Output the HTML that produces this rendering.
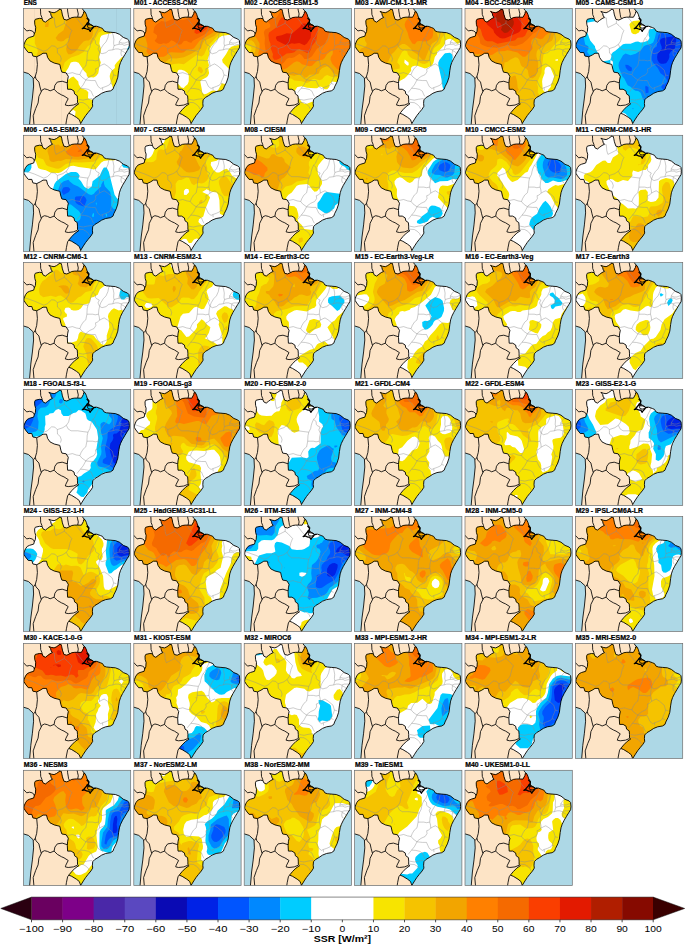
<!DOCTYPE html><html><head><meta charset="utf-8"><style>
html,body{margin:0;padding:0;background:#fff;}
body{width:685px;height:945px;overflow:hidden;}
svg{display:block;}
text{font-family:"Liberation Sans",sans-serif;}
</style></head><body>
<svg width="685" height="945" viewBox="0 0 685 945">
<defs>
<clipPath id="cb"><path d="M37.6,0.7 38.3,2.9 39,6.5 40.5,10.9 43.4,11.6 46.3,10.2 48.5,9.1 51.4,8.7 54.3,8.7 58,8.8 60,5.1 60.2,3.3 61.6,3.3 62.9,5.9 63.7,8.6 65.5,11.2 65.1,13.5 65.9,15.3 68.1,16.4 70,17.6 70.5,18.1 73.4,17.8 76.9,19.1 79.1,20 80.7,22.6 83.1,23.4 87.1,23.8 92,24.2 96,25.8 100,29 104,30.6 105.6,32.2 106,36.3 105.6,39.5 104,41.9 101.6,45.9 99.2,49.9 97.2,53.9 96,57.5 95.2,62.3 94.4,68.7 92.8,73.6 90.4,78.4 89.6,80.8 87.1,82.4 82.3,83.2 78.3,84.8 74.6,87.3 71.6,89 69.3,91.4 69,94.9 69.3,97.8 67.5,100.7 64.6,104.2 62.3,107.1 60,110.6 57.3,115 56.7,113.5 55.9,111.2 53,108.9 48.3,106 45.4,104.8 45.9,104.2 48.3,101.3 51.8,97.8 55.3,95.4 54.1,94.3 54.1,90.8 53.8,87.3 51.2,85.5 50.6,82.6 47.7,80.8 44.2,80.8 43.9,75 44.2,71.5 44.9,67.9 42.7,64.4 38.5,63.7 37.5,60.9 36.4,56 30.8,54.6 26.6,52.5 24.2,49 23.1,44.8 19.6,44.8 16.8,46.6 13.3,48.3 9.5,47.6 8.4,44.1 4.9,44.1 2.1,40.6 0.4,37.8 0.7,35.7 2.1,32.4 3.9,30 6.2,28.9 10.3,27.7 10.9,25.4 12,23 12.3,18.9 11.4,16 11.2,12.5 12,10.8 16.1,9.9 18.7,10.2 19.6,12.5 22,13.7 24.3,11.9 26.6,10.2 29,9 27.8,7.3 27.2,4.9 25.5,2.9 27.8,3.8 30.7,4.3 33.1,3.2 36,1.1Z"/></clipPath>
<clipPath id="cpn"><rect x="0" y="0" width="107.3" height="116.2"/></clipPath>
<filter id="bl" x="-5%" y="-5%" width="110%" height="110%"><feGaussianBlur stdDeviation="4.0"/></filter>
<path id="land" d="M-1,-1 58.5,-1 59.6,1.5 61.6,3.3 62.9,5.9 63.7,8.6 65.5,11.2 65.1,13.5 65.9,15.3 68.1,16.4 70,17.6 70.5,18.1 73.4,17.8 76.9,19.1 79.1,20 80.7,22.6 83.1,23.4 87.1,23.8 92,24.2 96,25.8 100,29 104,30.6 105.6,32.2 106,36.3 105.6,39.5 104,41.9 101.6,45.9 99.2,49.9 97.2,53.9 96,57.5 95.2,62.3 94.4,68.7 92.8,73.6 90.4,78.4 89.6,80.8 87.1,82.4 82.3,83.2 78.3,84.8 74.6,87.3 71.6,89 69.3,91.4 69,94.9 69.3,97.8 67.5,100.7 64.6,104.2 62.3,107.1 60,110.6 56.9,117.2 6.1,117.2 7.4,101.7 9,89.6 10.2,77.6 9.8,69.5 5,65.1 -0.2,63.5 -1,63.3Z"/>
<path id="br" d="M37.6,0.7 38.3,2.9 39,6.5 40.5,10.9 43.4,11.6 46.3,10.2 48.5,9.1 51.4,8.7 54.3,8.7 58,8.8 60,5.1 60.2,3.3 61.6,3.3 62.9,5.9 63.7,8.6 65.5,11.2 65.1,13.5 65.9,15.3 68.1,16.4 70,17.6 70.5,18.1 73.4,17.8 76.9,19.1 79.1,20 80.7,22.6 83.1,23.4 87.1,23.8 92,24.2 96,25.8 100,29 104,30.6 105.6,32.2 106,36.3 105.6,39.5 104,41.9 101.6,45.9 99.2,49.9 97.2,53.9 96,57.5 95.2,62.3 94.4,68.7 92.8,73.6 90.4,78.4 89.6,80.8 87.1,82.4 82.3,83.2 78.3,84.8 74.6,87.3 71.6,89 69.3,91.4 69,94.9 69.3,97.8 67.5,100.7 64.6,104.2 62.3,107.1 60,110.6 57.3,115 56.7,113.5 55.9,111.2 53,108.9 48.3,106 45.4,104.8 45.9,104.2 48.3,101.3 51.8,97.8 55.3,95.4 54.1,94.3 54.1,90.8 53.8,87.3 51.2,85.5 50.6,82.6 47.7,80.8 44.2,80.8 43.9,75 44.2,71.5 44.9,67.9 42.7,64.4 38.5,63.7 37.5,60.9 36.4,56 30.8,54.6 26.6,52.5 24.2,49 23.1,44.8 19.6,44.8 16.8,46.6 13.3,48.3 9.5,47.6 8.4,44.1 4.9,44.1 2.1,40.6 0.4,37.8 0.7,35.7 2.1,32.4 3.9,30 6.2,28.9 10.3,27.7 10.9,25.4 12,23 12.3,18.9 11.4,16 11.2,12.5 12,10.8 16.1,9.9 18.7,10.2 19.6,12.5 22,13.7 24.3,11.9 26.6,10.2 29,9 27.8,7.3 27.2,4.9 25.5,2.9 27.8,3.8 30.7,4.3 33.1,3.2 36,1.1Z"/>
<path id="st" d="M1.0,35.2 11.2,38.8 20.4,42.8M20.4,42.8 23.9,41.4 28.2,37.4 31.4,37.7 33.9,40.2M33.9,40.2 34.1,44.7 36.8,47.0 37.9,50.4 37.1,53.2M33.9,40.2 39.5,38.3 43.0,35.9M43.0,35.9 44.6,39.4 47.6,41.4 54.3,41.4 59.7,42.2 64.6,42.8M43.0,35.9 45.2,32.7 46.8,26.0 48.4,22.1 43.6,17.1 40.9,14.9M40.9,14.9 36.6,17.1 32.5,19.1 31.4,15.5 30.9,9.4 28.7,9.4 27.4,5.7M40.9,14.9 41.1,11.9M52.7,9.1 55.7,12.7 58.4,16.3 60.3,18.2M75.6,18.2 74.6,21.0 72.4,25.2 71.3,28.0 69.4,29.9M69.4,29.9 67.8,33.5 67.0,36.3 66.5,39.1 64.6,42.8M69.4,29.9 71.9,32.1 72.1,34.9 73.2,36.3 75.9,37.7 74.6,40.5 76.2,43.9M87.2,23.2 85.3,25.2 84.5,29.3 82.6,33.5 79.9,36.3 77.3,40.5 76.2,43.9M88.8,23.8 89.7,26.6 90.5,30.7 90.2,34.9 90.7,37.2M99.5,28.8 97.7,30.7 95.8,33.5 95.8,35.8 93.4,36.3 90.7,37.2M90.7,37.2 89.9,40.0 89.4,41.4 85.3,41.9 82.6,44.2 78.6,45.3 76.2,43.9M76.2,43.9 75.4,47.6 75.1,51.8M75.1,51.8 71.9,52.4 69.2,51.8 66.5,51.8 63.5,51.8M64.6,42.8 63.8,46.2 63.5,51.8M63.5,51.8 62.4,57.5 59.7,59.8 57.6,63.3 56.5,66.2M56.5,66.2 53.0,65.6 49.0,64.2 44.9,65.1 43.0,64.8M56.5,66.2 58.4,68.6 62.4,71.5M75.1,51.8 75.9,54.7 76.2,57.8M76.2,57.8 73.8,59.8 72.1,60.4 72.4,63.3 70.5,66.2 66.5,68.0 63.0,70.6 62.4,71.5M76.2,57.8 78.6,56.4 80.8,55.5 84.0,57.5 88.8,61.6 90.2,66.5M90.2,66.5 92.9,67.2M90.2,66.5 89.4,69.1 88.0,72.1 87.0,75.0M87.0,75.0 89.4,75.9M87.0,75.0 85.9,76.5 82.6,78.0 79.1,79.2M79.1,79.2 79.4,81.9M79.1,79.2 77.3,80.1 74.6,78.0 73.2,75.0 71.9,72.1 67.8,72.1 62.4,71.5M62.4,71.5 59.7,76.5 57.0,79.8 53.5,84.2M57.0,79.8 61.1,80.1 65.1,81.0 67.8,82.8 68.9,85.6 70.2,88.0M55.2,90.9 59.7,91.7 63.8,90.8 68.9,90.1M54.9,93.9 59.7,94.2 62.4,95.8 65.1,98.3 65.9,100.5M105.6,33.5 104.2,33.5 101.5,34.6 98.8,34.6 95.8,33.5M106.1,36.5 104.2,36.0 100.7,36.9 98.8,35.8 95.8,35.8M105.1,40.2 102.9,40.5 100.2,40.5 97.5,41.4M101.8,44.7 100.2,43.3 98.0,42.2 97.5,41.4M97.5,41.4 94.8,40.5 92.1,40.5 89.4,41.4M98.0,42.2 97.5,44.7 98.0,47.0 99.1,47.6"/>
<path id="rv" d="M63.3,9.4 65.4,11.8 65.1,13.5 63.3,15.6 61.6,17.6 60.1,19.3 58.9,20.1 61,19.6 62.6,20.3 63.9,20.8 65.4,20.8 66.8,22.9 67.4,21.7 69.4,19.6 70.3,18.2 72.4,17.9"/>
<path id="bb" d="M63,14.3 64.8,13.9 66.2,15.1 65.6,16.4 64,16.7 63.2,15.8Z"/>
<path id="mj" d="M64.2,17 65.1,16.4 66.8,16.4 69.4,17.2 69.8,18.1 69,19.3 67.1,19.7 65.2,19.5 64.3,18.5Z"/>
<path id="cs" d="M6.1,117 7.4,101.7 9,89.6 10.2,77.6 9.8,69.5 5,65.1 -0.2,63.5 -1.4,63.3 M57.3,115 56.9,117 M58.5,-1 59.6,1.5 61.6,3.3"/>
<path id="bd" d="M17,-0.5 17.2,3.5 17.3,6.1 18.5,9 18.7,10.2 M-0.4,18.6 3.3,22.5 6.2,21.9 8.6,22.5 10.3,23.6 10.9,25.4 M44.1,-0.5 44.2,2.5 44.8,5.8 45.2,8.5 46.3,10.2 M53.6,-0.5 54.2,2.5 54.9,5.5 54.3,8.7 M36,-0.5 36,1.1 M13.3,48.3 14,56 13.3,63 11.9,67.9 10.5,70 M11.9,67.9 12.6,70.5 15.5,73.6 16.6,78.5 17.9,83.2 15.5,88 14.7,94.5 12.3,100.1 9.8,107.3 10.6,116.5 M17.9,83.2 18.7,81.6 21.1,80.4 24.1,81.1 26.7,82.4 30.7,80.8 M30.7,80.8 31.5,76.8 33.9,73.6 38.8,72.8 43.9,74.4 M30.7,80.8 33.9,84 38,86.4 40.6,87.5 44.8,90.2 42.4,94.9 41.9,96.6 44.8,97.2 50,96.6 54.1,94.9 M45.4,104.8 44.2,106.5 43,112.4 42.4,116.5"/>
</defs>
<rect width="685" height="945" fill="#fff"/>

<g transform="translate(23.40,8.45)"><svg width="107.3" height="116.05" overflow="hidden"><rect x="-1" y="-1" width="109.3" height="118.2" fill="#add8e6"/><use href="#land" fill="#fde4c6"/><rect x="10.8" y="0" width="0.6" height="116.2" fill="#000" opacity="0.07"/><rect x="37.8" y="0" width="0.6" height="116.2" fill="#000" opacity="0.07"/><rect x="92.6" y="0" width="0.6" height="116.2" fill="#000" opacity="0.07"/><g clip-path="url(#cb)"><path fill="#ffffff" fill-rule="evenodd" d="M-2,-2H109.8V118.2H-2Z"/><path fill="#f7e400" fill-rule="evenodd" d="M-5.4,-5.8l118.6,0 -0,18.8 -5.1-1.1 -2.5,.4 -5,2.7 -5.1,4.4 -2.5-.1 -2.1,2.1 -1.3,2.7 -1.6,.8 -7.6,1.3 -2.5,1.2 -1.2,2.2 -.7,5.4 1.5,5.4 -.1,2.8 -1.8,5.4 1.8,5.4 -1.6,5.5 -.9,5.4 -2.1,2.6 -2.5,1.5 -2.5-.3 -2.6,.5 -1.7-1.6 -.5-2.7 -2.5-2.7 -5.3-7.9 -2.6-1 -2.5-.1 -2.7,.8 -2.5,5.5 -3.5,5.4 -.4,2.7 1.5,3.8 2.6-.1 2.5-2.3 2.5-1 4.8,5.1 .4,2.7 2.4,4 5,1.8 2.2,2.3 -.3,5.5 .6,.9 5.7,1.8 4.4,3.3 2.6-.3 2.5-3.8 2.5,.2 2.5,1.1 5.1,.1 2.5,1.8 2.5,.7 7.6-2.1 5-.6 5.1,1.8 -0,27.7 -42.8,0 -2.6-.5 -.6,.5 -13.5,0 .8-5.4 -1.2-2.7 -.4-2.8 -1.4-2.7 .7-5.4 -2.1-1.7 -3,1.7 -.7,2.7 -1.8,2.7 -.8,2.7 -2.9,2.8 -1,2.7 .1,2.7 1.8,2.7 -13.6,0 -.8-4.3 -2.5-.4 -1.6,4.7 -28.7,0 -0-24.4 .5-2.8 -.5-1.2 -0-41.5 .8-.8 .4-2.7 -1.2-1.3 -0-53.1zM40,102.6l-.4,.4 -0,2.7 .4,.5 3-3.2 -3-.4zM42.5,83.5l-.9,.4 -.2,2.8 1.1,1.8 2.5-.2 .9-1.6 -.9-1.9 -2.5-1.3zM99.7,48.6l3.4-.4 5.1,1.5 5-1.3 0,31.3 -1.4,1.5 -3.6,.8 -7.6-1.6 -5-.2 -5.1,2.4 -3.9-12.2 -.3-2.8 .7-2.7 1.2-2.7 3.3-2.7 -.2-2.7 2-2.8 4.8-4.9 1.6-.5z"/><path fill="#f5c300" fill-rule="evenodd" d="M-5.4,-5.8l27.6,0 1.8,2.7 .9,.5 3.4-3.2 84.9,0 -0,8.6 -2.5,-0 -7.6,3.1 -7.6,5.9 -2.5,.2 -2.5,1.8 -2.5,2.8 -7,4.8 -5.7,2.6 -3,5.6 -3.9,5.4 -4,2.7 -4.2,5.8 -5,3 -7.6,2.5 -3.2,2.3 -3.2,2.7 -1.6,5.5 -2.1,1.7 -2.5,.1 -10.1-4.7 -10.1,.1 -2.5-1.8 .1-6.3 2.1-5.4 -.6-2.8 -2.5-5.4 0-13.6 -.5-2.7 -3.8-5.5 -2.4-2.3 -2.5-1.3 -2.6,.2 -5,1.7 0-17.3zM107,56.7l1.4,0 -1.4,0zM112.8,62.2l.3-.4 0,10.9 -2.5-1.2 -.6-1.1 .6-4 2.2-4.2zM97.7,73.1l.4-.8 2.5,0 .2,.8 -2.7,.5 -.4-.5z"/><path fill="#f2a500" fill-rule="evenodd" d="M39.9,-5.8l36,0 -1.7,5.4 -.2,2.8 2.2,8.1 2.1,2.7 .5,2.8 -2.3,2.7 -3.6,1.9 -2.6-.5 -0-4.1 -2.5-3.4 -.8,.6 -1.2,2.8 .6,2.7 1.4,2.4 2.1,.3 -.6,5.4 -1.2,2.8 -2.8,2.4 -2.5,-0 -2.6,1.1 -4.3,4.6 -1.3,2.7 -2.8,2.8 -4.2,2.5 -2.7,.2 -1.6-2.7 -.6-2.8 2.9-10.8 -.5-.3 -2.5,1 -2.5,2.2 -2.6,.6 -3.2-.8 -2.1-2.7 2.8-4.1 5.1-3.8 2.8-8.5 -.2-2.7 -2.3-5.4 .4-2.7 -1.1-5.5 .2-2.7zM92.8,-3.1l.7,0 -.5,.5 -.2-.5zM97.9,-5.8l4.7,0 -2,2.2 -2.5,.6 -.2-2.8zM110.2,-5.8l3,0 -0,3.7 -1.7-1 -1.3-2.7zM94.4,-.4l1.2-1.4 .9,1.4 -.9,.8 -1.2-.8zM24.1,13.2l.8-1.9 .5,4.6 -.5,2.7 -3.3,0 .3-2.7 2.2-2.7z"/><path fill="#00ccff" fill-rule="evenodd" d="M105.6,37.7l2.5-1.7 5.1-.6 -0,8.8 -5.1,-0 -3.6-1.1 -.8-2.7 1.9-2.7z"/></g><use href="#st" fill="none" stroke="#8c8c8c" stroke-width="0.45"/><use href="#bb" fill="#151515"/><use href="#rv" fill="none" stroke="#000" stroke-width="1.3" stroke-linejoin="round"/><use href="#mj" fill="none" stroke="#000" stroke-width="1.0"/><use href="#bd" fill="none" stroke="#000" stroke-width="0.85"/><use href="#cs" fill="none" stroke="#000" stroke-width="0.85"/><use href="#br" fill="none" stroke="#000" stroke-width="0.9"/></svg><rect x="0" y="0" width="107.3" height="116.05" fill="none" stroke="#6e6e6e" stroke-width="0.7"/></g>
<text x="23.70" y="4.85" font-size="6.4" font-weight="bold" stroke="#000" stroke-width="0.22" textLength="13.22" lengthAdjust="spacingAndGlyphs">ENS</text>
<g transform="translate(133.80,8.45)"><svg width="107.3" height="116.05" overflow="hidden"><rect x="-1" y="-1" width="109.3" height="118.2" fill="#add8e6"/><use href="#land" fill="#fde4c6"/><g clip-path="url(#cb)"><path fill="#ffffff" fill-rule="evenodd" d="M-2,-2H109.8V118.2H-2Z"/><path fill="#f7e400" fill-rule="evenodd" d="M-5.4,-5.8l118.6,0 -0,31.1 -2.5,.7 -5.1,2.6 -2.5,.2 -2.5-2.1 -5.1-.5 -7.5,1.4 -3.1,2 -7.3,8.1 -1.6,2.7 -.4,5.5 -1.8,5.4 1.4,5.5 -.8,2.7 .9,5.4 -1.2,2.7 -1.3,1.3 -5,2.6 -1.3,1.6 1.6,8.1 -0,2.7 2.2,1.8 2.5-.5 5.1-2.8 2.5-.3 2.5,.8 1.6-1.7 3.5-6.3 5,1.2 .6-.3 1.9-2 .9-3.5 .3-5.4 -.4-2.7 -.8-1.5 -6.6-6.7 -.6-2.7 3.9-5.4 3-5.5 2.8-2.4 10.1-2.2 5.1-.5 -0,86.7 -67.7,0 -.4-.9 -.7,.9 -47.4,0 2.6-2.7 -5-.8 -0-124.3zM45.1,61.3l-1,.9 -1.8,5.4 -.1,5.5 5.4,5.9 2.5,.6 .6-1.1 3.1-2.7 1.1-2.7 .1-5.5 -1-2.7 -3.3-2.7 -3.1-.9 -2.5,0zM47.6,83.6l-1.4,3.1 .1,2.7 1.3,1.1 2.5-.2 2.4-3.6 -.9-2.7 -1.5-1.9 -2.5,1.5z"/><path fill="#f5c300" fill-rule="evenodd" d="M-5.4,-5.8l118.6,0 -0,28.3 -2.5,.5 -5.1,2.1 -2.5-.2 -5.1-2.3 -10,1.9 -2.6,1.2 -11.4,12 -3.7,8.3 -2.5,2.1 -5.1-1.6 -12.6,9.2 -5-.7 -5.1,.5 -2.5,.9 -2.5,5.4 -2.6-1.1 -2.5,-0 -5,1.1 -5.1-1.5 -2.5,.4 -5-1.4 -5.1,.8 -2.5-.6 -5.1,.7 -5-1.3 0-64.7zM64.1,59.5l1.1-1.5 2.5,1.1 1.6,3.1 -1.1,2.7 -1,0 -3.2-2.7 .1-2.7zM33.7,67.6l1.3-1.5 2.5,4.2 -1.3,10.9 -1.2,1.4 -3.3-1.4 -1.6-2.7 1.8-2.7 .7-2.8 -.2-2.7 1.3-2.7zM110.2,92.1l3-1.1 0,4.4 -2.6-.6 -.4-2.7zM5.3,94.8l1.9-2.6 2.5,2.6 .4,2.7 -.4,3.1 -2.5-.5 -1.9-5.3zM82.6,94.8l.4-.6 1,.6 -1,.5 -.4-.5zM-5.4,105.7l0-.4 .6,.4 1.2,2.7 -1.8,1.3 0-4zM79.9,108.4l3-.8 .7,.8 .1,2.7 -.8,.7 -2.5-.1 -.8-.6 .3-2.7zM107.5,111.1l.7-1.1 .9,1.1 -.9,.4 -.7-.4zM24.1,119.3l.8-.4 .4,.4 1.2,2.7 -6.1,0 2-1.9 1.7-.8zM70.1,122l2.7-.6 .6,.6 -3.3,0zM94.7,122l.8-.7 2.5-.1 .4,.8 -3.7,0z"/><path fill="#f2a500" fill-rule="evenodd" d="M-5.4,-5.8l118.6,0 -0,25.5 -7.6,1.9 -2.5-.4 -2.5-1.6 -2.6-.6 -5,.6 -5,1.7 -2.6,1.1 -5,5.1 -9.7,4.8 -1.7,2.7 -1.9,5.4 -4.4,1.6 -5,3.3 -7.6,3.6 -7.6,1.1 -5-.3 -2.5,1 -5.1,4.6 -2.5,.9 -5-.4 -5.1,.6 -10.1-3.4 -7.6,3 -5-.6 0-25.4 1.6-3.2 -1.6-.9 0-31.7z"/><path fill="#ff8000" fill-rule="evenodd" d="M-5.4,-5.8l89.9,0 1.1,5.4 -1.4,8.2 .7,8.2 -5.6,8.1 -13.5,8.2 -5.6,7.4 -2.5,1.2 -2.5-.2 -2.6,.8 -2.5,2.2 -2.5,.6 -10.1-.6 -2.5,.6 -2.6,2.7 -2.5,1.2 -5,.3 -5.1-.4 -5.2-2.2 -2-2.7 1.1-5.5 -.4-2.7 -1.6-5.4 -2-2.5 -2.5-.8 -2.5,-0 -1.9-2.2 -3.2-1.8 -5-.7 0-27.4zM98.5,13.2l2-.7 2.6,.5 7.5-1.3 2.5,.6 0,1.9 -2.1,1.7 -2.9,.3 -1.5-.3 -3.5-2.6 -4.6-.1z"/><path fill="#f56a00" fill-rule="evenodd" d="M58.9,-5.8l19.9,0 -5.9,5.4 -.9,2.8 1.2,2.7 4.6,4 1.8,4.1 -.1,2.8 -2.9,5.4 -7,5.4 -10.6,5.5 -1.4,2 -2.5-.5 -2.5-1.5 -2.5,.3 -2.6,3.1 -2.5,.6 -5-3.6 -2.5-.8 -2.6,2.5 -2.5,.8 -2.5-.5 -2.5,.8 -2.6-.3 -2.5-1.3 -1.5-1.6 2.2-2.7 .2-2.8 -3.7-2.7 1-5.4 1.8-2.4 5.1-3.8 5,.9 7.6-3.5 5,1.5 2.5,.2 2.6-.2 5-1.7 1.9-1.9 -.3-2.7 -2.8-5.5 3.7-2.6 1.3-2.8z"/><path fill="#fa3e00" fill-rule="evenodd" d="M65,13.2l2.8-2 2.5,.2 3.5,1.8 1.3,2.7 -.8,2.7 -1.4,1.7 -5.2,3.8 -4.9,1.5 -2.3-1.5 1.2-5.5 3.3-5.4z"/></g><use href="#st" fill="none" stroke="#8c8c8c" stroke-width="0.45"/><use href="#bb" fill="#151515"/><use href="#rv" fill="none" stroke="#000" stroke-width="1.3" stroke-linejoin="round"/><use href="#mj" fill="none" stroke="#000" stroke-width="1.0"/><use href="#bd" fill="none" stroke="#000" stroke-width="0.85"/><use href="#cs" fill="none" stroke="#000" stroke-width="0.85"/><use href="#br" fill="none" stroke="#000" stroke-width="0.9"/></svg><rect x="0" y="0" width="107.3" height="116.05" fill="none" stroke="#6e6e6e" stroke-width="0.7"/></g>
<text x="134.10" y="4.85" font-size="6.4" font-weight="bold" stroke="#000" stroke-width="0.22" textLength="62.88" lengthAdjust="spacingAndGlyphs">M01 - ACCESS-CM2</text>
<g transform="translate(244.20,8.45)"><svg width="107.3" height="116.05" overflow="hidden"><rect x="-1" y="-1" width="109.3" height="118.2" fill="#add8e6"/><use href="#land" fill="#fde4c6"/><g clip-path="url(#cb)"><path fill="#ffffff" fill-rule="evenodd" d="M-2,-2H109.8V118.2H-2Z"/><path fill="#f7e400" fill-rule="evenodd" d="M-5.4,-5.8l118.6,0 -0,127.8 -58.1,0 .6-2.7 -.3-2.7 -2.8-5.8 -5-6.3 -5.1-1.5 -2.4,2.7 -.7,2.7 1.6,8.2 .2,5.4 -46.6,0 0-127.8zM35,75.6l-1.1,2.9 1.1,.5 .5-.5 -.5-2.9zM88,73l-2.5,2.5 -.4,3 -2.1,2.3 -2.6,.1 -2.5-2.3 -2.5-.5 -2.5,1.7 -2.6,.1 -7.5-.7 -5.1-1.4 -4.5,.7 -2,2.7 -.6,2.7 .7,2.7 3.1,2.8 3.3,4.5 2.5,1.3 2.6,.2 5-2.2 2.5,.2 2.6,1.1 7.5-1.2 2.6-.9 6.5-5.8 1-4 2.5-1 2.2-3.1 -.1-2.7 -2.1-2.1 -5-.7zM80.4,113.5l-2.5,.4 -2.5,1.8 -0,1.2 2.5,3 2.5,.1 1.6-.7 2.1-2.8 .2-2.7 -1.4-1.2 -2.5,.9z"/><path fill="#f5c300" fill-rule="evenodd" d="M-5.4,-5.8l118.6,0 -0,82.7 -5.1,5 -2.5,.9 -2.6-1.6 -4-8.1 -2.9-2.8 -3.1-1.2 -5-.5 -5.1-2.1 -2.5,1.2 -2.5,3.1 -2.6,.9 -5.2-1.4 -2.3,.8 -2.6,2.5 -2.5,1 -5-1.8 -7.6-.7 -2.6-1.8 -2.4-.6 -7.6,1.4 -5.1,.1 -2.5,.8 -7.5-.5 -5.1,1.5 -2.5-.7 -2.5-2.5 -2.6-.2 -5,1.8 -2.5,.3 -5.1,0 -2.5-.7 -0-30.2 2.6,2.4 2.4,1.1 6.3-1.1 1.6-2.8 -1.2-2.7 -6.7-2.3 -2.5,.7 -1.8,1.6 -.7,1.5 -0-45zM70.9,105.7l1.9-.4 .4,.4 -2.3,0zM89.5,105.7l1-1.5 .9,1.5 -.9,1.1 -1-1.1z"/><path fill="#f2a500" fill-rule="evenodd" d="M-5.4,-5.8l118.6,0 -0,71.4 -2.5,.7 -1.2,1.3 -1.4,6.2 -2.5,.2 -5-5.3 -2.1-1.1 -9.5-2.7 -3.6-5.4 -2.5-1.7 -5,1.7 -2.4,2.7 -.6,2.7 -2.1,1 -7.6,.3 -2.5,2.7 -2.5,.5 -2.5-3.2 -2.5-.4 -5.1,1.6 -5-1.2 -10.1,.6 -5.1-1.2 -5,1.2 -5.1,.2 -5-1.5 -2.5-.1 -10.1,.3 -5.1,.8 -2.5-.4 -0-21.6 5,2.8 7.6-.8 2.5-1.4 1.2-1.9 .8-5.5 -2-4 -2.5-1.8 -2.5,.2 -5.1-1.3 -5,2.2 -0-38.8z"/><path fill="#ff8000" fill-rule="evenodd" d="M-5.4,-5.8l118.6,0 -0,12.5 -2.2,1.1 2.2,.5 -0,49.4 -5.1,.9 -2.5-.6 -2.5,.2 -5.1,3.4 -2.5,.2 -2.5-1.1 -5-5.5 -1.7-3.9 .3-2.7 1.8-2.7 .3-2.7 -.7-1.3 -5.1,3.6 -2.5,4 -2.1,1.8 -5.5,1 -5,4.9 -2.6,.6 -7.5-2 -2.5-2.2 -2.6-.8 -2.9,1.2 -7.2,5.8 -2.5,1.1 -5,.8 -7.6,.3 -5-1 -2.6,1.2 -5-1.9 -5.1,1.2 -2.5-.9 -5-3.1 -2.6,.1 -2.3,1.9 -2.7,.7 -0-12.7 5,3.7 7.6-1 2.5,.6 2.6,2.1 2.5,.9 1.4-2.5 -2.3-5.4 1.4-5.5 .1-5.4 -3.2-5.4 -2.5-2.7 -7.5-1.9 -5.1,.4 -2.5,2.3 -0-33.5zM105.6,4.5l-2.8,3.3 .3,3 4.3-3 .7-1.7 1.2-1 -3.7-.6z"/><path fill="#f56a00" fill-rule="evenodd" d="M11.7,-3.1l.6-1.3 2.5-.4 1.4,1.7 -1.4,2.5 -3.1-2.5zM32.9,-5.8l44.3,0 -3.1,2.7 -1.8,2.7 -.2,5.5 .7,.9 3.7,1.8 .8,5.4 3.1,0 2.5,1.6 1.9,3.9 .6,2.7 -1.9,8.2 -.6,1.5 -1.2,1.2 -.5,2.7 -8.4,5.2 -5,7.6 -2.5,1.8 -2.5,1 -2.6-.1 -2.5-3.5 -2.5-1.6 -5.1,3.3 -2.5,.8 -2.5-.2 -2.5,1.1 -2.6,3.4 -2.5,2.2 -2.5,1.1 -2.5,.3 -2.5-.2 -4.6-3.2 -4.2-5.4 -.3-2.7 .7-2.7 -1.2-8.2 .3-5.4 -1.1-5.5 1.1-2.7 5.2-2.7 .2-2.7 -2.5-2.8 1-2.7 5.4-.1 2.5-1.6 4.2-6.4 1.1-2.8 -.3-1 -2.6-1.7 -2-2.7zM94.8,2.3l.8-1.6 2.5,.9 -.5,3.4 -2,1.1 -2.5-.9 1.7-2.9zM.9,10.5l1.3-2.4 1.4,2.4 .4,2.7 -1.8,3.1 -1.5-.4 -.6-2.7 .8-2.7zM95.1,43.1l.4-.9 1,.9 -1,.7 -.4-.7z"/><path fill="#fa3e00" fill-rule="evenodd" d="M43.7,-5.8l18.5,0 .5,3.4 1.8,2 1.1,2.8 -.9,2.7 -2.2,2.7 2,2.7 5.8,2.3 3.4,5.9 .1,2.7 -1.8,10.9 -4.4,5.4 -.6,2.7 -1.8,3.7 -2.5,.4 -7.6-3.9 -2.5,.9 -2.5,2.2 -2.5,.9 -5.1,.5 -7.6,5.2 -2.5,.9 -2.5,.1 -1.6-2.7 .5-2.7 -2.1-5.5 -.5-5.4 -1.3-3 -.7-5.2 .7-2.7 7.5-5.4 2.5-6.4 2.6-3.3 5,.3 1.5-1.5 -.3-13.6z"/><path fill="#e31a00" fill-rule="evenodd" d="M57.5,15.9l.2-.5 2.5-.4 5,.8 1.7,2.8 .2,5.5 -.7,5.4 -3.7,5.5 -2.5,1.7 -5.1-2.1 -5,.8 -2.5-.7 -5.1,2 -2.5-.8 -7-3.7 -1.4-2.7 .8-1.8 5.1-1 5-1.9 5.1,.6 8.1-6.8 1.8-2.7z"/></g><use href="#st" fill="none" stroke="#8c8c8c" stroke-width="0.45"/><use href="#bb" fill="#151515"/><use href="#rv" fill="none" stroke="#000" stroke-width="1.3" stroke-linejoin="round"/><use href="#mj" fill="none" stroke="#000" stroke-width="1.0"/><use href="#bd" fill="none" stroke="#000" stroke-width="0.85"/><use href="#cs" fill="none" stroke="#000" stroke-width="0.85"/><use href="#br" fill="none" stroke="#000" stroke-width="0.9"/></svg><rect x="0" y="0" width="107.3" height="116.05" fill="none" stroke="#6e6e6e" stroke-width="0.7"/></g>
<text x="244.50" y="4.85" font-size="6.4" font-weight="bold" stroke="#000" stroke-width="0.22" textLength="73.39" lengthAdjust="spacingAndGlyphs">M02 - ACCESS-ESM1-5</text>
<g transform="translate(354.60,8.45)"><svg width="107.3" height="116.05" overflow="hidden"><rect x="-1" y="-1" width="109.3" height="118.2" fill="#add8e6"/><use href="#land" fill="#fde4c6"/><g clip-path="url(#cb)"><path fill="#ffffff" fill-rule="evenodd" d="M-2,-2H109.8V118.2H-2Z"/><path fill="#f7e400" fill-rule="evenodd" d="M-5.4,-5.8l118.6,0 -0,40.7 -2.5,.2 -2.6-1.6 -2.5,.2 -2.5,1.8 -5.1-4.3 -2.5-.8 -2.5,.4 -2.6,1.5 -0,2.7 -1.6,2.7 -3.4,3.7 -2.7,1.8 -.4,2.7 -2.1,2.7 -1.3,5.4 -1.4,2.8 -4.7,2.5 -2.5,.7 -7.6-2.7 -2.5-.1 -2.5,.8 -1.3,1.5 .2,2.7 -4.2,5.4 -2.3,2.3 -5,2.6 -5.1-2.5 -7.6-2.6 -7.5-1.8 -2.5,.5 -2.6,2.1 -2.5,.9 -7.6,.5 -2.5-.4 -5-2.3 -2.6,0 -5,2.1 -0-74.8zM50.1,51.1l-.4,2.9 .4,.8 2.5,2.2 1.5-.2 -.1-2.8 -3.9-2.9z"/><path fill="#f5c300" fill-rule="evenodd" d="M-5.4,-5.8l118.6,0 -0,29 -7.6,2.3 -2.5,1.5 -2.5,.1 -4-3 -1.6-2.7 -2-2.1 -1.2,2.1 -.1,2.7 -4.5,5.5 -1.8,5.4 -5,3.8 -1.3,1.6 -3.9,10.9 -1.8,2.7 -3.1,1.6 -2.5-.2 -2.6-1.2 -2.5-2.1 -5-2 -2.3-1.5 -2.2-2.7 -.6-2.9 -2.5-1.3 -2.5,1.7 -4.3,7.9 -.6,2.7 2.4,2.8 -0,3.2 -7.6,1.9 -2.5-2 -2.6-.8 -5,2.3 -5,.1 -7.6,2 -2.5-.4 -2.6-1.3 -2.5-.5 -5,1 -5.1,.1 -2.5,1.7 -0-26.1 2.5,1 2.5-.3 .3-1 -2.8-1.8 -2.5,1.3 -0-43z"/><path fill="#f2a500" fill-rule="evenodd" d="M-5.4,-5.8l89.4,0 1.4,4 3,4.2 -.4,2.9 -2.6,2.5 -2.5,1.6 -.6,1.1 1.9,2.7 3.8,2.6 -.3,2.9 -2,2.7 -2.8,1.4 -.8,1.3 1.5,5.5 -.7,2 -5.4,3.4 -1.9,2.7 -5.3,13.6 -2.6,0 -5-5.5 -5-2.9 -1.4-2.5 -3.7-3.4 -2.5-1.4 -2.5-.1 -3.5,2.2 -4.1,5.4 -3,2.8 -3.9,8.1 -5.7,3 -7.6,.4 -2.5,.7 -5-2.6 -10.1,1.5 -7.6-3.8 -0-8.2 7.6,.2 2.3-2 1.7-2.8 5.3-2.7 .7-2.7 -1.7-2.7 -1.4-8.2 -1.9-1.5 -5-2.3 -2.6,.4 -.6,.7 -.6,2.7 -1.3,2.4 -2.5-.5 -0-31.8zM97.3,10.5l.8-.6 1.1,.6 1.4,2.9 -2.5,.8 -.9-1 .1-2.7z"/><path fill="#ff8000" fill-rule="evenodd" d="M53.8,-5.8l25.9,0 .7,2.7 -.1,2.7 -2.4,4.3 -1.1,3.9 -1.7,2.7 -.8,2.7 1,3.6 2.6,2.1 .8,2.5 -.3,5.4 -.9,2.8 -4.7,3.2 -2.5,.3 -5.1-.6 -2.5,.4 -2.5,2.8 -2.5-.7 -3.3-5.4 -1.4-5.5 -2.5-5.4 -.5-2.7 .8-2.8 2.2-2.7 1-5.4 1.4-2.7 .5-2.8 -2.1-5.4zM11.9,7.8l.4-.8 .5,.8 -.5,.8 -.4-.8z"/><path fill="#00ccff" fill-rule="evenodd" d="M89.4,45.9l1.1-1 5-.5 1.8,1.5 .9,2.7 -1.6,8.2 2.1,2.7 -.4,13.6 -.8,2.7 -2,3.6 -2.5,2.1 -2.5,.3 -1.4-.5 -1.1-2.8 -1.2-8.1 -3.1-13.6 -0-2.7 1.2-2.8 4.5-5.4z"/></g><use href="#st" fill="none" stroke="#8c8c8c" stroke-width="0.45"/><use href="#bb" fill="#151515"/><use href="#rv" fill="none" stroke="#000" stroke-width="1.3" stroke-linejoin="round"/><use href="#mj" fill="none" stroke="#000" stroke-width="1.0"/><use href="#bd" fill="none" stroke="#000" stroke-width="0.85"/><use href="#cs" fill="none" stroke="#000" stroke-width="0.85"/><use href="#br" fill="none" stroke="#000" stroke-width="0.9"/></svg><rect x="0" y="0" width="107.3" height="116.05" fill="none" stroke="#6e6e6e" stroke-width="0.7"/></g>
<text x="354.90" y="4.85" font-size="6.4" font-weight="bold" stroke="#000" stroke-width="0.22" textLength="72.26" lengthAdjust="spacingAndGlyphs">M03 - AWI-CM-1-1-MR</text>
<g transform="translate(465.00,8.45)"><svg width="107.3" height="116.05" overflow="hidden"><rect x="-1" y="-1" width="109.3" height="118.2" fill="#add8e6"/><use href="#land" fill="#fde4c6"/><g clip-path="url(#cb)"><path fill="#ffffff" fill-rule="evenodd" d="M-2,-2H109.8V118.2H-2Z"/><path fill="#f7e400" fill-rule="evenodd" d="M-5.4,-5.8l118.6,0 -0,57.9 -2.5,.5 -1.4,1.4 -.1,2.8 1.5,3.7 2.5-.5 -0,62 -118.6,0 0-127.8zM80.4,59.3l-.9,2.9 .1,2.7 -2.1,5.5 -.4,2.7 .7,8.2 2.6,2.9 .9-.2 1.6-1.7 .3-1 2.6-2.8 .3-2.7 1.6-2.7 1.4-5.4 -3.7-8.6 -2.5-1.1 -2.5,1.3zM90.5,51l0,1.3 2.5-.2 0-1.2 -2.5,.1zM108.1,29.5l-2.6,2.7 2.6,3.3 1.7-3.3 -1.7-2.7z"/><path fill="#f5c300" fill-rule="evenodd" d="M-5.4,-5.8l118.6,0 -0,31.8 -12.6-.7 -2.6,1.4 -3.9,5.6 -3.6,2.9 -5.1,6.2 -5,2.5 -1.9,2 -2.2,19 -3.8,8.2 -.3,2.7 .9,2.7 -.3,5.7 1.9,2.5 6.1,2.7 2.1,3.5 2.5,2.1 2.6-.2 4.9-2.7 7.7-12.4 5-.9 5.1,2.1 2.5-.7 -0,41.8 -118.6,0 -0-127.8zM98,75.8l2.6-.6 .7,.6 -.7,1.6 -2.6-1.6z"/><path fill="#f2a500" fill-rule="evenodd" d="M-5.4,-5.8l118.6,0 -0,28.1 -2.5-.1 -5.1-1.6 -7.6,.4 -7.5,4.1 -1.8,1.7 -.5,2.8 -1.4,2.7 -6.4,3.5 -2.5,2.4 -5.1,3 -1,2 -.4,2.7 .1,2.7 1.7,5.4 -.2,8.2 -2.7,5.8 -2.5,1.9 -2.6-.3 -1.4-2 -1.1-6 -2.5-2.1 -2.5-.9 -1.7-1.8 -1.8-5.5 -1.6-1.9 -2.5-.5 -5,2.3 -2.6,2.1 -3,.7 -.6,5.5 -1.4,1 -5.1-.9 -7.5,1.3 -2.5-2.5 -2.6-.6 -2.5,.1 -5-2 -7.6,2.1 -2.5,2.4 -2.6-.2 -2.9-3.4 -2.1-1 0-61.6zM48.2,67.6l1.9-.6 .6,.6 1.4,5.4 .5,6.1 1.2,2.1 -1.2,1.3 -2.5,.7 -2.5,.1 -5.1-1.8 -2-3 -.1-2.7 1.4-2.8 2.1-2.7 4.3-2.7zM59.7,92.1l.5-.5 .4,.5 -.4,.4 -.5-.4zM112.4,111.1l.8-2.2 0,4.3 -.8-2.1zM2.9,116.6l1.8-1.5 1.5,1.5 -1.5,3.2 -.8-.5 -1-2.7z"/><path fill="#ff8000" fill-rule="evenodd" d="M-5.4,-5.8l118.6,0 -0,13.5 -1.3,2.8 -3.8,2.9 -5-1.3 -2.5-.4 -2.6,.4 -5-1.8 -5,1.7 -1.4,1.2 -.7,2.8 .9,5.4 -2.3,2.7 -4,2.7 -2.6,3.3 -2.6,.6 -5-1.6 -2.5,1.3 -1.4,1.9 -.4,2.7 1.2,2.7 .3,2.7 -4.8,5.7 -2.5,2.1 -2.5,-0 -5.1-4.1 -10.1-2.3 -2.5,.8 -7.6,.4 -5,3.2 -2.5,.6 -.9,1.8 -1.6,1.3 -2.6,.6 -5-5.1 -2.5,.3 -5.1-1 -2.5,1.5 -5.1,5.6 -5,.3 -0-57.9zM98.1,-3.1l-2.5,.8 -1,1.9 1,1.9 2.4-1.9 .1-2.7z"/><path fill="#f56a00" fill-rule="evenodd" d="M-5.4,-5.8l74.9,0 1.8,2.7 5.4,2.7 -.2,2.8 -1.8,2.7 -.6,2.7 1.7,2.7 .9,5.5 -.3,2.7 -6.1,5.3 -2.5,1.3 -5.1,5.6 -5,4.2 -7.6,2.7 -7.6-1.2 -10.1,2.7 -10-.7 -5.1-2 -2-1.6 -.8-5.4 -2.2-3.2 -4.1-2.3 -3.3-2.7 .4-2.7 -.6-1.3 -5.1,2.4 -5,.5 -0-26.1zM81.7,-5.8l1.4,0 -.2,2.9 -.4-.2 -.8-2.7z"/><path fill="#fa3e00" fill-rule="evenodd" d="M-5.4,-5.8l69,0 6.1,8.2 -.6,2.7 -1.3,1.8 -4.3,3.6 -.7,2.7 1,2.8 .3,2.7 -3.9,8.4 -2.5,1.8 -5.1,.5 -2.5,2.3 -1.9,.6 -15.8,2.9 -5-2.4 -5-.1 -2.6-1.2 -2.5-4.7 -1.4-5.4 -1.1-1.5 -2.5-1.4 -2.2-2.5 -2.9-2.1 -2.5-1 -5.1-.2 -5-1.1 0-17.4z"/><path fill="#e31a00" fill-rule="evenodd" d="M19.8,-5.8l34.8,0 -.8,2.7 -3.9,2.7 -.3,2.8 .5,.9 2.6,.6 2.5-2.2 .2,.7 -.7,5.4 1.6,5.4 .2,2.8 -.7,5.4 -.6,1.1 -1.7,1.6 -13.5,5.7 -2.5,.3 -2.5-.5 -3.6-2.8 -2.3-2.7 -.8-2.7 -5.9-5.1 -1.6-3.1 -.8-5.4 .7-2.7 2-2.7 -.2-2.8 -2.7-5.4zM6.8,7.8l.4-1.9 .3,1.9 -.7,0z"/><path fill="#b01e00" fill-rule="evenodd" d="M29.3,-5.8l12.9,0 .3,.7 2.5,6 1.5,6.9 2.4,5.4 -.2,2.8 -1.1,2.2 -2.2,3.2 -2.9,2.6 -2.5,.6 -1.3-.5 -2.8-2.7 1-2.7 -.6-2.7 -1.3-1.6 -2.6-1.3 -1.9-2.6 .1-2.7 1.2-2.7 -.5-2.7 -2.1-2.8 -.7-2.7 .8-2.7z"/></g><use href="#st" fill="none" stroke="#8c8c8c" stroke-width="0.45"/><use href="#bb" fill="#151515"/><use href="#rv" fill="none" stroke="#000" stroke-width="1.3" stroke-linejoin="round"/><use href="#mj" fill="none" stroke="#000" stroke-width="1.0"/><use href="#bd" fill="none" stroke="#000" stroke-width="0.85"/><use href="#cs" fill="none" stroke="#000" stroke-width="0.85"/><use href="#br" fill="none" stroke="#000" stroke-width="0.9"/></svg><rect x="0" y="0" width="107.3" height="116.05" fill="none" stroke="#6e6e6e" stroke-width="0.7"/></g>
<text x="465.30" y="4.85" font-size="6.4" font-weight="bold" stroke="#000" stroke-width="0.22" textLength="67.91" lengthAdjust="spacingAndGlyphs">M04 - BCC-CSM2-MR</text>
<g transform="translate(575.40,8.45)"><svg width="107.3" height="116.05" overflow="hidden"><rect x="-1" y="-1" width="109.3" height="118.2" fill="#add8e6"/><use href="#land" fill="#fde4c6"/><g clip-path="url(#cb)"><path fill="#ffffff" fill-rule="evenodd" d="M-2,-2H109.8V118.2H-2Z"/><path fill="#f7e400" fill-rule="evenodd" d="M65.9,-5.8l22,0 2.4,5.4 0,2.8 -.9,2.7 .7,8.1 -2.1,3.2 -5.1,.9 -7.6-2.9 -2.5-1.9 -2.5-.6 -2.5,.5 -2.1,.8 .2,2.8 -1,5.4 -1.4,2.7 -3.3,1.6 -2.5-.2 -1.7-1.4 -2-8.1 1.2-1.8 2.5-1.7 7.6-.8 .2-1.2 -1.9-2.7 -1.1-2.7 .4-2.7 2.9-5.5 .1-2.7z"/><path fill="#f5c300" fill-rule="evenodd" d="M69.6,-5.8l15,0 2.5,5.4 .1,2.8 -.8,2.7 .4,5.4 -1.4,3.2 -2.5,.4 -5-1.6 -10.1-5.7 -1.3-1.7 .5-2.7 1.4-2.8 1.2-5.4z"/><path fill="#f2a500" fill-rule="evenodd" d="M72.7,-3.1l1.2-2.7 6.8,-0 2.2,3.6 .8,1.8 .1,2.7 -.9,5.2 -2.6,2.6 -2.5-.2 -3.6-2.1 -2.8-2.7 1.3-8.2z"/><path fill="#00ccff" fill-rule="evenodd" d="M-5.4,-5.8l21.1,0 .4,2.7 1.2,2.2 4.5,3.3 .8,2.7 -.5,5.4 -2.3,2.4 -7.5,1.2 -5.1-.5 -2.2,2.4 2.2,1.9 1.8,3.5 3.3,3.6 2.5,7 4.8,5.7 .2,1.8 2.6,4.9 2.3,6.9 2.7,1.4 5-.6 2.5-.8 1-2.7 -0-2.7 1.6-2.1 2.5-1.5 7.6-6.5 2.5-.6 5.1,.2 5-2.2 2.5-.2 2.5,1 2.6-.2 4.7-1.5 1.6-2.7 -.9-2.8 .2-5.4 1.9-.9 15.2-1.3 2.5-1.7 5.4-1.5 2.2-2.2 5,.5 7.6-3.4 -0,111.1 -15.9,0 -1.8-2.6 -1.4,2.6 -42.6,0 2.2-2.7 -.8-5.4 0-5.5 -2.8-3.1 -2.5-1.3 -7.6,.9 -5,3.1 -10.1-6.8 -5.1,1.3 -5,3.2 -2.5-.1 -5.1-2.1 -2.5,0 -2.5,1.7 -2.6,.8 -2.5-3 -2.5-1.5 -0-107.3zM29.9,82.8l-.8,1.1 -.3,2.7 1.1,1.1 1.2-1.1 -.3-2.7 -.9-1.1zM35,51.5l0,6.4 2.5-.1 0-4.9 -2.5-1.4zM93,115.4l0,1.5 0-1.5z"/><path fill="#0088ff" fill-rule="evenodd" d="M109.7,18.7l3.5-.7 -0,71.1 -5.1,.4 -2.5,.9 -2.5,2.4 -2.6,1 -2.5-.1 -5-1.6 .1,2.7 -2.6,3.2 -2.6-1.9 -1-1.3 -.8-2.7 -3.2-2.8 -3.8,2.8 -2,2.7 -1.8,.9 -3.8-.9 -3.8-3.6 -2.5-7 -2.5-1.6 -2.5-.4 -1.8-.9 -3.3-2.9 -2.5-1.4 -.9-1.2 -2.7-5.4 -2.2-2.7 -3.3-8.2 -.4-2.7 .4-2.7 4.1-7.2 2.5-1.9 5,1.9 5.1-1.6 5-3.2 3.2-4.4 1.9-1 5-1.2 2.5-1.5 1.7-4.4 1.2-5.5 2.2-1.9 2.5-.7 5.1,1.1 10-2.6 5.1-.2 4.1-1.1zM-3.1,21.4l5.3,1.6 2.5,1.4 2.5,2.4 1.3,2.8 1.3,6.4 3.1,1.7 .3,2.7 -1.5,2.8 1.7,2.7 1.4,1.3 2.6,1.4 2.6,5.4 2.4,2.2 5,1.4 2.2,1.9 1,2.7 .1,2.7 -.8,1.8 -2.5,1.8 -2.5,.9 -5.1,.3 -5,1.2 -5-2.1 -2.6-.2 -2.5,1.3 -7.6,.6 -2.5,1.6 0-49.9 2.3-.8zM56.6,100.3l1.1-.5 .6,.5 -.6,.6 -1.1-.6zM62.3,111.1l.5,0 -.5,0zM87.7,122l.5,-0 -.5,0z"/><path fill="#0055ff" fill-rule="evenodd" d="M97.8,24.1l5.3-.4 2.5,1.1 5.1,.6 2.5,.8 0,27.1 -2.5-1 -.7-1 -1.2-5.4 -3.2-2.2 -2.5-.1 -3.1,2.3 -.8,2.7 .1,2.7 -2.6,5.4 -.5,2.8 .9,2.7 3.3,5.4 .3,2.7 -2.6,2.8 -1.1,2.7 -.8,5.4 -.6,.8 -2.6,.2 -2.5-.9 -2.7-.1 -2.1-2.7 2.1-2.7 2.7-1.1 1.2-1.6 -.7-2.8 -3-3.6 -2.9-1.8 -2.8-5.4 -4.7-5.5 -1.2-2.7 -.1-2.7 .8-5.5 1.1-2.7 3.3-2.7 .3-5.4 1.2-5.5 2.5-2.5 5,1.3 7.3-1.5zM49.9,56.7l.2-.5 2.6,.4 3.8,2.8 -.1,2.7 -1.2,.6 -2.5-.6 -2.3-2.7 -.5-2.7zM69.8,78.5l.5-1.2 2.7,1.2 .2,5.4 -.4,.5 -2.5,.4 -.5-6.3z"/><path fill="#0022e6" fill-rule="evenodd" d="M87.6,29.5l10.5-1.7 2.3,1.7 .4,2.7 -1.4,8.2 -3.9,2.7 -1.7,2.7 .2,2.7 -.9,2.8 -1.8,2.7 -.8,.8 -2.5,.6 -2.6-.1 -1.8-1.3 -1.6-2.7 -.3-2.8 .4-2.7 .8-1.5 3.5-3.9 -.3-2.7 -1.2-2.8 -.3-2.7 .8-1.6 2.2-1.1z"/></g><use href="#st" fill="none" stroke="#8c8c8c" stroke-width="0.45"/><use href="#bb" fill="#151515"/><use href="#rv" fill="none" stroke="#000" stroke-width="1.3" stroke-linejoin="round"/><use href="#mj" fill="none" stroke="#000" stroke-width="1.0"/><use href="#bd" fill="none" stroke="#000" stroke-width="0.85"/><use href="#cs" fill="none" stroke="#000" stroke-width="0.85"/><use href="#br" fill="none" stroke="#000" stroke-width="0.9"/></svg><rect x="0" y="0" width="107.3" height="116.05" fill="none" stroke="#6e6e6e" stroke-width="0.7"/></g>
<text x="575.70" y="4.85" font-size="6.4" font-weight="bold" stroke="#000" stroke-width="0.22" textLength="67.32" lengthAdjust="spacingAndGlyphs">M05 - CAMS-CSM1-0</text>
<g transform="translate(23.40,135.30)"><svg width="107.3" height="116.10" overflow="hidden"><rect x="-1" y="-1" width="109.3" height="118.2" fill="#add8e6"/><use href="#land" fill="#fde4c6"/><g clip-path="url(#cb)"><path fill="#ffffff" fill-rule="evenodd" d="M-2,-2H109.8V118.2H-2Z"/><path fill="#f7e400" fill-rule="evenodd" d="M-5.4,-5.8l118.6,0 -0,16.7 -2.5,.4 -2.6,1.9 -2.5,.3 -5-1.7 -1.8,1.4 -2,2.8 .7,2.7 -4.5,5 -2.5,1.6 -5.1-.4 -5,.9 -2.5,1.3 -5.1,6.4 -2.5,.6 -5.1-1.2 -10-1.1 -5.1-1.3 -2.5,.2 -2.5,1 -7.6,5.3 -2.5,.7 -7.6-.3 -5-2.5 -5.1-1 -2.5-1.3 -2.1-5.8 -1.8-2.7 -3.7-3.5 -2.5-1 -5.1,.3 -5-1 -0-24.7zM-4.8,45.9l2-1.7 2.9,1.7 -.4,1.1 -2.5,1 -2-2.1z"/><path fill="#f5c300" fill-rule="evenodd" d="M-5.4,-5.8l88.3,0 .7,5.4 -2.4,5.5 2.6,5.4 3.9,5.5 -1.3,2.7 -3.5,1.5 -5,.6 -5.1,4.5 -2.5,1.1 -12.6,.9 -7.6-.3 -7.6,1.8 -5,3.7 -2.5,1 -2.6-.4 -7.5-2.1 -2.1-1.4 -3-5.7 -5-1.5 -.8-1 -.3-2.7 -1.4-2.1 -2.6-1 -5-4.3 -2.5-.4 -2,2.3 .7,2.8 -1.3,.5 -3-.5 -2-1.7 0-20.1zM24.9,-1l-.9,.6 .3,2.7 2.9,2.8 2.7-.8 1.7-2 -.4-2.7 -3.8-.8 -2.5,.2z"/><path fill="#f2a500" fill-rule="evenodd" d="M41.9,-5.8l37.8,0 -1.8,10.9 -.4,8.1 -1,2.8 -3.6,3.3 -5.1,2.9 -2.5,.8 -10.1,1.5 -12.6-.7 -5.1,1.9 -2.5-.3 -5,1.4 -2.5-.6 -1.5-2.1 -.2-2.7 -1.8-5.4 .7-2.8 2.8-2.5 5-1.1 2.5-.3 2.5,1.9 1-.7 1.6-1.8 1-3.6 5.4-5.5 -.2-2.7 -1.2-1.7 -3.2-1z"/><path fill="#ff8000" fill-rule="evenodd" d="M57.5,-3.1l1.2-2.7 17.7,-0 -.4,8.1 -1.3,8.2 -1,2.7 -.9,1.2 -5,1.9 -5,3.1 -7.6,2.1 -4.3-.1 -5.8-1.6 -1.6-1.1 -1-2.8 3.6-2.7 4-4.4 2.6-1.3 2.5-.1 .6-2.3 .1-5.5 1.6-2.7z"/><path fill="#f56a00" fill-rule="evenodd" d="M62.7,-5.8l10.6,0 -.8,13.6 -.8,2.7 -1.4,1.6 -2.5,.6 -4.4-2.2 -1.1-2.7 -2.1-3.1 -.7-2.3 .8-2.8 1.8-2.7 .6-2.7zM54.1,15.9l3.6-2.4 1,2.4 -3.5,.8 -1.1-.8z"/><path fill="#00ccff" fill-rule="evenodd" d="M104.6,21.4l3.5-1.3 5.1-.2 -0,13.8 -13.2-1.4 -1.6-2.7 1-2.8 3.7-4.4 1.5-1zM-5.4,24.1l0-1.9 7.6,.7 2.5,.4 1.2,.8 1.9,2.7 .3,5.5 -1.1,2.7 -2.3,2.3 -5.1-.5 -5,1.8 -0-14.5zM81,32.3l2.2,0 2.2,4.1 5.8,23.1 1.8,2.7 2.6,2.7 7.5,3.4 2.5,.6 2.5,0 5-2.2 0,55.3 -118.5,0 -0-67.8 2.5,.1 7.6,1.9 2.5-1 2.5-.1 2.5,1 2.5,.1 5.1-1.7 5,2.7 2.6,0 2-3.1 1.6-5.5 1.9-2.7 9.6-7.2 5-2.1 2.6,-0 2.5,.2 1.9,.9 1.8,2.8 -1.2,2.8 2.5,2.7 3.1,5.3 2,1.4 2.5,.8 3.1-2.2 .9-5.4 7.1-5.4 2.5-5.5 1.5-2.5 .7-.2z"/><path fill="#0088ff" fill-rule="evenodd" d="M106.4,26.8l1.8-.5 .4,.5 -.4,.4 -1.8-.4zM40.4,45.9l4.7-1.5 1,1.5 4,3.2 4.7,2.2 10.5,7.7 2.5,.6 2.5-.8 1.5-2 5.9-5.5 .2-2.1 1.8-3.3 .7-.2 .3,2.9 .9,2.7 5.2,5.5 1.1,5.4 -.1,8.2 1.9,2.7 .8,.7 2.5,.2 2.6-1.1 7.5-.1 7.6,1.9 2.5,.1 0,47.2 -55.4,0 -1.6-2.7 -1.8-5.4 -1.7-2 -1.1,2 -.5,2.7 .2,5.4 -56.7,0 0-64.1 5.1,.5 5,1.8 5.1,.1 5,1.7 2.5,-0 2.6-1.4 2.5,.2 2.5,1.3 2.5-.2 5.1-2.8 1.5-2.3 3-8.2 3.4-2.7zM42.5,69l-2.4,1.3 2.4,7.8 1.5,3.1 6.1,4 2.5,1 2.5-.5 1.7-1.8 .6-2.7 -.1-2.7 -1.8-2.7 -8-6.5 -5-.3zM70.3,77.8l-1,.7 -.8,2.7 1.8,.6 .4-3.3 -.4-.7zM72.8,67.2l-.4,.4 .4,2.8 .5-2.8 -.5-.4zM82.9,78.2l-.8,.3 .8,3 .9-.2 -.4-2.8 -.5-.3zM12.3,110l-2,1.2 2,.8 1.8-.8 -1.8-1.2zM24.9,90.3l-1.1,1.8 1.1,1.8 2-1.8 -2-1.8z"/><path fill="#0055ff" fill-rule="evenodd" d="M39,54l1-1.7 2.5-.6 2.6,.3 1.9,2 -1.5,2.7 -5.5,3 -1.7-3 .7-2.7zM51.6,62.2l1-.9 7.6-.7 1.8,1.6 1.2,2.7 -2,5.5 -1,.7 -5.1-1.6 -2.5-1.7 -1.1-2.9 .1-2.7zM34.6,78.5l.7,0 -.3,1.3 -.4-1.3zM102.4,78.5l.6-.7 2.6,.1 2.9,3.3 1.2,2.7 -1.6,.5 -2.5-1.4 -3.2-4.5zM14.7,89.4l2.6-1.8 1.6,1.8 -1.6,3.2 -2.5,.8 -.9-1.3 .8-2.7zM69.7,116.6l.6-.9 2.6-1.1 1,2 0,2.7 -1,1.4 -3.2-1.4 0-2.7zM106.5,119.3l1.7-1 2.5,.2 2.5,1.4 0,2.1 -7.8,0 1.1-2.7z"/></g><use href="#st" fill="none" stroke="#8c8c8c" stroke-width="0.45"/><use href="#bb" fill="#151515"/><use href="#rv" fill="none" stroke="#000" stroke-width="1.3" stroke-linejoin="round"/><use href="#mj" fill="none" stroke="#000" stroke-width="1.0"/><use href="#bd" fill="none" stroke="#000" stroke-width="0.85"/><use href="#cs" fill="none" stroke="#000" stroke-width="0.85"/><use href="#br" fill="none" stroke="#000" stroke-width="0.9"/></svg><rect x="0" y="0" width="107.3" height="116.10" fill="none" stroke="#6e6e6e" stroke-width="0.7"/></g>
<text x="23.70" y="131.70" font-size="6.4" font-weight="bold" stroke="#000" stroke-width="0.22" textLength="61.04" lengthAdjust="spacingAndGlyphs">M06 - CAS-ESM2-0</text>
<g transform="translate(133.80,135.30)"><svg width="107.3" height="116.10" overflow="hidden"><rect x="-1" y="-1" width="109.3" height="118.2" fill="#add8e6"/><use href="#land" fill="#fde4c6"/><g clip-path="url(#cb)"><path fill="#ffffff" fill-rule="evenodd" d="M-2,-2H109.8V118.2H-2Z"/><path fill="#f7e400" fill-rule="evenodd" d="M30.5,-5.8l82.6,0 0,15.1 -5,1.1 -7.6,0 -5,.9 -5.1,2.3 -2.5,2.2 -1.3,5.6 -1.2,1.8 -2.5,2.2 -5.6,1.4 -.4,2.8 3,5.4 3,2.2 2.5,.1 5-3.2 2.6-.7 2.5,2.2 2.9,4.8 4.2,2.8 10.5,.5 0,14.9 -10.1,.7 -2.5,2.1 -1.8,.8 -1.7,2.7 1,1.9 5,2.9 2.6,3.2 7.5,1 0,8.5 -7.5,.4 -2.6-1.8 -5,1.6 -2.5-.1 -4.1-1.3 -5.3-2.7 -.5-13.6 -1.3-5.4 -1.4-2.3 -5.1-.7 -5-2.5 -4.4,2.8 5.9,2.7 2,2.7 -4.5,10.9 -2.3,8.1 -4.3,2.7 -.6,2.8 3.1,3 2.6,.3 4.7,4.8 1.6,2.7 -1.3,3.4 -2.1,2.1 -2.9,1.2 -2.6,.3 -5-1.3 -2.5,1 -2.6,3.4 -2.5,.2 -2.5-4.1 -2.5-.3 -2.6,1.3 -7.5,1.9 -2.5-2.2 -2.6-.9 -2.5,.5 -5-3.6 -7.6,4.1 -7.6,3 -2.5-.2 -5-3.4 -2.6-.4 -5,1.9 -2.5,.3 -0-83.8 10.1-1.8 5,2.8 5,.3 2.6-2 1.6-2.5 2.1-5.5 3.8-5.1 5.1-.4 1.2-2.6 -.6-10.9zM52.6,53.4l-1.3,.6 -1.2,1.8 -0,3.7 2.5,.2 2.8-2.9 -.7-2.8 -2.1-.6z"/><path fill="#f5c300" fill-rule="evenodd" d="M37.5,-5.8l4.3,0 3.3,2.5 2.5-.8 .5-1.7 37.9,0 -2,10.9 .7,5.4 -1.8,7.3 -2.5,2.6 -5.1,1 -2.5,1.7 -1.2,3.7 1.8,5.5 .1,5.4 1,2.7 -.1,2.8 -1.6,2.2 -2.5,2.1 -2.5,.7 -2.5-.6 -2.6,.7 -2.5,1.6 -2.5-1.6 -2.5-5.7 -2.6-.4 -5,2.6 -2.5,0 -1.7,1.1 -1.6,2.7 .4,8.2 -1.6,5.4 .4,2.7 -2.6,5.4 .1,2.8 -1,2.9 -2.5,-0 -2.5-4.6 -2.6-1.1 -2.5-.4 -5-3 -5.1,2.7 -15.1-3.5 -2.5,.5 -2.5,6.5 -1.7,2.7 -.9,3.3 0-50.8 5.1-2.6 5-.8 10.1,1.9 2.5,.2 2.5-.5 2.7-2.4 .6-5.4 .8-2.7 1-1.6 2.5-.5 2.5,.7 2.7-1.4 2.7-8.1 1.1-8.2 1.1-2.7zM47.6,1l-1.4,1.3 1.4,1.5 .4-1.5 -.4-1.3zM12.3,51.5l-1.8,2.6 1.8,.6 1.8-.6 -1.8-2.6zM90.4,40.4l2.7,1.5 5,6.9 2.5,.8 2.5-.3 1.1,2 -1.1,.7 -2.5,4.9 -7.5,4 -2.6-.2 -2.5-3.4 -2.8-8.7 -.2-2.8 1.4-2.7 4-2.7zM66.6,64.9l1.2-.5 1,.5 -.5,2.7 -.5,.7 -2.6,.2 0-1.6 1.4-2z"/><path fill="#f2a500" fill-rule="evenodd" d="M55,-5.8l6.9,-0 .8,.6 .7,2.1 -1.1,5.5 1.5,13.6 -2,2.7 -.9,2.7 4.4,9.1 1.5,1.8 -1.6,2.7 -5,1.7 -5,.4 -2.6-.3 -2.4-1.8 -2.6-2.9 -3.6-2.5 -1.2-2.8 2.9-5.4 -.6-2.7 1.1-2.7 1.4-.4 2.6-5.1 3.9-5.4 1.2-8.2 -.3-2.7zM77.1,10.5l.8-1.4 1.3,1.4 -.1,2.7 -1.2,1.8 -1.3-1.8 .5-2.7z"/></g><use href="#st" fill="none" stroke="#8c8c8c" stroke-width="0.45"/><use href="#bb" fill="#151515"/><use href="#rv" fill="none" stroke="#000" stroke-width="1.3" stroke-linejoin="round"/><use href="#mj" fill="none" stroke="#000" stroke-width="1.0"/><use href="#bd" fill="none" stroke="#000" stroke-width="0.85"/><use href="#cs" fill="none" stroke="#000" stroke-width="0.85"/><use href="#br" fill="none" stroke="#000" stroke-width="0.9"/></svg><rect x="0" y="0" width="107.3" height="116.10" fill="none" stroke="#6e6e6e" stroke-width="0.7"/></g>
<text x="134.10" y="131.70" font-size="6.4" font-weight="bold" stroke="#000" stroke-width="0.22" textLength="70.75" lengthAdjust="spacingAndGlyphs">M07 - CESM2-WACCM</text>
<g transform="translate(244.20,135.30)"><svg width="107.3" height="116.10" overflow="hidden"><rect x="-1" y="-1" width="109.3" height="118.2" fill="#add8e6"/><use href="#land" fill="#fde4c6"/><g clip-path="url(#cb)"><path fill="#ffffff" fill-rule="evenodd" d="M-2,-2H109.8V118.2H-2Z"/><path fill="#f7e400" fill-rule="evenodd" d="M-5.4,-5.8l95,0 .9,.9 1.8-.9 7.5,0 .8,.9 2.5,.8 1-1.7 9.1,0 -0,21.6 -2.5-.1 -2.6-1.3 -5,1.2 -2.5,-0 -7.6-4.4 -2.5,2 -.9,2.8 -4.2,5 -5,2 -2.5,2.2 -3.6,4.4 -1,2.7 .3,5.4 1,2.7 3.3,5.5 -.1,2.7 -2.5,4.4 -2.5,3 -2.5,.4 -2.5-2.5 -2.6-3.7 -2.2-1.6 -7.8,.8 -2.6,1 -5,6.7 -3.3,2.4 -2.2,2.7 -.3,2.7 .7,2.9 2.6,2.6 5,.5 2.4,2.2 1.5,5.4 .3,2.7 -1.1,2.7 1,2.8 3.1,2.7 2.9,4.3 7.6,.9 5-3.3 2.5-.7 7.6,.2 2.5-.7 2.6,.3 2.5,3.8 2.5,.2 2.5-1.1 2.5-2.7 1.8,1.5 5.8,1.5 5.1-.6 1.8-.9 .7-1.1 -0,8.9 -.4,.4 .4,1 -0,11.4 -2.8,1.2 2.8,3 -0,5.1 -77.4,0 -.8-.6 -2.4,.6 -6.7,0 -1-1.8 -2.5-.3 -2.6,1.4 -5-.9 -1.3,1.6 -18.9,0 0-3.5 1.7-1.9 -1.7-2.7 0-18.9 .5-2.9 -.5-.4 0-12.8 .7-.4 .6-2.7 -1.3-.9 0-80.7zM32.5,90.7l-1.8,1.4 1.1,2.7 2.1,2.7 1.1,3.1 .8-.3 .6-2.8 -.5-5.4 -.9-1.8 -2.5,.4zM35,78.5l-.4,0 .4,0z"/><path fill="#f5c300" fill-rule="evenodd" d="M6.6,-5.8l17.5,0 -1.7,7.6 -3,6 -.2,2.7 .6,1 5.1-.4 5,1.4 2.6,.2 2.5-2.2 .1-2.7 -1.4-5.4 -1.2-8.2 38.8,0 1.5,2.3 2.2-2.3 4.8,0 -1.2,2.7 -2.5,2.7 -.8,2.8 -.2,2.7 -2.2,2.7 -5.1,1.6 -.9,1.1 .2,10.9 -.7,2.7 -1.7,2.7 -.1,2.8 .8,2.7 -1.3,5.4 2,2.7 -.4,2.8 -8,2.3 -5.1,.7 -5,3.5 -6,1.6 -1.6,1.4 -2.8,4.1 -4.7,4.7 -5.1,.6 -5-2 -5.1,1.1 -10.1-1.2 -5,.4 -5.1,1.4 -2.5-.4 0-64 2.5,.5 5.1,4.8 .6-.3 .4-2.8 1.5-1 1.9-4.4zM62.7,4.3l-.7,.8 .7,1.3 2.3-1.3 -2.3-.8zM110.1,5.1l.5-2.4 2.5,0 0,8.7 -3-6.3zM27.4,81.2l1.3,2.7 -.8,2.7 -.5,.6 -2.5-.3 -.8-3 .8-1.1 2.5-1.6zM54.7,103l3-.9 .9,.9 .1,2.7 -1,1.1 -2.5,1 -1-2.1 .5-2.7zM69.5,103l.8-1 1.1,1 .3,2.7 -1.4,2.9 -1.7-2.9 .9-2.7zM79.6,103l.8-.6 2.5,.6 -0,2.8 -2.5,.4 -.8-.5 0-2.7zM4.2,116.6l.5-.1 3.2,5.5 -4.9,0 .2-2.7 1-2.7z"/><path fill="#f2a500" fill-rule="evenodd" d="M12.5,-5.8l5.7,0 -.9,3.1 -2.5,1.3 -1.5-1.7 -.8-2.7zM42.1,-5.8l12.5,0 1.5,5.4 -.1,2.8 -1.5,2.7 -2.6,2.7 -1.7,.9 -5.1,.4 -2.5-1.7 -1.6-2.3 -.5-2.7 1.5-5.5 .1-2.7zM-5.4,7.8l0-1.9 2.5,1.5 6.5,5.8 3.6,1.8 5.1,4.4 10.1,3.8 2.5-.3 2.5-3.7 2.5-.5 2.5,2 2.6,.9 2.5-.1 2.5,2.5 .6,2.8 6.1,5.5 -4.2,7.2 -2.5,2.6 -2.5,1.5 -1.6,2.3 -2.3,8.1 -1.9,2.8 -1.8,.7 -2.5-.1 -2.5-.6 -5.1-2.5 -5,.8 -7.6,.4 -5-.6 -2.6,.5 -2.5,1.7 -2.5,.1 -0-49.4zM-.3,42.7l-.6,.4 .6,.5 .6-.5 -.6-.4zM52.4,13.2l.2-.6 2.5-1.4 2.6-.2 2.5,.6 2.2,1.6 1.5,2.7 .2,2.7 -1,2.8 -2.9,1.1 -5.1-2.2 -2.5-2.6 -.6-1.8 .4-2.7z"/><path fill="#ff8000" fill-rule="evenodd" d="M-1.3,18.7l3.5-1 2,1 3,2.7 5.1,2.2 5.1,3.3 5.7,5.4 .3,2.7 -2.7,2.7 -.8,3.4 -2.6,1.7 -1-2.3 -1.5-1.5 -2.5,.8 -2.5-.2 -5.1-3.2 -5-1.4 -2.5-.4 -2.6,1.8 0-17.1 4.1-.6z"/><path fill="#00ccff" fill-rule="evenodd" d="M105.1,21.4l3-.1 5.1,3.1 -0,10.9 -5.1-.7 -2.5,.5 -2.5-.9 -2.5-2.8 -3.7-1.8 -1.4-1.6 -.4-1.2 .3-2.7 2.7-1.9 5-.1 2-.7zM82.6,56.7l12.9,1.8 3,3.6 -.7,2.8 -6.9,5.4 -.8,2.7 -4.7,3.7 -2.5,1.2 -2.5-.2 -7-4.7 -.2-2.7 .1-2.7 2.4-2.7 3.2-5.5 1.5-1.7 2.2-1z"/></g><use href="#st" fill="none" stroke="#8c8c8c" stroke-width="0.45"/><use href="#bb" fill="#151515"/><use href="#rv" fill="none" stroke="#000" stroke-width="1.3" stroke-linejoin="round"/><use href="#mj" fill="none" stroke="#000" stroke-width="1.0"/><use href="#bd" fill="none" stroke="#000" stroke-width="0.85"/><use href="#cs" fill="none" stroke="#000" stroke-width="0.85"/><use href="#br" fill="none" stroke="#000" stroke-width="0.9"/></svg><rect x="0" y="0" width="107.3" height="116.10" fill="none" stroke="#6e6e6e" stroke-width="0.7"/></g>
<text x="244.50" y="131.70" font-size="6.4" font-weight="bold" stroke="#000" stroke-width="0.22" textLength="41.31" lengthAdjust="spacingAndGlyphs">M08 - CIESM</text>
<g transform="translate(354.60,135.30)"><svg width="107.3" height="116.10" overflow="hidden"><rect x="-1" y="-1" width="109.3" height="118.2" fill="#add8e6"/><use href="#land" fill="#fde4c6"/><g clip-path="url(#cb)"><path fill="#ffffff" fill-rule="evenodd" d="M-2,-2H109.8V118.2H-2Z"/><path fill="#f7e400" fill-rule="evenodd" d="M-5.4,-5.8l16.4,0 -.6,5.4 .5,5.5 1.4,1.7 2.5,1.3 2.5-1.3 .5-1.7 0-5.5 1.3-5.4 94.1,0 -0,19.1 -2.5,2.4 -5.1,0 -10.1-2 -5,.8 -2.5,1.4 -10.1,8.1 -7.9,8.3 -2,2.7 -.8,5.4 -2,1.8 -2.5,.2 -2.5,1.1 -2.5,3 -2.5,1.3 -2.6-1 -5-4.1 -2.5-.7 -3,1.2 -2.2,2.7 .1,2.7 2.4,5.4 -.2,5.5 .5,2.7 1.4,2.7 0,2.7 -1.6,2.2 -7.5,1 -2.6-.6 -2.5,.4 -12.6-.8 -7.6-2.6 -5,.1 -7.6-2 -2.5,.1 0-71.2zM99,48.6l2.3,0 4.3,1 2.5-1.4 2.5-.1 2.6,.6 -0,22.2 -2.6,.2 -1.9-.7 -3.1-4.4 -2.5-.3 -2.5,1.9 -.1,3.8 -2.5,1.1 -5,.2 -9.7-10.5 1.2-5.4 -.1-2.8 1.5-2.7 2-1 5.1,.3 6-2z"/><path fill="#f5c300" fill-rule="evenodd" d="M-5.2,-5.8l12.6,0 -.3,2.7 .5,8.2 -.8,5.4 8,3 2.5-.4 2.5-3.4 .6-1.9 -.5-5.4 1.1-8.2 92.2,0 -0,12.2 -2.6,.5 -2.5,3.6 -2.5-1.2 -2.5-.4 -2.6,1.4 -2.5-.1 -2.5-1.9 -2.5-1 -2.6,.1 -2.6-5 -2.4-2 -2.5,.8 -.7,1.2 1,2.7 4.5,2.7 -.1,2.7 -4.7,6.5 -5.1,3.8 -2.5,2.8 -4.6,3.2 -8,7.9 -5.1,2.9 -7.5,-0 -10.1-2.4 -2.5,.1 -3.8,2.4 -.7,2.7 -.1,5.5 .8,2.7 .1,8.2 -1.4,2.7 -2.5,2.9 -5.1-1.2 -2.5,.8 -2.5-1 -5,.3 -5.1-1.8 -2.5,.1 -5.1,1.7 -2.5-.6 -5-4.3 .2-62.2zM4.7,36.8l0,1.4 1-.5 -1-.9zM9.7,51.3l2.5,.9 .5-.9 -3,0zM27.4,18.5l-.6,.2 .6,1.8 .5-1.8 -.5-.2zM92,56.7l1-.8 2.6-.3 1.2,1.1 -1.2,2.9 -2.6-.5 -1-2.4zM108.5,59.5l2.1-.7 2.5,1.6 0,6.4 -2.5-1.8 -2.1-5.5z"/><path fill="#f2a500" fill-rule="evenodd" d="M1.9,-3.1l.3-.9 2.6,6.3 -1.2,2.8 -1.4,1.2 -2.5-.5 -.6-.7 -.4-2.8 .9-2.7 2.3-2.7zM22.6,-5.8l52.5,0 2,5.4 .3,5.5 5.1,5.4 -.7,2.7 -7.4,8.2 -8.8,5.4 -2.9,3 -5,2.8 -2.5,.4 -7.1-.7 -3.6-2.7 -2.1-2.8 -.6-5.4 .8-3.7 1-1.7 -1.3-2.8 -2.3-1.6 -2.5,.1 -2.5,1.9 -5.1-1.4 -5,0 -1.1-1.7 -.2-2.7 -1.7-5.4 .7-8.2zM11.2,43.1l1.1-.7 .8,.7 -.8,1.6 -1.1-1.6zM-5.4,45.9l0-2.1 1.2,2.1 -1.2,1.9 0-1.9z"/><path fill="#ff8000" fill-rule="evenodd" d="M24.3,-5.8l10.6,0 .7,5.4 -1.5,5.5 -4.2,1.4 -2.5-.2 -1.6-1.2 -1.4-2.7 -.1-8.2zM41.2,-5.8l30.1,0 2.7,10.9 3.4,5.4 -.3,2.7 -4,5.5 -2.8,1.9 -2.5,1.3 -2.5,.1 -2.6,.8 -2.5,1.8 -2.5,.3 -.9-.8 -1-2.7 -3.3-5.4 -2.9-2.8 -4.5-2.8 -2.8-2.6 -1.9-2.7 -0-2.7 1.1-2.8 .3-2.7 -.6-2.7z"/><path fill="#f56a00" fill-rule="evenodd" d="M26.8,-5.8l3.8,0 -.7,5.2 -2.5-2.8 -.6-2.4zM46,-5.8l18.6,0 -1.8,5.4 2.5,4.5 2.6,1 2.4,2.4 .7,3 -4.5,5.5 -3.8,1.1 -2.5-.3 -.9-.8 -1-2.8 -3-2.7 -5.2-.8 -3.5-1.9 -1.4-2.7 .8-10.9z"/><path fill="#00ccff" fill-rule="evenodd" d="M86.3,21.4l4.2-1.9 12.6,1.1 2.7,.8 4.9,3.9 2.5-1 -0,20.9 -7.6-4.2 -2.5,2.5 -2.5,.5 -2.6-.2 -5,1.9 -7.6,.2 -5,2.1 -3.6-4.8 -2.7-2.8 -1.2-2.7 .5-2.7 5.1-8.2 1.9-1.7 5.9-3.7zM77.2,70.3l3.2,.1 5.1,2.1 2,3.2 .6,2.8 -1.6,2.7 -3.6,1.9 -5-1.7 -2.5,1.6 -2.5,3.1 -2.6,1.1 -5,1.4 -2.5-.7 -.6-1.3 .6-1.3 2.5-1.6 1.7-2.5 5.9-4.2 1.3-4 1.2-1.7 1.8-1z"/><path fill="#0088ff" fill-rule="evenodd" d="M88.9,24.1l1.6-.6 2.5,.3 5.1,2 1.5,1 1,2.7 -.9,8.2 -1.6,2 -5.1,2.4 -2.5,.2 -5.1-2.5 -5-.4 -3.3-1.7 .3-2.7 3-5.6 3.2-2.6 5.3-2.7z"/><path fill="#0055ff" fill-rule="evenodd" d="M90.3,26.8l2.7,.6 2.6,2.1 -.1,2.9 -1.4,2.6 -1.1,1.2 -2.6,.7 -5.5-1.9 -1.2-2.8 1.3-2.7 5.3-2.7z"/></g><use href="#st" fill="none" stroke="#8c8c8c" stroke-width="0.45"/><use href="#bb" fill="#151515"/><use href="#rv" fill="none" stroke="#000" stroke-width="1.3" stroke-linejoin="round"/><use href="#mj" fill="none" stroke="#000" stroke-width="1.0"/><use href="#bd" fill="none" stroke="#000" stroke-width="0.85"/><use href="#cs" fill="none" stroke="#000" stroke-width="0.85"/><use href="#br" fill="none" stroke="#000" stroke-width="0.9"/></svg><rect x="0" y="0" width="107.3" height="116.10" fill="none" stroke="#6e6e6e" stroke-width="0.7"/></g>
<text x="354.90" y="131.70" font-size="6.4" font-weight="bold" stroke="#000" stroke-width="0.22" textLength="71.74" lengthAdjust="spacingAndGlyphs">M09 - CMCC-CM2-SR5</text>
<g transform="translate(465.00,135.30)"><svg width="107.3" height="116.10" overflow="hidden"><rect x="-1" y="-1" width="109.3" height="118.2" fill="#add8e6"/><use href="#land" fill="#fde4c6"/><g clip-path="url(#cb)"><path fill="#ffffff" fill-rule="evenodd" d="M-2,-2H109.8V118.2H-2Z"/><path fill="#f7e400" fill-rule="evenodd" d="M-5.4,-5.8l16.8,0 -1.7,5.4 .2,5.5 2.1,2.7 2.8,1.2 2.5-1.7 .8-2.2 .8-10.9 94.3,0 -0,16.1 -2.5,.5 -3.3,2.4 -1.8,.7 -2.5-1.6 -.7,.9 -4.4,2.3 -2.5,.1 -1.4-2.4 -1.1-4.3 -2.5,1.3 -2.5,2.2 -3.3-1.9 -1.8-2 -2.5-1 -2.5,1.4 -2.6,3.8 -8.9,16.9 -1.9,2.7 -1.8,4.2 -2.5,.9 -7.6,7.2 -5,2 -1.5-.7 -3.6-4.1 -2.5-7.6 -2.5-2 -5.2,5.5 -0,2.7 2.4,2.8 4.9,8.1 4,5.5 .7,2.7 -1.3,5.4 .3,2.7 -1.4,2.7 -1.9,2.1 -5-2.6 -2.6-2.1 -2.5-.5 -2.5,1.9 -2.5-.6 -2.5-2 -2.6-1.1 -2.5,.2 -2.5,3.2 -2.5,.7 -5.1-2.7 -5,.6 -5.1,2.5 -2.5,.1 0-75.8zM105.6,7.4l0,1 0-1zM87.5,51.3l3-1.5 2.6,.7 5-1.5 2.5-.1 2.5,.2 5.1,2.1 5-1 0,13.8 -5,2.9 -2.5-.3 -10.1,6.1 -2.5-.1 -2.6-2.9 -5-9.2 -3.4-3.8 1.3-2.7 4.1-2.7z"/><path fill="#f5c300" fill-rule="evenodd" d="M-5.4,-5.8l13.3,0 -.7,14.4 1.1,1.9 1.4,1.1 5.1,2.8 2.5,.4 2.1-1.6 2-19 50.1,-0 .4,2.7 -.4,5.5 2.1,2.7 -.1,2.7 -.7,1.9 -2.4,3.5 -3,8.2 -12.2,15.9 -2.6,1.6 -2.5,.7 -2.3-1.9 -.4-2.7 -6-8.2 -3.9-2.8 -2.5-.8 -2.6,.9 -.7,5.5 -1.8,2.2 -4,3.2 -1.7,2.7 -.6,2.7 1.3,2.2 2.4,3.3 3.7,2.7 1.7,2.7 .5,2.7 1.8,2.4 2.5,1.7 .5,1.4 -0,2.7 -.5,.5 -2.5,0 -2.6-4.7 -2.5-.9 -5,.2 -5.1,2.9 -7.5,.5 -2.6-1.6 -2.5-3.6 -2.5,.9 -2.5,1.8 -7.6-.3 0-19.3 5,1.3 2.6,-0 .5-2.2 -.9-2.7 -2.2-1.8 -5,.7 0-39.7zM97.8,54l.6,0 -.4,.6 -.2-.6zM95.4,62.2l.1-.4 .3,.4 -.4,0z"/><path fill="#f2a500" fill-rule="evenodd" d="M23.7,-5.8l12.9,0 .9,3.4 .9-3.4 29.3,0 -1.6,5.4 .1,5.5 -.7,2.7 -3.5,8.2 0,5.4 -1.8,3.2 -2.5,2.9 -2.5,2.3 -2.5,1.3 -5.1-1.5 -5-5.7 -9.6-7.9 -8.6-2.8 -1.7-2.7 -.4-2.7 .4-8.2 1-5.4zM-.9,-.4l3.1-1.9 1.2,1.9 .3,2.7 -1.5,2.3 -2.6-1 -.5-4zM11.8,21.4l.5-1.2 2.5-1.1 2.5,.5 1.9,1.8 -.4,2.7 -1.5,1.8 -2.5,.3 -2.5-2 -.5-2.8z"/><path fill="#ff8000" fill-rule="evenodd" d="M26.7,-5.8l4.5,0 1.2,1.4 1.6,4 -1.6,11.1 -3.1-.2 -1.9-1 -2.5-3.1 -.4-4 .4-2.8 1.8-5.4zM42.9,-5.8l17.7,0 -1.4,8.2 1.8,5.4 -.4,2.7 -5.5,8.4 -5,5.9 -1.9-.7 -2-2.7 -3.7-2.6 -1.7-2.8 .3-2.8 1.4-2.7 .5-2.7 -.1-13.6z"/><path fill="#f56a00" fill-rule="evenodd" d="M47.5,-5.8l7.8,0 .7,2.7 .1,5.5 1,5.4 -.4,2.7 -1.6,1.9 -2.5,1.1 -3.6-.3 -1.4-1.4 -1.3-12.2 .2-2.7 1-2.7z"/><path fill="#00ccff" fill-rule="evenodd" d="M78.6,15.9l1.8-.8 2.6,.3 15.1,6.2 5-.3 1.5,2.8 3.6,1.9 2.5-.4 2.5-1.6 0,21.6 -5,-0 -2.5-1.1 -2.6-.2 -7.5,2.3 -2.6,-0 -5-1.3 -5,2.4 -2.6,0 -4-4.6 -.8-2.7 -2.4-2.7 -1.8-8.2 .4-2.7 1.1-2.3 5.7-8.6zM77.9,67.6l2.5-2.2 2.5,2.5 2.5,3.3 2.1,4.6 .5,2.7 -1.1,2.7 -6.5,2.3 -2.6,1.5 -3.9,4.4 -3.6,5.7 -2.5-1.2 -3.6-4.5 .5-2.8 1-2.7 2.1-2.4 4.3-3 2.3-5.5 3.5-5.4z"/><path fill="#0088ff" fill-rule="evenodd" d="M81.7,21.4l3.8-1.7 2.5,.3 3.2,1.4 6.8,5.4 3.3,5.5 .9,5.4 -.4,2.7 -3.4,2.8 -2.8,.4 -7.6-1.4 -5-.1 -2.6-1.6 -2.5-8.2 -.2-2.7 .4-2.8 1.1-2.7 2.5-2.7zM112.8,32.3l.4-.3 0,6.7 -.8-1 -.7-2.7 1.1-2.7z"/><path fill="#0055ff" fill-rule="evenodd" d="M85.4,24.1l2.5-.8 1.7,.8 3.8,2.7 2.1,2.3 1,3.2 -1,4.4 -2.5,1.2 -2.6-.4 -2.5-.5 -2.5-1.7 -2.1-3 -.7-2.8 .8-2.7 2-2.7z"/></g><use href="#st" fill="none" stroke="#8c8c8c" stroke-width="0.45"/><use href="#bb" fill="#151515"/><use href="#rv" fill="none" stroke="#000" stroke-width="1.3" stroke-linejoin="round"/><use href="#mj" fill="none" stroke="#000" stroke-width="1.0"/><use href="#bd" fill="none" stroke="#000" stroke-width="0.85"/><use href="#cs" fill="none" stroke="#000" stroke-width="0.85"/><use href="#br" fill="none" stroke="#000" stroke-width="0.9"/></svg><rect x="0" y="0" width="107.3" height="116.10" fill="none" stroke="#6e6e6e" stroke-width="0.7"/></g>
<text x="465.30" y="131.70" font-size="6.4" font-weight="bold" stroke="#000" stroke-width="0.22" textLength="60.34" lengthAdjust="spacingAndGlyphs">M10 - CMCC-ESM2</text>
<g transform="translate(575.40,135.30)"><svg width="107.3" height="116.10" overflow="hidden"><rect x="-1" y="-1" width="109.3" height="118.2" fill="#add8e6"/><use href="#land" fill="#fde4c6"/><g clip-path="url(#cb)"><path fill="#ffffff" fill-rule="evenodd" d="M-2,-2H109.8V118.2H-2Z"/><path fill="#f7e400" fill-rule="evenodd" d="M40.8,-5.8l24.2,0 2.1,2.7 .4,2.7 -.6,8.2 .5,2.7 2.7,2.7 3.9,2.8 2,8.1 -.8,2.7 -2.4,2.8 -.2,2.7 -2.3,2.3 -2.5,0 -5.1,2.2 -5-1.5 -.9,2.4 .3,2.7 -4.5,5.2 -5-.8 -5.1,2.1 -2.5-.6 -2.5-2.1 -2.5-.6 -2.6,1 -1.4,1.3 .3,2.7 5.1,10.9 4.3,2.7 4.3,5.3 2.6,1.4 5,4.3 5.1-.3 2.5,.6 2.5-1.5 .6-1.7 .2-8.1 -.5-5.4 2.2-2.2 5.1-.3 2.1,2.5 -.3,8.1 .7,.9 2.5,.8 2.5-.1 2.6-.7 2.7-3.6 .5-16.3 1.8-1.4 5.1-1.8 5,1 2.5,2 1,2.9 -.2,13.6 .3,2.7 1.5,2.7 7.5,1 5.1-2.3 -0,55.7 -118.6,0 -0-40 5-.3 2.6,.6 1.8-1.1 -2.6-2.7 -4.3-.3 -1.7,.3 -.8,.7 -0-25.3 1.8-2.6 -.5-2.7 -1.3-1.8 -0-1.5 7.6,2.3 5,4.2 2.5-1.4 2.5,.3 2.6-2.1 -2.6-2.3 -2.5-1.3 -1.1-1.8 -.2-2.8 1.3-1.9 5.1-1.5 2.5-2 3.6-5.4 6.5-4.1 2.5-.2 2.5,2.4 2.6,.1 2.5-5.7 5.4-3.4 -.2-2.7 -2.2-8.2 -.3-2.7 .6-10.9zM2.2,66.9l-.5,.7 .5,2.8 1.8-2.8 -1.8-.7zM22.4,83.6l-.6,.4 .6,.3 0-.7z"/><path fill="#f5c300" fill-rule="evenodd" d="M47,-5.8l13.8,0 2,5.4 .5,10.9 -.1,2.7 -.5,1.1 -5.1-1.9 -2.5,-0 -2.5,.8 -2.5,2.3 -2.5-1.9 -.3-3.1 -2.8-8.1 -.1-2.8 .6-2.2 2-3.2zM66.3,18.7l1.5-.8 2.5,2.7 -0,4.7 -2.5,3.5 -5.1,1.1 0-.7 2.5,0 1-5.1 .1-5.4zM88.4,48.6l2-2 2.6,.4 1.3,1.6 1.2,5.4 -.4,13.6 1.3,2.8 1.6,1.5 2.5,.5 5.1-.4 5,.3 2.6-1.6 -0,9.7 -7.6,2.8 -2.5,0 -2.6-.9 -5-3 -2.5,.3 -2.6,1.1 -2.5,2.1 -2.9,3.9 -3,5.4 -.5,2.7 1.4,2 7.5-1.2 5.1-3.1 5,.4 5.1-3.2 5,6.9 2.6,1.2 -0,24.2 -118.6,0 -0-28 2.5,.1 7.6-2.5 2.5,1.7 2.5,.7 10.1,1.2 5-2.8 2.6-.3 2.5,.5 2.5,1.4 5.1-.6 2.5,.4 2.5,2.9 2.5,-0 2.6-1 1.1-.9 1.4-6.3 5-2.4 2.5-5.1 2.6-.2 7.5,1.2 4.5-.8 1.6-2.7 -.1-5.4 1.6-1.8 5.1-.4 2.5-.8 4-2.5 1.1-2.7 -1.5-10.9 .5-2.7 1.4-2.7zM93,118.2l-1.2,1.1 1.2,2.7 .7-2.7 -.7-1.1zM65.3,111.8l-2.2,2 2.2,3.3 1.2-.5 .8-2.8 -2-2z"/><path fill="#f2a500" fill-rule="evenodd" d="M54.6,2.3l.6-1.1 1.3,3.8 -1.3,1.4 -1.5-1.4 .9-2.7zM81.5,75.8l1.4-1.2 2.5-.5 1.7,1.7 -1,2.7 -3.2,2.9 -2.2-2.9 .8-2.7zM61.3,89.4l1.4-1.1 2.6-.4 2.5,1 2.4,3.2 5.2,4.3 .6,1.2 -0,5.4 -2.3,2.7 -3.4,1.4 -2.5,.1 -5.1-1 -5,.8 -2.5-1.5 -1.5-2.5 -.1-2.7 1.6-4.9 2.5-2.5 2.5-1 1.1-2.5zM94.2,100.3l1.3-1.7 2.6-.5 5,1.3 .4,.9 -5.4,4.1 -2.6,1.2 -1.7-2.6 .4-2.7zM6.8,103l.4-1 2.5,.5 .4,.5 -.4,.5 -2.5,.1 -.4-.6zM-5.4,113.9l0-.6 1.2,3.3 -1.2,1.3 0-4zM107.7,119.3l.5-.6 2.5-.3 1.4,.9 1.1,2.7 -6.7,0 1.2-2.7zM16.7,122l.6-1.6 2.6-.7 3.4,2.3 -6.6,0z"/></g><use href="#st" fill="none" stroke="#8c8c8c" stroke-width="0.45"/><use href="#bb" fill="#151515"/><use href="#rv" fill="none" stroke="#000" stroke-width="1.3" stroke-linejoin="round"/><use href="#mj" fill="none" stroke="#000" stroke-width="1.0"/><use href="#bd" fill="none" stroke="#000" stroke-width="0.85"/><use href="#cs" fill="none" stroke="#000" stroke-width="0.85"/><use href="#br" fill="none" stroke="#000" stroke-width="0.9"/></svg><rect x="0" y="0" width="107.3" height="116.10" fill="none" stroke="#6e6e6e" stroke-width="0.7"/></g>
<text x="575.70" y="131.70" font-size="6.4" font-weight="bold" stroke="#000" stroke-width="0.22" textLength="75.56" lengthAdjust="spacingAndGlyphs">M11 - CNRM-CM6-1-HR</text>
<g transform="translate(23.40,262.40)"><svg width="107.3" height="116.00" overflow="hidden"><rect x="-1" y="-1" width="109.3" height="118.2" fill="#add8e6"/><use href="#land" fill="#fde4c6"/><g clip-path="url(#cb)"><path fill="#ffffff" fill-rule="evenodd" d="M-2,-2H109.8V118.2H-2Z"/><path fill="#f7e400" fill-rule="evenodd" d="M-5.4,-5.8l117.4,0 1.2,1.8 -0,16 -2.5-.5 -5.1,1.3 -2.5,.1 -5.1-.8 -7.5-.1 -5.1,8 -8.8,6.8 -2.3,5.5 -4,2.2 -2.4,.5 -1.9,5.4 -.8,.7 -5,1 -2.6,3.8 -2.4,1.6 -2.6,.7 -2.5,-0 -2.5-.8 -.7-1.5 -1.8-.9 -2.6,.3 -.7,.6 -.9,2.7 1.6,2.4 .9,.3 .2,2.7 -3.6,1.5 -.3,1.3 2.3,5.4 .3,10.9 2.8,7.2 2.5,-0 5.5-1.8 1.4-2.7 .7-3.7 .9-1.8 1.6-1.1 2.3,1.1 10.3,2.8 2.5,3.5 5.1,5.1 2.5,.8 1.6-1.3 1.4-2.7 -.1-5.4 2.6-8.2 -.7-8.1 -.7-2.8 .7-2.7 2.8-3.7 2.5-1.7 5,2.1 2.5-.6 1.9,1.2 .3,2.7 -2.4,5.5 -.4,2.7 .8,5.4 -.4,5.4 .5,2.8 -.1,5.4 4.9,1.9 5,.6 5.1,2.7 -0,38.3 -118.6,0 0-127.8zM9.7,102.3l-2.3,.7 2.3,.6 .8-.6 -.8-.7zM22.4,102.1l0,1 0-1z"/><path fill="#f5c300" fill-rule="evenodd" d="M42.5,-5.8l42.7,0 .6,2.7 -.2,10.9 -1,2.7 -1.7,2.3 -7.5,4.8 -2.7,1.1 -2.4,3.7 -1.3,4.4 -1.2,1.6 -5.5,1.2 -4.6,4.3 -3,1.1 -4.6,4.7 -2.5,.8 -10.1-7.3 -2.5,.2 -2.5,1.3 -5.1-1.3 -7.5,1.4 -3.4-2.5 -.7-2.7 -.1-2.8 .7-2.7 1-2.7 1.9-2.7 3.1-2.1 2.5-2.5 2.5-1.4 2.1-2.2 1.5-2.7 1.5-.6 2.3,.6 2.7,2.6 2.6,.4 2.5-1.9 1.5-3.8 -.5-5.5 .8-2.7 -1.9-2.7zM11.7,59.5l.5-2.3 1.8,2.3 -1.8,.6 -.5-.6zM63.5,75.8l1.7-.3 2.6,.7 5,5.7 1.3,2.1 2.4,10.8 -.1,2.8 -.9,2.7 -5.2,5.3 -2.5,1.5 -2.1-1.4 -2.1-8.1 -.4-5.5 -3.3-8.1 1.6-5.5 2-2.7zM107.9,92.1l.3-.5 .4,.5 -.7,0zM92.9,94.8l.1-.4 .3,.4 -.3,.4 -.1-.4zM-5.4,103l0-1.8 2.4,1.8 -2.4,3.7 0-3.7zM4.7,116.6l2.5-.2 2.5,1.4 2.6-.3 2.5,.6 .4,1.2 -.2,2.7 -10.8,0 .5-5.4zM87.4,122l.5-.6 2.5-.2 .8,.8 -3.8,0z"/><path fill="#f2a500" fill-rule="evenodd" d="M54.9,-5.8l19.3,0 1.4,2.7 -1.5,5.5 -.6,8.1 -.7,.9 -2.5,.9 -5.1-.5 -2.5,1.4 2.1,2.8 1.3,2.7 -.1,2.7 -.8,1.9 -2.5,1.7 -5.9-.9 -1.7-1.7 -.8-1 1.1-2.7 .2-2.7 -.5-3 -2.5,.2 -2.5-1 -1.2-1.7 .5-2.7 3.3-5.4 2.2-8.2zM34.8,24.1l2.7-1.1 2.5-.2 2.5,.3 2.1,1 1.2,2.7 .1,2.7 -.8,1.4 -2.6,.4 -2-1.8 -3-4.1 -2.7-1.3z"/><path fill="#00ccff" fill-rule="evenodd" d="M100.7,24.1l4.9-1.8 7.6-.2 0,13.2 -5,.4 -2.6-.9 -2.5,.1 -2.5,2.3 -2.5,-0 -1.4-2.2 -.7-2.7 .4-2.8 1.2-2.7 3.1-2.7z"/></g><use href="#st" fill="none" stroke="#8c8c8c" stroke-width="0.45"/><use href="#bb" fill="#151515"/><use href="#rv" fill="none" stroke="#000" stroke-width="1.3" stroke-linejoin="round"/><use href="#mj" fill="none" stroke="#000" stroke-width="1.0"/><use href="#bd" fill="none" stroke="#000" stroke-width="0.85"/><use href="#cs" fill="none" stroke="#000" stroke-width="0.85"/><use href="#br" fill="none" stroke="#000" stroke-width="0.9"/></svg><rect x="0" y="0" width="107.3" height="116.00" fill="none" stroke="#6e6e6e" stroke-width="0.7"/></g>
<text x="23.70" y="258.80" font-size="6.4" font-weight="bold" stroke="#000" stroke-width="0.22" textLength="63.63" lengthAdjust="spacingAndGlyphs">M12 - CNRM-CM6-1</text>
<g transform="translate(133.80,262.40)"><svg width="107.3" height="116.00" overflow="hidden"><rect x="-1" y="-1" width="109.3" height="118.2" fill="#add8e6"/><use href="#land" fill="#fde4c6"/><g clip-path="url(#cb)"><path fill="#ffffff" fill-rule="evenodd" d="M-2,-2H109.8V118.2H-2Z"/><path fill="#f7e400" fill-rule="evenodd" d="M-5.4,-5.8l100.3,0 .6,.4 .5-.4 17.2,0 -0,21.3 -5.1-.3 -1.2-2 1.1-2.7 -2.4-1.8 -5,1.5 -5.1-.8 -2.5,.8 -5,-0 -2.4,5.8 -4.4,2.7 -2.8,5.4 -4.5,2.7 -1.1,2.3 2,5.9 -0,2.7 -4.5,8.6 -2.5,.6 -5.1-2.5 -2.5,.6 -5,5.6 -6,.7 -2.4,2.7 -3.3,10.9 1.6,2 2.5,1.1 5,6.7 2.6-.6 6.3-6.5 1.7-2.7 -.1-2.7 4.7-5.3 2.5,1.8 2.5,3.2 3.8,3 -1.5,5.4 -2.3,4 -1.9,1.5 9.5,4.3 5,3.8 2.6-.4 .6-2.3 -.1-8.1 -3.7-10.9 .7-2.7 -.7-2.7 -2.5-5.5 1.3-2.7 6.9-4.8 2.5,.3 2.5,1.8 2.5,.7 2.2,2 .2,2.7 -.4,2.7 -1.8,2.8 -.8,2.7 .2,2.7 1.1,2.7 4.4,5 2.5,1.4 5.1-.3 2.5,.6 -0,50.4 -56.8,0 -1.2-.8 -2,.8 -58.6,0 0-127.8zM4.7,5l1.3,.1 -1.3-.1zM12.3,40.7l-1.6,2.4 1.6,2.2 2.5,.2 2.5-.7 1.4-1.7 -1.4-2.4 -5,0zM37.5,1.5l-.9,.9 .9,3 2.5-2.1 .4-.9 -.4-.5 -2.5-.4zM103.1,88.5l-1.3,.9 1.3,1.9 2.5,1 1.6-2.9 -1.6-1 -2.5,.1z"/><path fill="#f5c300" fill-rule="evenodd" d="M4.6,-5.8l5.9,0 -.8,.9 -2.5,1 -2.6-1.9zM43.8,-5.8l42.9,0 2.4,8.2 -1.1,1.6 -2.5,1.3 -2.2,2.5 -.7,2.7 -2.2,2.7 -2.5-.1 -2.5,1.1 -2.5,4.8 -7.8,10.6 -1.2,2.7 -3.7,4.4 -2.5,.1 -2.5-1.4 -5.9-.4 -1.7,.6 -2.8,4.8 -7.3,4.7 -2.5-.3 -10.1-9.2 -7.6,.5 -2.5-.3 -1.7-.8 -4.1-5.4 -.9-2.8 .1-2.7 1.6-2.6 2.5,.7 7.6,0 .9-.8 .9-5.4 .7-1.4 2.5-2 5.1,1.1 5-2 5.1-.1 5.6-3.8 -0-2.7 1.3-5.5 -.5-2.7 -2.7-2.7zM108.1,-.4l5.1-.6 -0,1 -5.1-.4zM88.7,51.3l1.8-1.4 2.6,.8 1.6,3.3 -1.6,5.4 -2.6,1.2 -2.1-3.9 -.6-2.7 .9-2.7zM91.1,64.9l1.9-1.4 .7,1.4 -.7,2.7 -1.9-2.7zM67.7,83.9l2.6-.9 4.5,.9 2.4,2.7 .3,2.7 2.1,2.8 .7,2.7 -1.1,2.7 -3.8,5.1 -5.1,2.3 -2.5,2.2 -2.5,.4 -1-7.3 .1-10.9 1.1-2.7 2.2-2.7zM7.1,94.8l1.6,2.7 -1.5,.8 -.9-.8 .8-2.7zM16.8,100.3l.5-.4 .6,.4 -.6,.7 -.5-.7zM54.8,100.3l.3-.5 .2,.5 -.5,0zM54.7,113.9l.5-1.9 .6,1.9 -.6,.4 -.5-.4zM14.7,122l.5,0 -.5,0zM77.3,122l.8,0 -.8,0z"/><path fill="#f2a500" fill-rule="evenodd" d="M49.3,-5.8l25.3,-0 0,2.7 .7,1.5 2.5,3.6 .9,.4 -.9,.6 -.7,2.1 -5.8,5.4 -1,3.5 -5.1,2.2 -2,2.5 -.2,5.4 -2.8,2.9 -2.5-.2 -4.3-5.4 .7-5.4 -2.2-5.5 -.1-2.7 .2-2.7 1.3-2.7 .1-2.8 -4.1-5.4zM44.6,18.7l.5-.8 1.1,.8 -1.1,1.7 -.5-1.7zM39.3,24.1l.7-.5 1.6,.5 .5,2.7 -2.1,3.4 -1.3-3.4 .6-2.7z"/><path fill="#00ccff" fill-rule="evenodd" d="M107.8,21.4l5.4-2.5 0,14.9 -5,3.7 -5.1-.1 -3.3-2.4 -.9-2.7 .8-2.7 2.2-2.8 .8-2.7 5.1-2.7z"/></g><use href="#st" fill="none" stroke="#8c8c8c" stroke-width="0.45"/><use href="#bb" fill="#151515"/><use href="#rv" fill="none" stroke="#000" stroke-width="1.3" stroke-linejoin="round"/><use href="#mj" fill="none" stroke="#000" stroke-width="1.0"/><use href="#bd" fill="none" stroke="#000" stroke-width="0.85"/><use href="#cs" fill="none" stroke="#000" stroke-width="0.85"/><use href="#br" fill="none" stroke="#000" stroke-width="0.9"/></svg><rect x="0" y="0" width="107.3" height="116.00" fill="none" stroke="#6e6e6e" stroke-width="0.7"/></g>
<text x="134.10" y="258.80" font-size="6.4" font-weight="bold" stroke="#000" stroke-width="0.22" textLength="67.58" lengthAdjust="spacingAndGlyphs">M13 - CNRM-ESM2-1</text>
<g transform="translate(244.20,262.40)"><svg width="107.3" height="116.00" overflow="hidden"><rect x="-1" y="-1" width="109.3" height="118.2" fill="#add8e6"/><use href="#land" fill="#fde4c6"/><g clip-path="url(#cb)"><path fill="#ffffff" fill-rule="evenodd" d="M-2,-2H109.8V118.2H-2Z"/><path fill="#f7e400" fill-rule="evenodd" d="M-5.4,-5.8l4,0 1,1.3 2.6-.2 .9-1.1 110.1,0 -0,21.1 -2.5-.3 -5.1-2.1 -2.5-.3 -1.7,.6 -3,2.8 -1,2.7 -2.2,2.7 0,2.7 -2.2,2.4 -5-.1 -2.6-2.3 -2.5-.5 -1.8,3.2 -8.9,10.9 -.4,2.7 .3,2.8 -1.8,2.2 -2.5,.8 -5.1,3 -10.1-1.5 -2.5,.3 -6,3.3 -2,2.7 .1,2.8 2.4,2.7 .2,5.4 -1.2,2.7 -1.1,1 -10.1,1.9 -2.5,1.9 -2.5-2.4 -10.1-.8 -1.7-1.6 -3.3-.9 -5.1,3.3 -2.5-.7 -2.5-3.6 -5.1,1.5 -2.5-.4 0-72.6zM102.2,45.9l.9-1 2.5-1.1 2.5,.7 2.5,1.6 2.6,-0 -0,11.7 -12.6,1 -1.2,.7 -4,8.2 2.1,5.4 -.1,2.7 -1.9,2.5 -5-.4 -7.3-13 4.7-5.3 2.6-1.6 3-3.9 6.5-5.5 2.2-2.7zM69.2,56.7l1.1-.2 5.1,1.5 1.7,4.1 -.8,2.8 -6,2.2 -5,4 -2.5-1.5 -1-2 3.5-9.7 3.9-1.2zM74.2,81.2l6.2-2.3 5.6,5 0,2.7 -1.4,2.8 -4.2,6.3 -2.7,1.8 -.8,2.7 -1.6,1 -2.5-.1 -2.7-.9 -4.8,4.2 -2.6,.3 -.6-1.7 -3.7-2.8 -3.6,0 -1.6-2.7 .7-2.7 1.3-1.3 10.1-5.8 5-1.5 2.5-4.1 1.4-.9z"/><path fill="#f5c300" fill-rule="evenodd" d="M18.2,-5.8l95,0 -0,16.1 -10.1-1.8 -7.6,1.8 -2.5,1.3 -2.5,3.1 -5.1,1.5 -7.6,4.5 -5,7.9 -1.4,3.7 -5.2,5.4 -3.5,5.8 -12.6,.3 -7.6,2.8 -10.1,2.3 -2.8,2.4 .3,3.4 1.1,2.1 4,2.5 -0,.7 -2.6,1.2 -2.5-2.1 -2.5-1 -5.1,1.8 -7.5-.3 -5.1,3 -2.5,.2 -4.2-3.3 -.8-4.7 -1.2,2 -1.4,.1 -1.9-2.9 -.3-2.7 -2.8-1.5 -0-5.8 2.5,1.6 5.1,1.8 5-.1 2.6-1.4 2.1-2.7 .9-8.2 2-4.2 2-6.7 3-2 2.5-.7 1.9-2.7 .9-2.7 -.2-.5 -2.6-1.2 -2.5-.3 -1.1-.8 -1.3-2.7 -.3-5.4 1.6-8.2 -.5-2.7zM85.4,-3.2l-2.5,3.4 -.5,2.1 .5,.9 2.5,.1 1.8-3.7 -.2-2.7 -1.6-.1zM4.7,50.9l-.8,.4 .8,2.5 0-2.9z"/><path fill="#f2a500" fill-rule="evenodd" d="M23,-5.8l54.1,0 .6,2.7 -.1,13.6 3.3,2.7 -1.8,2.8 -3.8,1.6 -2.8,3.8 -5.8,2.7 -.9,2.7 1.3,2.8 -.9,2.7 -1,.7 -2.5,.7 -5-1.7 -2.6,.3 -2.5,1.9 -2.5,.8 -2.5,2.7 -5.1,2.7 -2.8,2.8 -2.2,.8 -2.6,0 -2.2-.8 -2.8-4.9 -3.4-3.3 -1.6-2.6 -2.6-1.2 -.9-1.6 .9-.9 2.6-.1 4.1-4.5 .7-2.7 .4-8.2 -1.9-2.7 -3.1-2.7 -1.2-5.4 -.1-5.5 -.8-2.7zM50.1,21.2l-1.9,2.9 1.9,.7 .8-.7 -.8-2.9zM92.8,5.1l.2-1.4 .2,1.4 -.4,0z"/><path fill="#ff8000" fill-rule="evenodd" d="M42.4,-5.8l30.5,0 .4,2.7 -1.3,13.6 -.4,2.7 -1.3,2 -2.5,1.3 -2.8-.5 -4.7,2.7 -2.6,.2 -5-4.2 -2.5-.8 -5.1,.9 -2.5-.8 -4.4-6.2 -.1-2.7 3.9-8.2 .4-2.7zM33.8,32.3l1.2-.9 2.5,.1 1.5,.8 -1.5,1.4 -2.5,.4 -1.2-1.8z"/><path fill="#f56a00" fill-rule="evenodd" d="M44.9,-5.8l20.6,0 1.3,2.7 .3,5.5 -.6,2.7 -1.3,2.5 -7.6,3.2 -12.6-3.2 -1.2-2.5 1.1-10.9z"/><path fill="#00ccff" fill-rule="evenodd" d="M84.5,35l3.4-1.2 7.6-.8 4.7,4.7 0,2.7 -2.4,2.8 -2.3,4 -2.5,1.5 -5.1-5.2 -3.9-3.1 -.2-2.7 .7-2.7z"/></g><use href="#st" fill="none" stroke="#8c8c8c" stroke-width="0.45"/><use href="#bb" fill="#151515"/><use href="#rv" fill="none" stroke="#000" stroke-width="1.3" stroke-linejoin="round"/><use href="#mj" fill="none" stroke="#000" stroke-width="1.0"/><use href="#bd" fill="none" stroke="#000" stroke-width="0.85"/><use href="#cs" fill="none" stroke="#000" stroke-width="0.85"/><use href="#br" fill="none" stroke="#000" stroke-width="0.9"/></svg><rect x="0" y="0" width="107.3" height="116.00" fill="none" stroke="#6e6e6e" stroke-width="0.7"/></g>
<text x="244.50" y="258.80" font-size="6.4" font-weight="bold" stroke="#000" stroke-width="0.22" textLength="64.74" lengthAdjust="spacingAndGlyphs">M14 - EC-Earth3-CC</text>
<g transform="translate(354.60,262.40)"><svg width="107.3" height="116.00" overflow="hidden"><rect x="-1" y="-1" width="109.3" height="118.2" fill="#add8e6"/><use href="#land" fill="#fde4c6"/><g clip-path="url(#cb)"><path fill="#ffffff" fill-rule="evenodd" d="M-2,-2H109.8V118.2H-2Z"/><path fill="#f7e400" fill-rule="evenodd" d="M-5.4,-5.8l14.9,0 -.1,10.9 .5,2.7 2.4,2.2 2.5,.8 3-3 1.5-2.7 -1.8-10.9 95.7,-0 -0,20.7 -10.1-1.2 -12.6,.3 -1.9,2 -1.3,5.4 -6.9,3 -4.1,7.9 -8.5,7.2 -7.6,5 -4,1.4 -1,1.4 -5.1,1.7 -2.5-.5 -2.5,.8 -.6,2 -2.9,2.7 -1.6,2.8 1.9,5.4 .2,2.7 -2.1,3.4 -5,.9 -2.6,1.2 -2.5-.9 -1.7-1.9 -3.3-1.7 -2.5-.5 -12.7,4.2 -2.5-.4 -2.5-2.6 -2.7,1 -2.4,1.9 -5,.3 -0-25.9 2.5,1.3 2.5-.7 2.6-.1 2.5,.6 2.5-.5 2.6-1.3 3-2.8 1.6-2.7 .2-2.7 -2.3-3 -2.6-.2 -7.5,1.3 -7.6-1.1 -0-37.8zM108.1,32.3l5,1.5 0,12.7 -10,2.4 -5.1-1.3 -3.1-7.1 1.1-2.8 2-1.4 5.1,.1 5-4.1zM84.8,62.2l3.1-2 5.1,.4 2.5-.8 1.4,2.4 -.2,2.7 1.3,7.6 1.1,3.3 -1.1,1.8 -2.5,1.4 -1.3,2.2 -.8,5.5 .3,2.7 1.8,1.9 2.5-.4 2.5-1.2 2.6,-0 2.5,2.6 2.5-.3 2.5,1 2.6-.5 -0,29.5 -60.2,0 .2-2.7 -.6-5.4 1.7-2.7 -.1-2.8 -1.5-2.7 .6-8.1 4.3-2.6 2.6-5 3.2-3.3 4.3-2.7 2.6-4.8 2.5-1.9 2.7-4.2 5.1-5.5 4.2-5.4zM93,75.8l-0,.6 0-.6zM82.9,94.3l-.7,.5 -1.1,2.7 1.5,2.7 2.8,.7 .8-.7 .2-2.7 -1-1.6 -2.5-1.6z"/><path fill="#f5c300" fill-rule="evenodd" d="M21.6,-5.8l91.6,0 -0,16.7 -2.5-.5 -2.6-2.1 -2.5-1.1 -2.5,1.1 -2.5,.3 -2.6-.9 -2.5,-0 -7.6,2.4 -2.2,3.1 -.4,2.8 -1.5,2.7 -5.9,3.9 -2.6,4 -5,5.2 -2.5,1.7 -7.6,2.3 -5,4.2 -5.1,2.7 -7.6,2.1 -2.5,2.5 -5,2.6 -1.3,1.4 -1.3,6 -5,3.4 -7.6-.2 -5-.9 -5.1,1.5 -5-1.8 -7.6,.2 -2.5,.6 -0-12.2 2.5,1.1 2.5,.1 10.1-1.4 5.1-2.4 4.4-4.9 .9-2.7 -.2-2.7 -1.6-5.4 1.8-8.2 2.8-5.4 -.7-2.8 .7-13.6 -1.3-5.4zM82.5,73.1l1,0 1,2.7 -1.6,2.6 -1.2-2.6 .8-2.7zM69.3,89.4l1-.9 2.5-.6 2.4,4.2 .3,2.7 -2.7,6.7 -2.5,1.4 -7.6-1.8 -1.6-.8 .9-2.7 1.9-2.8 5.4-5.4z"/><path fill="#f2a500" fill-rule="evenodd" d="M24.8,-5.8l52.9,0 -2.2,10.9 1.6,5.4 -1.2,2.7 -1,5.5 -2.1,1.9 -5.1,7.7 -5,1.3 -12.6,8.1 -5.1,1.6 -7.5,3.9 -2.6,.7 -2.1-.7 -9.4-10.9 -1.3-2.7 1-2.8 1.7-2.5 5.3-2.9 2.8-8.2 -.5-1.1 -2.5-1.3 -2.5-.3 -2.4-2.7 -.3-2.7 1-5.5 -.9-5.4zM100.1,-3.1l3.1,0 -.1,3.3 -1.9,2.1 -.6,.4 -2.6-.9 -5,.8 .8-3 1.7-.8 2.5-.2 2.1-1.7zM112.9,2.3l.3-.3 -0,3.1 -.3-2.8z"/><path fill="#ff8000" fill-rule="evenodd" d="M29,-5.8l42.5,0 .7,5.4 -3.2,5.5 -.4,8.1 .4,2.8 -1.7,5.4 -2.1,2.2 -7.5,5 -2.5,.7 -2.6-1.3 -.4-6.6 -2.1-4.9 -2.5-1.9 -5.1-1.5 -1.4-2.6 -1.1-6.6 -2.5-3.2 -2-1.1 -.5-1.3 -.6,1.3 -4.5,1.7 -1-4.4 .1-2.7z"/><path fill="#f56a00" fill-rule="evenodd" d="M47.4,-3.1l1.3-2.7 14.4,-0 .5,2.7 -2,5.4 1.5,8.2 2,5.4 -.3,2.8 -2.1,2.8 -2.5,.9 -2.6-.1 -5-7.7 -2.5-2.2 -3.6-1.9 -1.5-1.7 -.6-3.7 .6-2.8 2.4-5.4z"/><path fill="#00ccff" fill-rule="evenodd" d="M93.3,21.4l2.2-2.4 2.5,.2 2.1,2.2 -2.1,1.8 -2.5,.3 -2.2-2.1zM80,35l.4-.4 5.1,1.7 2.5,2 1.5,7.6 -.2,2.7 -2.2,5.4 -1.6,1.6 -5.1,2.6 -1.3,1.3 -1.2,2.8 -2.5,2.7 -2.5,1.9 -2.6,.5 -2.5-3.5 -.2-4.4 2.7-1.1 2.6,.1 2.5-1.2 1.6-3.3 -6.3-10.8 4.7-5.4 4.6-2.8z"/></g><use href="#st" fill="none" stroke="#8c8c8c" stroke-width="0.45"/><use href="#bb" fill="#151515"/><use href="#rv" fill="none" stroke="#000" stroke-width="1.3" stroke-linejoin="round"/><use href="#mj" fill="none" stroke="#000" stroke-width="1.0"/><use href="#bd" fill="none" stroke="#000" stroke-width="0.85"/><use href="#cs" fill="none" stroke="#000" stroke-width="0.85"/><use href="#br" fill="none" stroke="#000" stroke-width="0.9"/></svg><rect x="0" y="0" width="107.3" height="116.00" fill="none" stroke="#6e6e6e" stroke-width="0.7"/></g>
<text x="354.90" y="258.80" font-size="6.4" font-weight="bold" stroke="#000" stroke-width="0.22" textLength="78.87" lengthAdjust="spacingAndGlyphs">M15 - EC-Earth3-Veg-LR</text>
<g transform="translate(465.00,262.40)"><svg width="107.3" height="116.00" overflow="hidden"><rect x="-1" y="-1" width="109.3" height="118.2" fill="#add8e6"/><use href="#land" fill="#fde4c6"/><g clip-path="url(#cb)"><path fill="#ffffff" fill-rule="evenodd" d="M-2,-2H109.8V118.2H-2Z"/><path fill="#f7e400" fill-rule="evenodd" d="M-5.4,-5.8l18.6,0 1.6,.4 .2-.4 98.2,0 -0,19.2 -2.5,.7 -5.1-2.3 -2.5-.1 -4.4,1.5 -3.2,4.3 -8.1,3.9 -4.5,3.8 -5,1.2 -1.5,3.2 -.1,2.7 -3.5,7 -.7,3.9 -1.8,1.7 -5.1,2.1 -7.5,1.1 -2.5,1.4 -2.6,.1 -2.5-1 -2.7,-0 -2.3,.6 -5.1,3.2 -1.7,1.6 .6,2.8 3.3,5.4 -4.7,7.6 -2.5,.6 -7.6-2.5 -5,1.3 -2.6-1.8 -2.5-.1 -2.5,1.8 -2.5,-0 -1.6-1.5 -3.5-.7 -5,2 -2.6-.2 -5-2.8 -0-22.6 5,.1 7.6,2.9 2.5-1 2.8-2.1 -1.1-5.5 -1.7-3.2 -2.5-.6 -2.5,.8 -7.6-.6 -2.5,.7 -0-40.6zM100.8,45.9l2.3-2.4 2.5-.1 2.5,.2 3.6,2.3 1.5,.3 -0,13.9 -2.6-.4 -2.5-3 -2.5-.8 -4.4,.9 -2.8,2.7 .8,2.7 -.4,8.2 -4.7,5.4 -.9,2.7 .5,2.8 3.3,5.4 -1.3,2.7 -2.7,2.7 -2.5,1.3 -2.6,.2 -2.5-.3 -5-3.3 -2.6,.1 -1.6,2 -.4,2.8 1,5.4 -1.9,2.7 -2.1,1.9 -2.5-.7 -2.5,.5 -2.6,2.1 -2.5-.3 -2.5-2.2 -6.9-1.3 -.5-8.1 2.3-2.5 5.1-1.4 5.4-7 2.2-1.8 3.6-.9 4-5.5 2.4-2.1 2.6-1.1 2.5-2.7 2.5-1.6 1.6-3.4 1-5.4 2-2.7 5.5-1.4 1.3-4.1 4-5.4zM64.3,59.5l1-1.3 2.5-.6 6.3,1.9 2.3,2.7 -.3,2.7 -3.3,6.1 -2.5-.5 -6.5-2.8 1-5.5 -.5-2.7z"/><path fill="#f5c300" fill-rule="evenodd" d="M.9,-5.8l1.8,0 -1.8,0zM19.4,-3.1l.5-2.7 93.3,-0 -0,14.3 -2.6,.7 -2.5-.4 -2.5-1.1 -5,.4 -5.1-.8 -5,3.2 -.7,2.7 -1.9,2.9 -7.5,3.1 -5.1,3.3 -2.4,4.3 -5.1,13.2 -2.6,2.6 -5,.7 -5.1-.7 -5,1.5 -5.1-.6 -5,2.4 -6.9,5.4 -1.9,2.7 2.3,5.5 .5,2.7 -1.6,.6 -5-.9 -5.1-3.9 -2.5-1 -2.5,-0 -10.1,4.9 -7.6,1.1 -3-.8 -2-1.2 -0-15.3 2.5,1.4 10.1,3 2.5-.3 7.6-2.7 2-1.2 2.7-2.8 .9-2.7 -8.1-7.4 -2.8-3.5 -.8-2.7 2.5-2.7 3.6-2.3 5-.9 2.8-2.2 -.2-3.4 -3.3-4.8 -5-5.4 2.8-8.2zM87.3,86.7l.7-.7 .7,.7 -1.4,0z"/><path fill="#f2a500" fill-rule="evenodd" d="M23.6,-5.8l53.8,0 -.7,2.7 0,2.7 2.2,5.5 1.5,1.3 1.9,4.1 -1.9,2.7 -5,1.5 -1.3,1.3 -3.8,8.5 -3.6,2.3 -1.4,1.8 -.5,1 .5,5.4 -2.5,.8 -7.6-1.4 -5.1,4.7 -2.5-.8 -2.5,.3 -10.1,6 -2.5,.3 -1.4-1.7 -2.5-5.5 -8.5-8.1 1.4-2.8 5.9-3.4 4.6-4.7 3.5-2.7 1.7-2.8 -.1-2.7 -2.1-1.1 -10.1-1.7 -2.5-2.1 -.5-.5 .1-2.7 1.6-8.2zM112.7,-5.8l.5,.4 -.5-.4z"/><path fill="#ff8000" fill-rule="evenodd" d="M42.5,-5.8l29.9,0 -1.6,5.4 1.1,5.5 -.7,2.7 -2.7,5.4 -.9,5.5 -1.4,2.7 -4.4,2.7 -1.6,1.8 -2.5,1.2 -2.5-1.4 -2.5-5.6 -4.7-6.9 -2.9-2.8 -6.2-8 .5-2.8 2.1-2.7 1-2.7z"/><path fill="#f56a00" fill-rule="evenodd" d="M46.5,-5.8l19,0 .8,2.7 0,8.2 -2.9,13.6 -.7,.7 -2.5,1.1 -2.5-.6 -2.5-3.9 -2.2-5.5 -2.9-.7 -3-2 -2.3-5.4 -.1-2.8 1.8-5.4z"/><path fill="#00ccff" fill-rule="evenodd" d="M84.4,32.3l1.1-1.8 2.5-.3 2.5,3.2 2.5,1.6 4.6,5.5 -1.5,2.7 -5.6,.9 -2.5,2.7 -1.7-.9 -.8-2.7 4.1-2.7 .1-2.8 -1.7-2.5 -2.5-1.5 -1.1-1.4z"/></g><use href="#st" fill="none" stroke="#8c8c8c" stroke-width="0.45"/><use href="#bb" fill="#151515"/><use href="#rv" fill="none" stroke="#000" stroke-width="1.3" stroke-linejoin="round"/><use href="#mj" fill="none" stroke="#000" stroke-width="1.0"/><use href="#bd" fill="none" stroke="#000" stroke-width="0.85"/><use href="#cs" fill="none" stroke="#000" stroke-width="0.85"/><use href="#br" fill="none" stroke="#000" stroke-width="0.9"/></svg><rect x="0" y="0" width="107.3" height="116.00" fill="none" stroke="#6e6e6e" stroke-width="0.7"/></g>
<text x="465.30" y="258.80" font-size="6.4" font-weight="bold" stroke="#000" stroke-width="0.22" textLength="68.12" lengthAdjust="spacingAndGlyphs">M16 - EC-Earth3-Veg</text>
<g transform="translate(575.40,262.40)"><svg width="107.3" height="116.00" overflow="hidden"><rect x="-1" y="-1" width="109.3" height="118.2" fill="#add8e6"/><use href="#land" fill="#fde4c6"/><g clip-path="url(#cb)"><path fill="#ffffff" fill-rule="evenodd" d="M-2,-2H109.8V118.2H-2Z"/><path fill="#f7e400" fill-rule="evenodd" d="M-5.4,-5.8l9,0 1.1,.4 5.1-.4 103.4,0 -0,19.9 -5.1,.3 -2.5,1.1 -5,.2 -5.1,5.3 -.4,3.1 -2.1,1.9 -2.5,.2 -2.5-.7 -5.1-2.2 -2.5,1.7 -2.2,4.6 -.6,2.7 -.5,10.9 -1.8,1.7 -2.5-1.5 -2.5,.7 -5.1,4.1 -2.5,.8 -7.5-1 -5.1-1.5 -2.5,.8 -2.5,2.8 -5.1,1.9 -.7,2 .7,3.6 .8,1.9 3.8,5.4 -.1,2.7 -2,2.1 -10.1,.2 -2.5-.6 -7.5-3.5 -2.6,.2 -7.5,3.4 -10.1,.6 -2.6-.4 -5-3.1 -0-23.1 2.5,-0 5.1,2 2.5-.3 3.3-1.9 1.9-2.8 .5-2.7 -.7-3.3 -2.5-3.3 -7.6,2.4 -5-1.9 -0-37.4zM100.8,45.9l2.3-2.5 10.1,-0 -0,10.1 -2.5-.4 -1.9,3.7 -5.7,4.6 -2.7,.8 -1.2,2.7 -2.1,2.8 -1.4,5.4 1.7,8.2 -.3,2.7 -1.8,2.7 0,2.7 -2.3,2.4 -2.5,.6 -5.1,.2 -5-1.4 -2.5,.9 -2.7,2.8 -.3,2.7 1.1,2.7 -.6,.9 -5.1,2.6 -2.5,.1 -2.5-1.2 -2.6,1.8 -2.5,3.3 -2.5-1.4 -3.4-6.1 -.1-2.7 1.2-2.7 4.8-4.2 5.1-2.4 2.7-4.3 7.4-7.4 2.5-.3 2.5-1.6 4.6-7 1.2-5.5 3-5.4 7.6-5.5 4-5.4zM64.5,59.5l5.8-1.8 2.5,.1 1.2,1.7 1,5.4 -.4,2.8 -1.8,4.3 -2.5,.8 -2.6,0 -2.5-2.6 -2.5,-0 -2.4-2.5 .1-2.8 1-2.7 3.1-2.7z"/><path fill="#f5c300" fill-rule="evenodd" d="M21.1,-5.8l89.1,0 3,.5 0,13.3 -7.6,1.3 -2.5-.4 -5,1.4 -2.5-.2 -2.6-1.1 -2.5,-0 -1.5,1.5 .2,2.7 -1.2,2.3 -5.1-.1 -2.5,2.5 -4.6,6.2 -7.4,13.6 -5.6,6.3 -2.6,.6 -2.5-.3 -5-2.7 -5.1,1 -2.5,1.6 -2.5,2.7 -5.1,1.7 -2,2.7 -1,5.5 -2,2.4 -2.5,1.8 -2.6,.5 -2.5-.9 -2.5-2.6 -2.5-1.5 -10.1,5 -2.6,.4 -5-1.3 -5,.1 -2.6-1.8 0-10.8 7.6,1.3 2.5-.2 5.1-1.6 5-2.8 1.8,1.1 1.8,-0 1.5-.5 2.9-5 -2.9-1.9 -2.6,.2 -2.5-1.2 -2.6-5.2 -.9-5.5 0-2.7 1-1.3 5-.6 2.6-1 3.8-2.5 .4-2.7 -2.2-2.8 -2.6-5.4 -1-5.4 .3-2.8 1.3-1.8 1.2-3.6zM-5.4,18.7l0-1 1.1,1 -1.1,1.5 -0-1.5zM81.8,81.2l3.7-.9 2.2,.9 -2.2,3.1 -6.1-.4 2.4-2.7z"/><path fill="#f2a500" fill-rule="evenodd" d="M24.6,-5.8l53.7,0 -.9,8.2 -2.9,10.8 -1.1,2.8 -3.6,5.4 -.2,5.4 -1.8,1.9 -2.6,1.2 -7,2.4 -3,1.9 -5.1,1.6 -10.1,8.1 -7.6,3 -2.5-4.1 -2.5-6.9 -6.1-3.6 -2.6-2.7 1.4-2.8 2.3-1.7 2.5-.8 5,1.1 2.8-1.3 .8-2.7 -7.9-10.9 -1.9-5.4 -1.3-2.2 .2-3.3 1.4-2.7 .6-2.7zM95.2,-.4l.6,0 -.3,2.7 -.3-2.7zM111.5,-.4l1.6-.6 0,4.9 -2-1.6 .4-2.7z"/><path fill="#ff8000" fill-rule="evenodd" d="M40.2,-5.8l34.2,0 -.5,2.7 -2.6,5.5 -.6,5.4 -1.8,5.4 -2.8,5.5 -.8,3 -1.7,2.4 -5.9,.9 -2.5-.7 -3.1-5.6 -4.5-4.3 -2.5-.7 -2.6,.1 -1.1-.6 1.1-1.4 .5-4 -1.9-5.4 -.9-8.2zM34.8,37.7l.2-.8 2.5,.1 .2,.7 -2.9,-0z"/><path fill="#f56a00" fill-rule="evenodd" d="M44.7,-5.8l18.6,0 1.1,5.4 -1.1,5.5 2,4.8 .2,3.3 -2.7,5 -2.6,1.8 -2.5-.1 -1.2-1.2 -2.2-2.7 -3-5.5 -3.7-2.8 -1.8-2.6 -.6-2.7 .6-2.8 -.2-2.7 -.9-2.7z"/><path fill="#fa3e00" fill-rule="evenodd" d="M59.8,13.2l.6,0 -.6,0z"/><path fill="#00ccff" fill-rule="evenodd" d="M84.3,32.3l1.1-1.6 2.9,1.6 -2.9,2.1 -1.1-2.1zM93,37.7l2.6-2 1.8,2 -1.2,2.7 -3.2,3.3 -1.3-3.3 1.3-2.7zM84.7,43.1l.7-.3 0,1.1 -.7-.8z"/></g><use href="#st" fill="none" stroke="#8c8c8c" stroke-width="0.45"/><use href="#bb" fill="#151515"/><use href="#rv" fill="none" stroke="#000" stroke-width="1.3" stroke-linejoin="round"/><use href="#mj" fill="none" stroke="#000" stroke-width="1.0"/><use href="#bd" fill="none" stroke="#000" stroke-width="0.85"/><use href="#cs" fill="none" stroke="#000" stroke-width="0.85"/><use href="#br" fill="none" stroke="#000" stroke-width="0.9"/></svg><rect x="0" y="0" width="107.3" height="116.00" fill="none" stroke="#6e6e6e" stroke-width="0.7"/></g>
<text x="575.70" y="258.80" font-size="6.4" font-weight="bold" stroke="#000" stroke-width="0.22" textLength="53.63" lengthAdjust="spacingAndGlyphs">M17 - EC-Earth3</text>
<g transform="translate(23.40,389.40)"><svg width="107.3" height="116.00" overflow="hidden"><rect x="-1" y="-1" width="109.3" height="118.2" fill="#add8e6"/><use href="#land" fill="#fde4c6"/><g clip-path="url(#cb)"><path fill="#ffffff" fill-rule="evenodd" d="M-2,-2H109.8V118.2H-2Z"/><path fill="#00ccff" fill-rule="evenodd" d="M-5.4,-5.8l118.6,0 -0,91.8 -5.1-1.4 -17.6,1.7 -10.1-3.1 -5.1,3.6 -2.5,.8 -2.4,1.8 -1.8,5.4 -4,5.5 -.6,2.7 -3.8,4.6 -2.5-.3 -2.1-1.6 -2.6-2.7 1.1-2.7 .1-2.8 -1.1-2.7 -.2-2.7 .5-2.7 1.8-2 2.5-.9 2.5-2.2 5.5-3.1 1.7-2.7 -.3-2.7 .8-2.7 2.4-2 2.5-3.3 1-2.9 -.8-5.4 1.8-10.9 -1.3-8.2 -.7-1.4 -4.5-6.7 -3.1-1.2 -1.7-1.5 -1.4-5.5 -4.4-3.1 -2.5-.5 -2.6,2.6 -2.5,.4 -5,3 -5.1,-0 -2-2.4 -.5-3.2 -2.5-1.3 -2.6,.9 -2.5,3 -3.6,.6 -1.4,1.6 -2.5,.3 -.7,.8 .4,8.2 -.8,2.7 -0,2.7 -1,2.8 -3,3.3 -5,.5 -7.6,2.5 -10.1-3 -0-52.3zM42.5,-.6l-.6,.2 .6,2.1 0-2.3zM55.2,.9l-1.4,1.4 1.4,2.1 1.8,.6 1.1,0 2.2-2.7 -2.6-1.6 -2.5,.2z"/><path fill="#0088ff" fill-rule="evenodd" d="M-5.4,-5.8l35.8,0 3,2.7 .9,2.7 -1.9,6.7 -.9,1.5 -4.1,2.6 -2.8,5.6 -2.2,1.8 -5.1,.6 -2.5,3 -.8,5.4 1.2,5.5 -.6,8.1 -2.3,1.7 -10.1,2.7 -2.6-.3 -5-2.1 0-48.2zM110.1,-5.8l3.1,0 -0,5.4 -3.1-5.4zM100.3,7.8l2.8-.7 2.7,6.1 2.4,1.8 2.5-.2 2.5-.9 0,68.4 -7.5-.6 -12.6,1.2 -2.6-.3 -10.1-4.4 -5-1 -1.1-1.4 -.5-2.7 4-8.2 .3-2.7 -.6-5.4 1.9-8.2 -1.7-5.4 -.7-8.2 .9-1.3 2.5-1.3 5.3,2.6 2.3-2.7 .4-2.7 -2.9-3.7 .3-9.9 4.7-3.3 2.6-.2 5,1.6 1-.9 1.2-5.4zM36,10.5l1.5-1.1 2.1,1.1 -.4,2.7 -1.7,1.1 -1.9-1.1 .4-2.7zM58.6,92.1l1.6-.9 1.2,.9 -1.2,1.1 -1.6-1.1z"/><path fill="#0055ff" fill-rule="evenodd" d="M-5.4,-5.8l18.7,0 1.5,.7 2.5,.1 1.4-.8 3.6,0 1.8,2.7 .5,2.7 .1,5.5 -1.5,2.7 -3.4,2 -1.7,3.4 -5.8,4.6 -2.3,3.6 -1.1,2.7 1.4,5.5 -3.1,6.7 -1.6,1.4 -3.4,1.7 -2.6-1 -1.9-3.4 -3.1-2.6 -0-15.6 2.5,.3 2.9-1.1 -1.1-2.8 -1.8-2 -2.5-1.6 -0-15.4zM110.8,18.7l2.4-.7 0,60.7 -5,.5 -10.1-1.1 -7.6,1 -5-3.6 -5.1-1.5 -1.2-.9 .3-2.7 3.4-2.7 -1.4-8.2 2.6-10.9 .2-5.4 2.2-2.7 4.6-2.8 1.4-2.7 1.8-5.4 .2-2.7 -1-2.8 1.6-2.7 10.6-.2 5.1-2.5z"/><path fill="#0022e6" fill-rule="evenodd" d="M111.6,24.1l1.6-.9 0,23.7 -2.5,.2 -2.5-1 -5.1-3.7 -2.5,1.4 -1.3,2.1 -1.2,5.4 .9,5.4 -4.1,16.4 -1.8,1.2 -2.6-.6 -1.5-3.4 -2.9-10.8 .8-5.5 2.1-2.7 1-2.7 -.5-2.7 1-1.6 2.6-.2 2.5-1.9 2.2-7.2 .3-5.5 2.5-2.7 11-2.7z"/></g><use href="#st" fill="none" stroke="#8c8c8c" stroke-width="0.45"/><use href="#bb" fill="#151515"/><use href="#rv" fill="none" stroke="#000" stroke-width="1.3" stroke-linejoin="round"/><use href="#mj" fill="none" stroke="#000" stroke-width="1.0"/><use href="#bd" fill="none" stroke="#000" stroke-width="0.85"/><use href="#cs" fill="none" stroke="#000" stroke-width="0.85"/><use href="#br" fill="none" stroke="#000" stroke-width="0.9"/></svg><rect x="0" y="0" width="107.3" height="116.00" fill="none" stroke="#6e6e6e" stroke-width="0.7"/></g>
<text x="23.70" y="385.80" font-size="6.4" font-weight="bold" stroke="#000" stroke-width="0.22" textLength="62.27" lengthAdjust="spacingAndGlyphs">M18 - FGOALS-f3-L</text>
<g transform="translate(133.80,389.40)"><svg width="107.3" height="116.00" overflow="hidden"><rect x="-1" y="-1" width="109.3" height="118.2" fill="#add8e6"/><use href="#land" fill="#fde4c6"/><g clip-path="url(#cb)"><path fill="#ffffff" fill-rule="evenodd" d="M-2,-2H109.8V118.2H-2Z"/><path fill="#f7e400" fill-rule="evenodd" d="M19.8,-5.8l93.4,0 -0,94.6 -5.1,2.9 -7.5,.7 -2.6-1.2 -2.5-.4 -5,1.7 -2.6-.7 -4-5.1 -.3-2.8 .6-2.7 3.1-5.4 -1.1-8.2 -1.6-2.7 -4.2-4.5 -2.6-.1 -7.5,1.4 -7.6-.7 -5,.3 -2.6,1 -2.8,5.3 .4,2.7 2.4,2.5 10.7,3 1.5,2.7 -.7,5.4 .8,8.2 -.6,2.7 -1.9,2.7 2.4,2.8 3,2 2.5,.9 3.2-.2 6.9-1.9 2.5,.6 2.5,1.6 2.6,.2 10.1-3 5,.1 2.5,2.4 5.1,1.7 -0,17.3 -118.6,0 -0-78 2.5,.3 5.1,1.8 2.5-2 2.5-3.2 2.9-.5 2.2-2.6 3.7-2.8 .4-2.7 -1.6-1.1 -2.4-4.4 .2-2.7 2.2-2.2 2.5-1.2 1.3-2 .4-13.6 1.1-8.2 -.3-2.7zM40,80.8l-1.9,.5 1.9,.6 2.7-.6 -2.7-.5zM-.3,77.9l-.8,.6 3.3,1.4 1.1-1.4 -3.6-.6z"/><path fill="#f5c300" fill-rule="evenodd" d="M23.9,-5.8l89.2,0 0,85.3 -2.5,.3 -2.5,2.3 -2.5,.3 -2.6-1.8 -5-.4 -2.5-1.6 -1.2-5.5 -4.3-8.2 -7.1-7.9 -2.6-1.8 -2.5-.3 -2.5,.8 -5,3 -2.6,.2 -5-1.1 -7.6-.7 -2.5-.9 -2.5-2.9 -2.1,.7 -1.2,2.8 .7,2.3 2,3.1 -2,3 -5,1.3 -.9,1.1 -.9,5.5 -.7,.9 -2.5-.4 -2.6-2.2 -5-.1 -2.5-2.6 -7.6,1.6 -5.1-1.9 -2.5,1 -2.5,2.1 -2.5-.2 -5.1,1.4 -7.5-1.1 -0-21.6 2.5-.1 5,2.1 2.6-1 2.5-3 2.5-1.4 5,2.8 2.6,.1 5.5-.9 2.4-2.7 -2.9-3 -1.1-2.5 0-2.7 2.1-8.1 -0-2.8 -1.3-2.7 .1-2.7 1.1-2.7 -.4-10.9 2.3-8.2 -1.2-5.4zM57.1,81.2l.6-1.2 2.6-1.4 1.5,2.6 .9,2.7 -.1,2.7 -2,2.8 -2.9,1.6 -.8,1.1 -2.3,8.1 .6,.7 7.6,4 5,.4 5.1,2.8 10.1-2.4 5,2.5 5.1-.2 7.5-2 5.1,.9 5,2.4 2.5,.3 0,12.4 -38.3,-0 -2-1.8 -1.1,1.8 -77.1,-0 -0-21.5 3.9-5.7 1.1-.8 2.5,1 2.5,.2 2.6-.7 7.5-4.5 2.6,.7 5,2.8 7.6-.3 5-1.7 7.6-1.1 5,1.1 5.1-2.6 2.5-2.3 1.9-5.4z"/><path fill="#f2a500" fill-rule="evenodd" d="M28,-5.8l53.8,0 0,2.7 1.1,3.4 2.5,1.7 2.5,.6 2.5-2.2 .9-3.5 -.2-2.7 22,0 0,80.3 -1.9-1.4 -2.1-5.5 -1-1.1 -2.5,.2 -4.1,6.4 -1,.3 -2.5-4.4 -1.4-4.1 -1.1-1.3 -6.4-4.1 -3.7-5.1 -5-5.3 -7.6,1.9 -2.5,4.2 -2.6,.9 -10.1-1.8 -7.5-6.7 -2.5-.6 -7.6-.7 -5.1,1.5 -3.7-7.4 -.3-2.7 1.5-4.2 5.8-9.4 -.8-2.7 -3.1-2.7 -3.8-5.5 -1.2-8.1 1.2-2.7 -.4-2.8 -2.1-5.4zM100.6,22.5l-1.2,1.6 .3,2.7 .9,.7 2.5-.4 2.5-2.5 2.3-.5 -2.3-1.2 -5-.4zM108.1,21.2l0,1.6 0-1.6zM37,54l.5-.7 1.2,.7 -1.2,2.1 -.5-2.1zM6.7,56.7l3-1.5 2.2,1.5 2.3,2.7 -2.8,2.7 -1.7,.5 -1.8-.5 -2.9-2.7 1.7-2.7zM32,105.7l.5-.7 1,.7 2.1,2.7 -.6,.6 -1.9-.6 -1.1-2.7zM84.1,116.6l1.3-2.5 2.5,1.1 1,1.4 -3.5,3 -1.3-3zM58.8,119.3l1.4-2 2.5-.5 2.1,5.2 -6.2,0 .2-2.7zM41.9,122l3.1-.4 .9,.4 -4,0z"/><path fill="#ff8000" fill-rule="evenodd" d="M40.8,-5.8l37.1,0 1.1,8.2 .9,2.7 3.7,5.4 3.1,8.2 -.2,2.7 -1.1,1.9 -2.5,1.7 -5,1.3 -5.1,8.1 -2.5,.2 -5.1-3.1 -2.5,-0 -12.6,3 -5-1.1 -2.6,.6 -1.1-1.7 .6-2.7 1.5-2.8 -.8-10.8 -1-5.5 -.1-5.4 -2.2-5.5 1.4-5.4zM97,-3.1l1.1-2.5 2.5,1.5 .6,1 -.6,2.6 -2.5,.2 -1.1-2.8zM106,37.7l2.1-.9 5.1,1.6 -0,10.2 -5.1-2.2 -3.9-.5 -2.8-2.8 1.7-2.7 2.9-2.7zM92.1,43.1l3.4-1.1 2.3,1.1 .5,2.7 -.9,2.7 -.4,5.5 -1.2,2.7 -2.8,.9 -2.6-.9 -3.1-5.4 -.8-2.8 5.6-5.4zM61.8,48.6l.9-1.1 2.5,0 2,1.1 .7,2.7 -2.7,.8 -3-.8 -.4-2.7z"/><path fill="#f56a00" fill-rule="evenodd" d="M46.1,-5.8l29.2,0 1.1,5.4 -1.7,8.2 .7,5.4 -.9,2.8 -2,2.7 .3,6.3 -.7,1.8 -1.8,1.5 -10.1-1.2 -6.1-3 -4-10.9 -4.3-5.4 -.6-2.7 .1-2.7 1-2.8 .3-2.7 -.5-2.7z"/><path fill="#fa3e00" fill-rule="evenodd" d="M52.4,-3.1l1.3-2.7 11.5,.3 7.1-.3 .5,.8 .8,4.6 -3,5.5 -.6,2.7 .5,2.7 -.5,2.7 -3,2.7 -4.3,5.8 -2.5,.2 -2.5-2.1 -2.9-6.6 -.1-2.7 -3.5-2.7 -1.7-2.7 .6-2 3.1-3.5 -.8-2.7z"/></g><use href="#st" fill="none" stroke="#8c8c8c" stroke-width="0.45"/><use href="#bb" fill="#151515"/><use href="#rv" fill="none" stroke="#000" stroke-width="1.3" stroke-linejoin="round"/><use href="#mj" fill="none" stroke="#000" stroke-width="1.0"/><use href="#bd" fill="none" stroke="#000" stroke-width="0.85"/><use href="#cs" fill="none" stroke="#000" stroke-width="0.85"/><use href="#br" fill="none" stroke="#000" stroke-width="0.9"/></svg><rect x="0" y="0" width="107.3" height="116.00" fill="none" stroke="#6e6e6e" stroke-width="0.7"/></g>
<text x="134.10" y="385.80" font-size="6.4" font-weight="bold" stroke="#000" stroke-width="0.22" textLength="57.72" lengthAdjust="spacingAndGlyphs">M19 - FGOALS-g3</text>
<g transform="translate(244.20,389.40)"><svg width="107.3" height="116.00" overflow="hidden"><rect x="-1" y="-1" width="109.3" height="118.2" fill="#add8e6"/><use href="#land" fill="#fde4c6"/><g clip-path="url(#cb)"><path fill="#ffffff" fill-rule="evenodd" d="M-2,-2H109.8V118.2H-2Z"/><path fill="#f7e400" fill-rule="evenodd" d="M20.7,-5.8l8.7,0 .5,.7 1,2 .6,5.5 .9,2.7 -2.5,6.5 -2.5,-0 -6.7-6.5 -0-10.9zM43.2,-5.8l15.5,0 2.2,10.9 3.4,2.7 -.4,2.7 .8,2.7 2.1,2.8 -1.6,2 -2.5,.1 -2.5,1.4 -5.3,4.6 -1.6,2.7 -.9,2.8 .3,2.7 2.2,5.4 .2,3.8 -5,1.9 -2.5-1.4 -.9-1.6 -3.8-2.7 -2.9-1.6 -2.5-.4 -3.7,4.7 -.3,2.8 .9,10.8 -.2,2.8 -1.8,2 -2.5,.2 -2.5-.6 -10.1-5.5 -2.5-.6 -7.6,5.2 -2.5,4 -2.5,.4 -2.6-.2 -3.5-4.9 -1.5-1.3 -0-40.7 2.5,.3 2.5-1.5 2.6-3.9 2.5-1 10.1,16.1 2.5,1.2 5,.7 5.1-.4 2.5-2.8 2.5-1.5 2.5-.1 .5-.5 1-2.7 .8-5.5 4.4-8.1 1.8-8.2 -.2-2.7zM2.2,36.7l-1.5,1 1.5,2.7 2.5,.8 .9-.8 -.7-2.7 -2.7-1z"/><path fill="#f5c300" fill-rule="evenodd" d="M46.8,-5.8l9,0 -.2,2.7 -2.6,8.2 .5,2.7 2.1,2.7 1.2,2.7 .3,2.8 -1.9,3.1 -7.6,2.5 -2.5,.3 -2.5-2.5 -.6-3.4 .6-2.8 4.5-5.4 -.3-13.6zM22.8,32.3l2.1-1.6 2.5,.6 1.9,1 1.2,2.7 -1,8.2 -2.1,4.2 -2.5,.2 -2-1.7 -.5-2.9 -5.1,1.2 -2.1-1 -2.9-2.9 -1.2-2.6 -.3-2.7 1.5-2.2 2.5,.7 2.5,1.7 2.6,.6 2.9-3.5z"/><path fill="#00ccff" fill-rule="evenodd" d="M75.6,15.9l2.2-1.4 2.6-.5 7.5-.2 5.1,2 3.5,2.8 4.1,1.4 5,.5 7.6-1 -0,29.8 -2.6-.4 -7.5,1 -2.5,1.1 -2.7,3 1.5,2.7 .3,2.7 -.5,2.7 1.4,1.2 5-2.9 2.5-.6 5.1,.7 -0,61.5 -24.3,-0 -1-1 -.5,1 -92.8,-0 -0-48.8 2.5,.6 3.7-.8 1.4-1.3 7.5-.5 2.6,.9 2.5-.2 1.5-1.6 1.3-2.7 4.7-2.4 2.6,.2 5,3.1 7.6,2.5 1.9,2 .6,2.3 2.5-.8 2.2-1.5 2.9-4.7 10.1-.4 5,1 1.7-1.3 -.4-5.5 1.9-2.7 1.9-1 2.5,.1 6.1-4.5 0-10.9 1.4-4.6 1.1-.8 -.7-2.8 -3.3-2.7 .1-5.4 -1.1-5.5 .2-2.7 1.5-2.7zM9.7,102l-1.5,1 .1,2.7 1.4,1.5 2.9-1.5 -.4-3 -2.5-.7zM60.2,110.9l0,.7 0-.7zM-5.4,67.6l0-.4 1,.4 -1,4.4 0-4.4z"/><path fill="#0088ff" fill-rule="evenodd" d="M87.4,21.4l.6-.8 5,.5 7.6,2.3 7.6,.1 5,1.1 0,21.6 -2.5-.3 -7.6,.9 -5.2-.9 -5.8-8.2 -1.6-6.4 -3.1-1.7 -.4-2.8 .4-5.4zM82.3,56.7l.6-.7 2.5,.3 2.5,2.3 1.8,.8 -2.7,8.2 -0,2.7 .9,2 3.5,.7 1.1,2.7 -2,2.3 -5.1,.8 -2.5,1.2 -2.5,3.1 -2.6,1.3 -1.5,2.2 -2,8.2 -4,2.4 -2.6,.5 -.7-2.9 .7-3.2 -4.3-2.3 -.9-2.7 4.9-2.7 2.9-2.4 3.7-.3 1.1-2.7 -2.2-8.2 -.2-2.7 .6-2.7 2-3.9 1.9-1.6 5.1-2.7zM90,56.7l.5-.5 2.5,0 .2,.5 -.2,.6 -2.5,1 -.5-1.6zM19.8,78.5l2.6-1.2 3.6,3.9 -1.1,1.3 -2.5-.3 -1.7-1 -.9-2.7zM96.9,83.9l1.2-1.8 2.5-.9 3,2.7 -.2,2.7 -3.2,0 -3.3-2.7zM29.7,97.5l2.7-.4 1.2,3.1 -1.2,.9 -2.5,-0 -1-.9 .8-2.7zM39.7,100.3l1,0 -1,0zM13.2,111.1l1.6-1.1 1.4,1.1 -1.4,5 -2.5-.4 -.7-1.9 1.6-2.7z"/><path fill="#0055ff" fill-rule="evenodd" d="M95.4,26.8l10.3-.7 7.5,3.3 0,13.3 -5-1 -2.5,1.5 -2.6,-0 -2.5-.7 -2.4-2.1 -3.3-10.9 .5-2.7zM80.3,73.1l.1-1 -.1,1z"/></g><use href="#st" fill="none" stroke="#8c8c8c" stroke-width="0.45"/><use href="#bb" fill="#151515"/><use href="#rv" fill="none" stroke="#000" stroke-width="1.3" stroke-linejoin="round"/><use href="#mj" fill="none" stroke="#000" stroke-width="1.0"/><use href="#bd" fill="none" stroke="#000" stroke-width="0.85"/><use href="#cs" fill="none" stroke="#000" stroke-width="0.85"/><use href="#br" fill="none" stroke="#000" stroke-width="0.9"/></svg><rect x="0" y="0" width="107.3" height="116.00" fill="none" stroke="#6e6e6e" stroke-width="0.7"/></g>
<text x="244.50" y="385.80" font-size="6.4" font-weight="bold" stroke="#000" stroke-width="0.22" textLength="61.70" lengthAdjust="spacingAndGlyphs">M20 - FIO-ESM-2-0</text>
<g transform="translate(354.60,389.40)"><svg width="107.3" height="116.00" overflow="hidden"><rect x="-1" y="-1" width="109.3" height="118.2" fill="#add8e6"/><use href="#land" fill="#fde4c6"/><g clip-path="url(#cb)"><path fill="#ffffff" fill-rule="evenodd" d="M-2,-2H109.8V118.2H-2Z"/><path fill="#f7e400" fill-rule="evenodd" d="M-5.4,-5.8l118.6,0 -0,64.5 -.6,.8 -0,2.7 .6,.3 -0,10.2 -5.1,.1 -5-2.6 -2.5-.8 -2.6,-0 -2.5-2 -2.5-.6 -2.5,.4 -2.4-5 -.9-5.4 -1.1-2.8 -2.8-2.7 -2.9-4.2 -2.5-1.3 -2.6,.2 -1.2,2.6 .6,2.7 .1,10.9 -3.2,5.4 1.1,2.7 2.1,2.8 -1,5.4 2.2,2.7 .3,2.7 1.2,2.8 2.6,2.7 2.8,4.6 2.5-.3 10.1-3.8 5.1,0 1.6,2.2 -0,2.7 .9,.9 2.5,.2 5.1-6.1 2.5,.3 -0,31.9 -33.7,0 -1.6-.9 -2.6,.9 -80.7,0 0-127.8zM57.7,47.7l-4.8,3.6 -5.3,6.6 -3.4,1.6 -1.2,8.1 2.1,3.7 2.5,.6 2.3-1.6 7.8-9.2 5-2.1 1.3-2.3 1-2.7 -.5-2.7 -2-2.7 -2.3-1.4 -2.5,.5zM90.5,26.6l-2.5,.3 -1.7,2.7 .1,5.4 -1.2,5.5 .5,2.7 2.3,1.3 2.5,.3 5.2-1.6 1.7-2.7 .3-2.8 -2.3-8.1 -2.4-2.8 -2.5-.2z"/><path fill="#f5c300" fill-rule="evenodd" d="M-5.4,-5.8l14.5,0 3.2,2.9 1.7,2.5 .8,3 2.5-3 -2.3-2.7 -1.4-2.7 99.6,0 -0,20.9 -1.3,.9 1.3,2.7 -0,13.6 -6.8,5.4 -.8,1.5 -2.5,1.3 -4.7-13.7 -2.1-2.7 -.9-2.7 -2.4-1.9 -2.7,1.9 -4.9,.8 -2.2,1.9 -1.6,10.9 -3.7,4.4 -2.6,.8 -5-3.6 -2.5,.7 -5.1,4.5 -10.1,4.3 -5,.4 -10.1-1.8 -2.5,1.1 -1,2.8 -4.1,5.4 -2.5,2.4 -2.5-.1 -7.6,1.6 -5,.2 -2.6,1 -5,.8 -2.5,1.2 -2.6-.6 -2.2-1 -.5-2.7 2.7-.5 2.1-2.3 -1.3-2.7 -.8-.7 -2.5-.5 -2.5,2 0-57.9zM85.4,4.4l-.8,.7 .8,.2 0-.9zM91.2,48.6l4.3-.9 2.5,1.5 .6,2.1 -.1,5.5 -.8,2.7 -2.2,2 -2.5-.4 -1.7-1.6 -.8-2.2 -1-6 1.7-2.7zM37.3,89.4l.6,0 -.4,.5 -.2-.5zM89.2,100.3l1.3-1.6 2.5,.3 1.1,1.3 .2,2.7 -1.3,.9 -2.5,.3 -1.7-1.2 .4-2.7zM105.9,103l2.3-2.3 2.5-.3 2.5,2.2 0,2.3 -2.5,.6 -2.5-.4 -2.3-2.1zM-5.4,105.7l0-1.4 .8,1.4 -.8,1.2 0-1.2zM11.2,108.4l3.6-1.2 4.2,1.2 -1.7,.3 -2.5,1.8 -2.6,3.2 -2.1-2.6 1.1-2.7zM31.8,108.4l.6-1.9 2.5-.6 2.1,2.5 1.3,2.7 -1.2,2.7 -2.2,1.5 -1.7-1.5 -1.5-2.7 .1-2.7zM111.7,119.3l1.5-1.7 -0,4.1 -1.5-2.4z"/><path fill="#f2a500" fill-rule="evenodd" d="M19.5,-5.8l58.2,0 -1.5,2.7 -.6,2.7 .8,10.9 2,5.5 .2,5.4 .8,2.7 .1,2.7 -1.6,3.3 -2.6,2.9 -2.5,.3 -5-1.6 -1.1,.6 -4,4.7 -2.5,1.2 -2.5,0 -5.1,3.1 -6.5-.9 -1-1.2 -1.5-4.2 -2.1-2.7 3.6-3.8 .4-1.7 -2.5-8.1 -3-5.5 1.3-8.1 -.4-2.7 -.9-4.3 -2.5-3.3 -5.1,2.5 -1,2.3 .6,10.9 -3.3,5.5 1.2,1.8 2.8,.9 -.9,2.7 0,2.7 2.5,5.5 -.7,2.7 -2.2,2.7 -0,2.7 -1.5,3.7 -2.5-.2 -1.9-3.5 -0-2.7 -.9-2.7 -7.1-5.5 -.8-2.7 .8-2.7 3-5.4 -.1-5.5 .8-2.7 .5-10.9 -2.2-2.7zM94.3,10.5l1.2-.6 .8,.6 1.1,2.7 -1.9,.7 -1.3-.7 .1-2.7zM104.3,29.5l1.3-2 1.8,2 -1.8,1.6 -1.3-1.6z"/><path fill="#ff8000" fill-rule="evenodd" d="M42.8,-5.8l29.3,0 1,8.2 -.5,5.4 2.4,8.2 -1.3,2.7 -3.4,3.6 -2.5,4 -2.5,.9 -5-4.3 -5.1-.1 -1.7-1.4 -1.9-2.7 -4-2 -2.5-2.5 -1.3-3.7 -1-16.3z"/><path fill="#f56a00" fill-rule="evenodd" d="M46.3,-5.8l21.8,0 1.2,5.4 -1.5,4.9 -.8,.6 -.1,2.7 .9,.6 2.8,4.8 -0,2.8 -2.8,1.3 -5.1-.1 -2.5-.7 -2.5-3.3 -2.5-.6 -5.1,.1 -1.5-2.2 -2.4-8.1 .1-8.2z"/></g><use href="#st" fill="none" stroke="#8c8c8c" stroke-width="0.45"/><use href="#bb" fill="#151515"/><use href="#rv" fill="none" stroke="#000" stroke-width="1.3" stroke-linejoin="round"/><use href="#mj" fill="none" stroke="#000" stroke-width="1.0"/><use href="#bd" fill="none" stroke="#000" stroke-width="0.85"/><use href="#cs" fill="none" stroke="#000" stroke-width="0.85"/><use href="#br" fill="none" stroke="#000" stroke-width="0.9"/></svg><rect x="0" y="0" width="107.3" height="116.00" fill="none" stroke="#6e6e6e" stroke-width="0.7"/></g>
<text x="354.90" y="385.80" font-size="6.4" font-weight="bold" stroke="#000" stroke-width="0.22" textLength="54.92" lengthAdjust="spacingAndGlyphs">M21 - GFDL-CM4</text>
<g transform="translate(465.00,389.40)"><svg width="107.3" height="116.00" overflow="hidden"><rect x="-1" y="-1" width="109.3" height="118.2" fill="#add8e6"/><use href="#land" fill="#fde4c6"/><g clip-path="url(#cb)"><path fill="#ffffff" fill-rule="evenodd" d="M-2,-2H109.8V118.2H-2Z"/><path fill="#f7e400" fill-rule="evenodd" d="M-5.4,-5.8l118.6,0 -0,127.8 -80.5,0 -2.8-1.8 -2.3,1.8 -33,0 0-37.1 2.5,2 .3-3 -2.8-.2 0-13 1.1-.4 .5-2.7 -1.6-.8 0-72.6zM42.5,42.6l-.8,.6 0,5.4 -2.3,5.4 .6,1.8 5-.1 2.5,1.8 2.6,.6 5,5.4 2.5,-0 .9-1.3 .6-2.7 -2.4-8.2 -1.6-2.2 -2.5-1.9 -7.6-1.9 -2.5-2.7zM88,26.8l-5,1.6 -1.7,1.2 -.3,5.4 -4.4,2.7 -2.9,2.7 -.5,2.8 .2,10.8 -.2,2.8 -1.7,5.4 .3,2.7 1.1,5.1 2.5,3.1 .8,2.7 .1,5.4 1.6,1.9 5.1-2.2 2.5-3.6 1.7-9.7 -.9-2.7 2-5.4 .1-2.7 -1.1-5.5 .7-1.5 2.5-.8 5.1-.6 2.5-2.5 .8-2.7 -1.1-8.2 -1.8-5.4 -2-2.8 -1-.5 -2.5-.4 -2.5,.9zM50.1,105.7l-1.2,2.8 1.2,1.5 2.4-1.5 0-2.8 -2.4,0z"/><path fill="#f5c300" fill-rule="evenodd" d="M-5.4,-5.8l118.6,0 -0,28.1 -2.5-1.4 -1.4,.5 -1.2,.5 -2.5,4.2 -2.5,.5 -15.1-6.4 -4.6,3.9 -3,1.4 -7.6,9.4 -6.6,2.8 -3.1,2.7 .2,2.8 2.9,8.1 -1,.4 -2.5-2.7 -4.8-3.1 -2.7-4.4 -5.1-5.3 -2.5-1.6 -2.5-.1 -2.6-1.9 1.7-3 -1.7-.6 -2.5,.5 -6.5,2.8 -1.1,1.1 -.4,1.6 .9,8.2 2.7,5.4 -.6,2.7 -2.6,2.2 -2.5,1.4 -5,.6 -7.6,4.5 -2.5,.1 -5.1-1.8 -2.5,.9 -5-2 -5.1,2.4 -2.5,.4 -0-65.8zM82.9,-3.7l-.5,.6 -.3,2.8 .8,.6 1.7-.6 -1.7-3.4zM88,2.1l0,.4 .8-.1 -.8-.3zM44.2,67.6l3.4-2.4 3.1,2.4 -1.5,2.7 -1.6,1.1 -3.7,4.4 -3.8,2.4 -1-2.4 5.1-8.2zM90.9,73.1l2.1-1.7 .6,1.7 -.6,.6 -2.1-.6zM4.2,81.2l.5-1 1.1,1 -1.1,2 -.5-2zM71.4,92.1l1.4-.5 1.4,.5 1.8,2.7 -.7,1.2 -2.5-.3 -.8-.9 -.6-2.7zM-5.4,111.1l0,2.8 0-2.8zM56.7,122l1-1.2 2.5-1.3 2.6,1.3 1,1.2 -7.1,0z"/><path fill="#f2a500" fill-rule="evenodd" d="M18.9,-5.8l16.4,0 2.2,2.5 1.1-2.5 39.4,0 -1.3,5.4 .5,2.8 1.5,2.7 .5,2.7 -1.3,1.3 -.5,1.4 .9,5.5 -2.1,5.4 -0,2.7 -1,2.7 -2.4,3.1 -4,2.4 -3.6,1.4 -5,.2 -2.5-1.4 -1.4-2.9 -1.1-5.5 -2.6-3.2 -2.5,-0 -2.5-.8 -2.5-1.6 -2.6-.1 -1,.3 -1.5,3.1 -2.5-1.7 -2.5-3.9 -5.1,.5 -7.5-2.9 -.8-.6 .4-2.7 -3-5.4 -.6-2.7 .5-8.2zM35,10.5l-2.5,1.2 -.7,1.5 .7,2 2.5,.5 .5-2.5 -.5-2.7zM102.9,-5.8l10.3,0 0,8.6 -1.1-3.2 -1.4-1.4 -2.5-1.1 -2.6-.3 -2.7-2.6zM5.7,15.9l1.5-.4 .4,.4 -.4,.8 -1.5-.8zM24.7,32.3l2.7-.5 .3,.5 -.3,1.1 -2.7-1.1z"/><path fill="#ff8000" fill-rule="evenodd" d="M21.4,-5.8l10.6,0 1.3,5.4 -0,2.8 -.9,2.7 -2.5,1.7 -2.5,.6 -2.5-1.2 -2.6-3.8 -.6-2.8 -.3-5.4zM41.8,-5.8l32,0 -1.7,5.4 -.4,8.2 1.1,8.2 -.2,2.7 -1.5,2.7 -3.2,2.7 -2.6,3.7 -1.4-1 -1.2-2.8 -2.5-2.1 -1.8-3.2 -3.2-2.2 -2.6-.7 -5,0 -5.3-2.6 -1.3-2.7 0-10.9 .8-5.4z"/><path fill="#f56a00" fill-rule="evenodd" d="M24.7,-5.8l3.2,0 -.5,1.6 -2.6-1 -.1-.6zM44.2,-5.8l23,0 -.2,5.4 .9,8.2 -.2,2.7 -1.3,2.7 -3.7,1.6 -2.5-.2 -5-1.8 -7.6-.2 -2-2.1 -1-2.7 -.8-8.2 .4-5.4z"/><path fill="#fa3e00" fill-rule="evenodd" d="M46.8,-5.8l16.3,0 1,10.9 -1.4,3.7 -2.5,1.3 -5.1-.8 -2.5,.3 -2.5-.2 -1.9-1.6 -1.3-2.7 -.3-2.7 -.3-5.5 .5-2.7z"/></g><use href="#st" fill="none" stroke="#8c8c8c" stroke-width="0.45"/><use href="#bb" fill="#151515"/><use href="#rv" fill="none" stroke="#000" stroke-width="1.3" stroke-linejoin="round"/><use href="#mj" fill="none" stroke="#000" stroke-width="1.0"/><use href="#bd" fill="none" stroke="#000" stroke-width="0.85"/><use href="#cs" fill="none" stroke="#000" stroke-width="0.85"/><use href="#br" fill="none" stroke="#000" stroke-width="0.9"/></svg><rect x="0" y="0" width="107.3" height="116.00" fill="none" stroke="#6e6e6e" stroke-width="0.7"/></g>
<text x="465.30" y="385.80" font-size="6.4" font-weight="bold" stroke="#000" stroke-width="0.22" textLength="58.87" lengthAdjust="spacingAndGlyphs">M22 - GFDL-ESM4</text>
<g transform="translate(575.40,389.40)"><svg width="107.3" height="116.00" overflow="hidden"><rect x="-1" y="-1" width="109.3" height="118.2" fill="#add8e6"/><use href="#land" fill="#fde4c6"/><g clip-path="url(#cb)"><path fill="#ffffff" fill-rule="evenodd" d="M-2,-2H109.8V118.2H-2Z"/><path fill="#f7e400" fill-rule="evenodd" d="M40.3,-5.8l31.6,0 .9,2 2.6,1.5 1.2,1.9 .5,5.5 -.1,2.7 -1.6,2.4 -2.6,1.7 -7.5-.2 -2.6,.8 -1.1,.7 -1.2,2.8 -.2,3 2.9,2.4 1.6,2.7 .6,3 4,2.5 .5,2.7 -1.5,5.4 -1.5,2.7 -4.1,1.3 -1.8,1.5 -1.4,2.7 -4.3,5 -.3,3.1 -1,2.8 -0,2.7 1.3,.1 7.5-2.4 5.1-3 5,.1 1.7,2.5 .2,2.7 2,5.4 -.8,8.2 -.8,2.7 .2,2.7 2.1,2.7 .5,3.8 .3-1.1 3-2.7 .3-2.7 3.9-1.6 4.3-3.8 1.9-2.8 1.4-4.6 2.5-.4 2.2,2.3 0,2.7 1.1,2.8 -.2,5.4 .5,2.7 -1.1,2.7 -1.6,2.8 -2.5,2.7 -.9,2.7 -2.5,2.4 -2.5,0 -2.6-.9 -2.5,.7 -2.5,2 -5,1.5 -2.3,2.5 .3,2.7 -1.2,2.7 -1.9,1.5 -2.5,.7 -5.1-1.7 -2.5-1.4 -7.6,.1 -5,2.5 -7.6-2.1 -5-2.5 -2.5,2.9 -7.6-2.4 -7.6,1 -2.5-.3 -5-1 -2.6-1.4 -2.5,1.7 -5,.7 -5.1,1.8 0-44.8 2.5-1.8 7.6-3.5 7.6,.6 5-1.4 4.9,1.9 -1.3,2.7 4,4 2.5-1.5 5.1-5.1 2-2.9 1.8-5.4 8.8-2.9 5,.4 2.5-.6 1.8-2.3 -1-5.5 -.8-1.2 -2.5-2.1 -7.5-4.7 -2.6-.5 -7.5,5.6 -7.6,.7 -4.4-5.9 -.9-2.8 1.2-5.4 4-5.4 4.5-2.8 1.5-2.7 1.7-1.5 5-.5 1.4-.7 2.4-2.7 .1-2.7 -1.1-2.8 -0-5.4zM57.7,81.1l-2.5,.9 -2.8,1.9 -1,2.7 2.3,2.7 6.5,3.1 5.1-1.9 1.5-1.2 -3.2-5.4 -3.4-2.1 -2.5-.7zM22.4,66.7l-.7,3.6 .7,.3 1.2-3 -1.2-.9z"/><path fill="#f5c300" fill-rule="evenodd" d="M53.1,-5.8l14.8,0 -1.5,2.7 .1,2.7 1.2,2.8 0,2.7 -2.5,2.3 -2.5,.6 -5.1-3.1 -2.5-.4 -1.6,.6 2.1,2.7 .6,2.7 -.3,2.7 -2.4,8.2 -3.4,4.7 -2.6,1 -2.5-.4 -14.8-5.3 .1-2.7 2.1-1.7 2.5-3.9 5.1-.9 2.5-1.2 7-5.9 3.3-8.2 .3-2.7zM39.4,59.5l3.2-.8 .4,.8 -2.9,.4 -.7-.4zM67.6,59.5l2.7-.1 1.9,2.8 .7,2.7 -.8,5.5 -.9,2.7 -.9,1 -5.1,1 -2.5-.9 -1.3-1.1 -.6-2.7 .3-5.5 6.5-5.4zM3.3,89.4l1.4-1.3 2.9,1.3 -2.9,1.4 -1.4-1.4zM64.5,97.5l.7-.6 .6,.6 -.6,.5 -.7-.5z"/><path fill="#00ccff" fill-rule="evenodd" d="M30.6,-.4l1.8-2 1.1,2 -1.1,2.6 -1.8-2.6zM90.4,13.2l2.6-.4 7.6,2.9 2.5,.1 5.1-1.5 2.5,.6 2.5-.8 0,36.2 -10.1-1.6 -2.5,.7 -2.5,1.5 -2.6,4 -5,1.8 -1,2.7 -.6,5.5 -.9,2.2 -2.5,2.9 -2.6,1.5 -2.6-1.2 .2-5.4 -2.7-5.5 .9-5.4 -1.7-2.7 -3.6-2.7 -.2-5.5 1.3-2.7 .4-2.7 -1.2-8.2 .5-2.7 1.3-2.7 3.6-2.7 8.9-4.6 2.4-3.6zM-2.2,21.4l1.8-.3 7.6,.7 5,3 1.9,4.8 3.4,5.4 3.6,8.2 -1.7,2.7 -4.6,5 -5.1,.2 -5-.9 -5.1,.4 -5-1.1 -0-26.9 3.2-1.2z"/><path fill="#0088ff" fill-rule="evenodd" d="M93.5,18.7l2.1-.6 5,1.7 5.1-.8 5,.3 2.5-.6 0,27.8 -5,.1 -5.1-1.5 -2.5,.5 -15.1,7.6 -2.5-2.6 -.7-2 -.6-2.7 -.1-5.4 -3-10.9 .9-2.7 2.5-2.8 7.4-2.7 4.1-2.7zM-4.7,26.8l1.8-1.3 2.6-.8 7.5,3 1.6,1.8 .9,3.4 2.6,4.8 .6,2.7 -.6,1 -2.6,1.4 -7.5,2.6 -7.6-2.6 0-15.4 .7-.6zM82.5,56.7l.4-1 2.3,1 .3,3.4 -2.6,.4 -.8-1.1 .4-2.7z"/><path fill="#0055ff" fill-rule="evenodd" d="M96.1,24.1l2-.8 7.5-.9 7.6,.5 -0,20.2 -5,.7 -5.1-1.8 -7.6,2.2 -2.5,.1 -5-2.7 -1.7-3.9 -1-5.4 .1-2.8 1.6-2.7 1-.6 8.1-2.1zM-2.7,29.5l2.4-1.1 2.5,.8 2.6,3 .7,2.7 -.1,2.8 -3.2,2.9 -2.5-.4 -3.5-2.5 -1.6-2.3 .3-3.2 2.4-2.7z"/><path fill="#0022e6" fill-rule="evenodd" d="M98.9,26.8l4.2-.4 2.5,1.6 2.6,.7 2.5-.9 2.5-.2 -0,10.7 -5,1.4 -5.1-.7 -7.6,.5 -2.5-.6 -1.1-1.2 -1-2.7 .9-2.8 2.5-2.7 4.6-2.7z"/></g><use href="#st" fill="none" stroke="#8c8c8c" stroke-width="0.45"/><use href="#bb" fill="#151515"/><use href="#rv" fill="none" stroke="#000" stroke-width="1.3" stroke-linejoin="round"/><use href="#mj" fill="none" stroke="#000" stroke-width="1.0"/><use href="#bd" fill="none" stroke="#000" stroke-width="0.85"/><use href="#cs" fill="none" stroke="#000" stroke-width="0.85"/><use href="#br" fill="none" stroke="#000" stroke-width="0.9"/></svg><rect x="0" y="0" width="107.3" height="116.00" fill="none" stroke="#6e6e6e" stroke-width="0.7"/></g>
<text x="575.70" y="385.80" font-size="6.4" font-weight="bold" stroke="#000" stroke-width="0.22" textLength="60.34" lengthAdjust="spacingAndGlyphs">M23 - GISS-E2-1-G</text>
<g transform="translate(23.40,516.40)"><svg width="107.3" height="115.10" overflow="hidden"><rect x="-1" y="-1" width="109.3" height="118.2" fill="#add8e6"/><use href="#land" fill="#fde4c6"/><g clip-path="url(#cb)"><path fill="#ffffff" fill-rule="evenodd" d="M-2,-2H109.8V118.2H-2Z"/><path fill="#f7e400" fill-rule="evenodd" d="M30.4,-5.8l30.9,0 1.4,.8 1-.8 11.4,0 -1.5,2.7 .3,2.7 1,2.8 0,8.1 -.5,2.7 -1.5,2.8 .8,2.7 4.2,3.7 1.3,1.7 .9,2.7 -.1,2.8 -1.4,2.7 -.2,2.7 1,5.4 -1.5,3.5 -2.8-.7 -2.3,1.7 0,1.8 3.5,4.6 3.4,8.2 .7,10.7 1.2,2.9 3.8,.5 10.1-5.4 2.5,.6 2.6,1.9 7.5,.6 5.1-.4 -0,51.1 -118.6,0 0-70.9 15.1-.6 4-1.9 3.9-5.4 2-8.2 -0-2.7 -2.3-3.3 -1-2.2 -.4-2.7 -3-5.4 .2-2.7 1.7-2.3 2.5-1.8 7.6-2.2 7.2-4.6 0-2.7 -1.7-8.2zM55.2,-.4l-1.1,2.8 1.1,.8 2.5-.2 .5-.6 -.3-2.7 -2.7-.1zM99.8,51.3l3.3-2.2 2.5-.3 7.5,1.5 0,8.3 -2.5,.1 -2.1,.8 -2.9,2.3 -5.1-.1 -2.2-2.2 -1.2-2.8 .7-2.7 2-2.7z"/><path fill="#f5c300" fill-rule="evenodd" d="M40,10.5l2.6-.8 12.6-.4 2.2,1.2 2.8,4.4 5.1,3.4 4.4,5.8 1.6,8.2 -1.5,2.7 -4.5,4.1 -5.1,6.9 -2.5,2 -2.5-.7 -.8-1.4 -.9-2.8 .8-5.4 -1.7-1.4 -5-2.4 -5-1.3 -12.7,.1 -2.5-1.2 -5.7-4.7 -4.1-8.1 .7-2.8 1.5-1 7.6-.8 2.5-1.9 2.6-.2 2.5,.9 2.5-.3 2.5-2.1zM33.7,48.6l1.3-1.1 5.1,1.5 2.5-.9 5,1.6 5.1-.3 2.5,.5 2.1,1.4 3,7.3 5-2.9 2.5-.3 2.5,.8 5.1,2.9 1.1,3.1 0,2.7 -.5,2.7 -3,5.5 -.4,2.7 2.8,2.8 2.5,.7 5.1,0 5,2.4 2.7-.5 4.9-2.5 5,4.2 2.5-4.5 5.1-.7 1.2,.8 -.3,2.7 .6,2.8 3.5,2.6 0,35.4 -4.4,0 -3.1-2.7 -2.6,1.1 -.4,1.6 -7.7,0 -1.9-3.1 -2.6,1.1 -1.4,2 -94.4,0 -0-67.4 7.5-1.3 2.8,.7 2.3,1.9 7.5-.4 5.1-.9 5-2.9 5.1,2.7 3.7-5.8z"/><path fill="#f2a500" fill-rule="evenodd" d="M37.5,54l11.3,0 1,2.7 -1.1,5.5 .2,2.7 1.3,.8 2.5,.1 5,3.8 2.6-.7 5-2.9 2.5-2.7 2.5-1 2.6,1.7 .2,.9 -.9,2.7 -5.6,8.2 .3,2.7 3.4,3.2 2.6,1.2 7.5,.1 2.6,1.1 5,3.4 1.6,1.9 -.3,2.7 .8,5.4 -.5,2.7 -1.6,1.9 -5,3.9 -2.6,.6 -2.5-.1 -2.5-1.3 -1-2.2 -1.5-1.5 -2.6-.9 -2.5,.9 -1.8,1.5 -2.5,2.7 -.7,1.6 -2.5-.3 -2.6-1.6 -1.4-2.4 -4-2.8 -1.9-2.7 1.9-2.7 .5-2.7 -2.6-.5 -1.8,.5 -1.9,2.7 -1.4,.9 -2.5-.9 -5.1,.3 -5-2 -2.5,0 -2.5,1.8 -5.1-1.5 -2.5-.1 -2.1-1.2 -.4-1.3 -2.6-1.2 -.5,2.5 -2,2.5 -2.5,1.1 -7.6-3 -5,.9 -1.8,1.2 .9,5.4 -1.6,1.9 -0-39.4 2-3.3 3-1.9 2.5,.1 2.5,1.8 2.6,.7 2.5-.2 5,1.4 2.6-1.1 2.5-.1 7.6,1.2 2.5-.3 5-5.8 2.5-1.2zM102.5,105.7l.6-.5 4.4,.5 -1.6,2.7 -2.8,1.1 -.7-1.1 .1-2.7zM-.5,122l.4,0 -.4,0zM45.9,122l1.7-1.8 7.7,1.8 -9.4,0z"/><path fill="#ff8000" fill-rule="evenodd" d="M65.2,89.4l2.6,0 0,2.7 -2.6-2.7zM75.4,89.4l2.4-1.9 2.6,1.9 -2.6,.8 -2.4-.8z"/><path fill="#00ccff" fill-rule="evenodd" d="M94.3,13.2l1.2-1.1 7.6,2.9 5-.5 2.5,.8 2.5-1.1 0,33.5 -6.6-1.9 -3.4,.4 -5.1,2.5 -5,4.2 -2.3,1.1 -2.8,2.8 -2.5,.4 -3.2-8.6 0-2.8 1-2.7 -.8-8.1 1.3-10.9 1.4-2.7 5.3-7.4 3.9-.8zM.6,32.3l6.6-.2 2.5,.6 2.7,2.3 1.5,2.7 -.8,2.8 -1.1,2.7 -2.1,2.7 -2.7,1.2 -2.5,.7 -10.1,.7 -0-15.8 6-.4z"/><path fill="#0088ff" fill-rule="evenodd" d="M91.7,21.4l3.8-2 2.6,.1 2.5,1 5-.8 7.6,.3 -0,25.3 -5.1-1.6 -5,.3 -5.5,1.9 -4.6,3 -2.5,.6 -2-.9 -1.3-2.7 -.9-5.5 -.4-8.1 1.1-5.5 4.7-5.4zM-5.4,37.7l0-1.5 7.6-.7 5.1,2.2 .6,2.7 -3.2,3.4 -5.1,0 -5,1.2 0-7.3z"/><path fill="#0055ff" fill-rule="evenodd" d="M95.4,24.1l2.6-.8 2.6,.4 5-.9 7.6,.7 -0,19.2 -5.1-1.3 -2.5,.1 -12.6,2.8 -2.5-1.6 -1-2.3 -.3-2.7 .5-8.2 5.7-5.4z"/><path fill="#0022e6" fill-rule="evenodd" d="M102.4,26.8l3.2-.3 5.1,.7 2.5-.3 0,12.7 -5-1.7 -2.6,.1 -7.5,2.1 -2.5-.9 -1.6-1.5 0-5.5 2.1-2.7 2-1.7 4.3-1z"/></g><use href="#st" fill="none" stroke="#8c8c8c" stroke-width="0.45"/><use href="#bb" fill="#151515"/><use href="#rv" fill="none" stroke="#000" stroke-width="1.3" stroke-linejoin="round"/><use href="#mj" fill="none" stroke="#000" stroke-width="1.0"/><use href="#bd" fill="none" stroke="#000" stroke-width="0.85"/><use href="#cs" fill="none" stroke="#000" stroke-width="0.85"/><use href="#br" fill="none" stroke="#000" stroke-width="0.9"/></svg><rect x="0" y="0" width="107.3" height="115.10" fill="none" stroke="#6e6e6e" stroke-width="0.7"/></g>
<text x="23.70" y="512.80" font-size="6.4" font-weight="bold" stroke="#000" stroke-width="0.22" textLength="60.43" lengthAdjust="spacingAndGlyphs">M24 - GISS-E2-1-H</text>
<g transform="translate(133.80,516.40)"><svg width="107.3" height="115.10" overflow="hidden"><rect x="-1" y="-1" width="109.3" height="118.2" fill="#add8e6"/><use href="#land" fill="#fde4c6"/><g clip-path="url(#cb)"><path fill="#ffffff" fill-rule="evenodd" d="M-2,-2H109.8V118.2H-2Z"/><path fill="#f7e400" fill-rule="evenodd" d="M-5.4,-5.8l118.6,0 -0,21.3 -5.1-.5 -5,.8 -2.5,1.9 -5.5,1 -6.4,5.4 -.7,2.7 .5,2.8 -.7,2.7 .1,2.7 1.4,5.4 -2.5,10.9 -3.9,2.6 -2.5,2.6 -5.7,3 -2.4,2.7 -.4,2.7 1.2,10.9 1.2,2.7 2.9,2.7 .9,2.7 1.7,2.8 3.1,.1 2.2-2.9 .8-2.7 .3-8.1 6.1-16.3 4-8.2 1-2.7 .9-5.5 1.6-2.7 3.3-2 2.5,.2 5.1,2.8 2.5-.5 -0,83.8 -1.8,0 -.7-1.1 -2.6-1.5 -1.5,2.6 -111.1,0 -.9-.9 0-126.9zM100.6,112.8l-.4,1.1 .4,2.5 1.6-2.5 -1.6-1.1z"/><path fill="#f5c300" fill-rule="evenodd" d="M-5.4,-5.8l118.6,0 -0,16.5 -7.6,.9 -7.6,1.7 -5-.6 -2.5,1.6 -5.1,5.4 -3.3,12.6 2.9,8.1 -1.4,5.5 -4.3,5.4 -9.1,5.5 -1.4,2.7 -3.4,10.8 .3,2.8 4.9,8.1 .6,8.2 1.6,2.4 2.5-.9 2.6,.1 2.5,1.1 2.5,2 2.5-.1 .7-1.9 6.9-3.1 2.5,0 5.1,2.2 5-1.5 5.1,3.5 2.5,-0 -0,7.1 -1.8,2.7 -3.1,2.7 -2.7,.6 -5-1.5 -2.6,1.1 -2.5,2.5 -5-.7 -5.1-2 -5,.5 -7.6,1.7 -2.5-2.2 -.8-2.7 -1.7-2.3 -5.1,3.7 -10.1-2.8 -2.5,.7 -2.5,1.7 -2.5,.9 -5.1,.4 -5-1.3 -2.6,2.5 -2.5,.7 -2.5-1.7 -2.1-2.5 -2.9-2.2 -2.6,-0 -7.5,3.5 -5.1-2.8 -2.5,.1 -2.5,1 -2.6,.3 -5-.6 -0-108.1zM102.1,45.9l1-1.4 2.5-1.2 2.5,1.2 2.6,3.3 2.5,1.5 -0,18 -1.2,3.1 -1.3,.9 -5.1,.6 -2.5,1.9 -2.5,1.1 -2.6,0 -2.7-1.8 .3-2.7 1.5-2.7 -1.2-8.2 3.4-5.4 1.2-5.5 1.6-2.7zM71.2,116.6l1.6-1 4.7,1 3.3,5.4 -7.9,0 -1.7-5.4zM37,122l.5-.8 .8,.8 -1.3,0z"/><path fill="#f2a500" fill-rule="evenodd" d="M-5.4,-5.8l118.6,0 -0,14.1 -5.1-.4 -7.5,.6 -7.6-2 -5,.4 -1.4,.9 -1.2,3.4 -3.1,4.8 -1.9,7.7 -2.8,5.9 1.3,8.1 -1,5.1 -2.6-.4 -2.5,.8 -2.5,2.7 -1.3,5.4 -6.3,7 -2.5,-0 -2.5-1.4 -5.1-7.5 -2.5-1.3 -5,.7 -3,2.5 -1,5.5 .2,2.7 3.8,7.6 5,2 1.5,1.2 2.5,2.8 1.6,5.4 1.7,2.7 6.6,5.5 1,2.7 0,2.7 -.4,2.7 -1.9,1.7 -2.5,.9 -3.3,.1 -1.7-1 -2.9-4.4 -2.2-1.1 -2.5-.2 -1.9,1.3 -.6,5.8 -1.4-.4 -3.7-5.2 -2.3,2.5 -5.3,1.7 -5-1.6 -7.6-.9 -2.5,.9 -2.5,1.8 -2.5,.6 -1.3-2.5 -3.8-2.1 -2.5,2.4 -2.3-.3 1.2-2.7 .3-2.7 -4.3-3.2 -2.5,1 -2.1,2.2 -.1,2.7 .8,2.7 -.6,2.7 -.5,.2 -0-103.5zM82.9,-1.5l-1.3,1.1 -.1,2.7 1.4,2 2.3-2 -1.2-2.7 -1.1-1.1zM107.5,54l3.2,.3 1.8,2.4 -1.8,3.8 -2.5,.8 -2.6-1.4 -.9-3.2 .9-1.9 1.9-.8z"/><path fill="#ff8000" fill-rule="evenodd" d="M-5.4,-5.8l84.6,0 -1.7,5.4 .4,3.1 1.9,5.1 .1,2.7 -2.7,10.9 -4.4,9.4 -7.6,9.3 -2.5,7.5 -.8,1 -1.7,1 -2.5-.1 -5.1-5.8 -2.5-1.2 -7.6,1 -10.1,7 -2.9-1.9 -7.3-2.7 -.3-5.5 -2.1-4.1 -1.8-1.3 -3.2-1.1 -5.1-6.2 -2.5-2.1 -5-3.4 -2.6-.9 -2.5,.6 -2.5,3.1 0-13.1 1.8-1.4 .9-2.7 -2.7-1.5 0-12.1zM92.9,-.4l2.7-2.2 3.8,2.2 -.8,2.7 -.5,.1 -3.3-.1 -1.7-1.6 -.2-1.1zM-5.4,40.4l.8,2.7 -.8,3.4 0-6.1zM12.5,67.6l2.3-1.7 2.5,1.7 -2.5,3 -.9-.3 -1.4-2.7zM44.6,73.1l1.9,0 1.1,.8 .6,1.9 -.6,1.1 -2.6,0 -1-1.1 .6-2.7zM41.9,81.2l.6-.2 0,1.4 -.6-1.2zM14,83.9l.8-.5 .5,.5 -.5,1 -.8-1z"/><path fill="#f56a00" fill-rule="evenodd" d="M13.8,-5.8l62.4,0 -1.1,5.4 -.3,5.5 .7,5.4 -.6,8.2 -.9,2.7 -1.1,2.3 -2.6,2.2 -2.8,.9 -6.7,5.5 -.6,1 -2.5,1.3 -5-1.4 -2.5,.6 -2.6,1.8 -2.5,.2 -5-1 -3.5,2.9 -.6,2.7 -1,.9 -2.4-3.6 -2.6,1.6 -2.6-.3 -2.5-3 -2.5-4.5 -3.7-1.9 -.7-2.8 2.3-5.4 .6-2.7 -1.4-5.5 -.3-5.4 .4-2.7 1.9-2.7 .7-2.8 -2.3-2.5 -5.1-1.6 -1-1.3z"/><path fill="#fa3e00" fill-rule="evenodd" d="M64,-5.8l9.6,0 -2,10.9 -.9,10.9 -5.5,6.6 -7.5,6.4 -2.6,.6 -2.8-2.8 10.9-24.4 -.1-5.5 .9-2.7z"/></g><use href="#st" fill="none" stroke="#8c8c8c" stroke-width="0.45"/><use href="#bb" fill="#151515"/><use href="#rv" fill="none" stroke="#000" stroke-width="1.3" stroke-linejoin="round"/><use href="#mj" fill="none" stroke="#000" stroke-width="1.0"/><use href="#bd" fill="none" stroke="#000" stroke-width="0.85"/><use href="#cs" fill="none" stroke="#000" stroke-width="0.85"/><use href="#br" fill="none" stroke="#000" stroke-width="0.9"/></svg><rect x="0" y="0" width="107.3" height="115.10" fill="none" stroke="#6e6e6e" stroke-width="0.7"/></g>
<text x="134.10" y="512.80" font-size="6.4" font-weight="bold" stroke="#000" stroke-width="0.22" textLength="82.43" lengthAdjust="spacingAndGlyphs">M25 - HadGEM3-GC31-LL</text>
<g transform="translate(244.20,516.40)"><svg width="107.3" height="115.10" overflow="hidden"><rect x="-1" y="-1" width="109.3" height="118.2" fill="#add8e6"/><use href="#land" fill="#fde4c6"/><g clip-path="url(#cb)"><path fill="#ffffff" fill-rule="evenodd" d="M-2,-2H109.8V118.2H-2Z"/><path fill="#f7e400" fill-rule="evenodd" d="M50.9,-5.8l16.3,0 -.9,2.7 1.2,5.5 -.1,2.7 -2.2,1.9 -5,1 -3.5-5.6 -6-2.8 -.3-2.7 .5-2.7zM-5.4,37.7l0-.7 5,1.8 7.3,1.6 .8,2.7 -3.7,2.8 -4.4,1.8 -5,-0 0-10zM103.6,54l2.1-1.6 2.1,1.6 -2.1,3 -2.6,.6 -.3-.9 .8-2.7zM64.5,103l3.3-1 2.5,.2 2.5,1.2 2.1,2.3 1.6,5.5 .1,2.7 -1.6,5.4 1.1,2.7 -22.7,0 -.3-8.1 3.8-5.5 .6-2.7 2.7-1.5 4.3-1.2z"/><path fill="#00ccff" fill-rule="evenodd" d="M-5.4,-5.8l50.9,0 -.4,5.5 -2.4,8.1 -5.2,1.9 -2.5,2.7 -1.5,6.3 -3.6,4.1 -2.5,1 -7.6-.3 -2.5,.7 -3.2,2.6 -.1,5.5 -1.7,2.2 -10.1,.4 -5.1-.2 -2.5-.7 0-39.8zM91.8,13.2l1.2-1.3 2.6-.3 2.5,1.9 12.6,-0 2.5,.7 0,34.9 -5-1 -5.1,.9 -2.5,3.2 -2.9,12.7 -1.5,2.7 -3.2,2.7 -5,3.1 -5.1,9.1 -7.5,3.6 -1.1,3.2 -.3,2.8 -1.1,1.9 -2.6,.6 -2.5,2.3 -2.5-.1 -2.5-.9 -2.6,.1 -7.5-2.8 -1.7-1.1 -3.4-4.2 -2.5,.7 -2.5,1.9 -2.5,.2 -2.6-1.5 -2.5-.5 -5,3.5 -2.6,.7 -2.5-.6 -5,.3 -2.6-.8 -2.5,.7 -2.5,1.7 -2.5-.1 -2.5-1.7 -5.1,.5 -2.5-.9 -5.1-.4 0-26.4 2.9-.3 .3-2.7 -3.2-2.6 0-9.3 5.1,.1 10.1-1.3 5-10.1 7.6-2.1 5,0 2.6-1.1 1.2-.8 -1-5.5 .6-2.7 1.7-1.4 5,.8 7.6,3.3 2.5,3.3 5.1,.9 5-.3 2.5-.8 4.8-3.1 .7-2.7 -0-2.7 2.1-2.3 5.1-.8 4.8-2.4 2-2.7 .7-2.1 2.5-.5 2.6,2.2 2.5,.9 1.1-.5 2.7-2.7zM12.3,57.5l-1,4.7 1,.3 1.1-3 -1.1-2zM55.2,56.3l0,3.1 2.5,.9 3-.9 1.8-2.7 -4.8-.8 -2.5,.4z"/><path fill="#0088ff" fill-rule="evenodd" d="M-5.4,-5.8l7,0 .6,1.8 2.5-.9 .2-.9 8.1,0 -1,2.7 .3,.8 2.5,1.6 2.4-2.4 .2-2.7 22.9,0 -.3,1.8 -5,3.6 .2,2.8 -.9,2.7 -3.6,5.4 -.4,5.5 -1.8,2.7 -1.1,.7 -5-.8 -7.6,.6 -2.5-.8 -2.2,3 -.9,8.2 -2.8,2.7 -4.2,.6 -7.6-1.8 -0-36.9zM107.6,18.7l3-.8 2.6,.5 -0,27 -10.1,.7 -2.6,1.9 -1.9,3.3 -4.9,13.6 -2.8,2.8 -5.5,3.9 -2.5,4.6 -2.5,2.5 -7.6,2.7 -5.1,.3 -2.5,1.9 -2-2.3 1.1-2.8 .3-2.7 -2-5.4 1.5-2.7 2.7-2.8 .9-2.7 -.7-5.4 .7-8.2 3.5-2.7 2.2-2.7 1.9-3.9 1.1-4.3 -1.1-2.6 -2.5-.9 -.7-1.9 .7-1.3 2.5-.4 .8-1 1.7-.6 1.3-2.2 3.8-2.6 5-.3 7.6-1.9 10.1,.2 2-.8zM20.5,45.9l4.4-.5 .9,.5 -.9,.6 -4.4-.6zM39.9,51.3l.2-.4 .2,.4 -.2,.8 -.2-.8zM-1.2,54l3.4-.5 3.2,.5 1.8,2.7 -1.4,2.7 -1.1,.7 -1.7-.7 -4.4-2.7 .2-2.7zM15.4,70.3l1.9-.4 .5,.4 .3,2.7 -.8,1.7 -2.5,.1 -1.8-1.8 2.4-2.7z"/><path fill="#0055ff" fill-rule="evenodd" d="M-5.4,-5.8l3.2,0 -.7,1.9 -2.5-.6 0-1.3zM-2.2,2.3l1.8-.5 0,1.6 -1.8-1.1zM21.9,13.2l.5-1.4 1.3,1.4 -1.8,0zM1.1,24.1l1.1-.6 2.5,.1 .6,.5 .5,2.7 -1.1,1.9 -2.5,.6 -2-2.5 .9-2.7zM90.8,24.1l17.3-1.1 5-1.4 0,20.2 -3,1.3 -9.6,1.1 -2.5,2.8 -3.6,9.7 -4,6.9 -7.2,4 -5.4,3.8 -2.5,.5 -2.5-.5 -1.2-1.1 .6-10.8 .6-1 2.5-.7 1.4-1.1 .9-2.7 -.5-2.7 .5-2.7 4.9-5.5 1-2.7 2.1-2.7 .5-2.7 -.7-2.3 -1.9-3.2 1.5-2.7 5.8-2.7z"/><path fill="#0022e6" fill-rule="evenodd" d="M101.1,26.8l2-.7 2.5,.1 2.5,1 2.6-.1 2.5-1.6 -.3,12.2 -4.8,3 -5-1.1 -5-3.3 -2.6-.6 -2.5,1.1 -1.3-1.8 1.4-2.8 3-2.7 5-2.7zM85.1,48.6l2.9-1.7 2.5-.3 2.5,1.2 .5,.8 -.2,2.7 -1.9,5.5 -.9,1.7 -2.5,1.9 -2.6,-0 -1.8-.9 -.7-1.2 0-6 2.2-3.7z"/></g><use href="#st" fill="none" stroke="#8c8c8c" stroke-width="0.45"/><use href="#bb" fill="#151515"/><use href="#rv" fill="none" stroke="#000" stroke-width="1.3" stroke-linejoin="round"/><use href="#mj" fill="none" stroke="#000" stroke-width="1.0"/><use href="#bd" fill="none" stroke="#000" stroke-width="0.85"/><use href="#cs" fill="none" stroke="#000" stroke-width="0.85"/><use href="#br" fill="none" stroke="#000" stroke-width="0.9"/></svg><rect x="0" y="0" width="107.3" height="115.10" fill="none" stroke="#6e6e6e" stroke-width="0.7"/></g>
<text x="244.50" y="512.80" font-size="6.4" font-weight="bold" stroke="#000" stroke-width="0.22" textLength="51.52" lengthAdjust="spacingAndGlyphs">M26 - IITM-ESM</text>
<g transform="translate(354.60,516.40)"><svg width="107.3" height="115.10" overflow="hidden"><rect x="-1" y="-1" width="109.3" height="118.2" fill="#add8e6"/><use href="#land" fill="#fde4c6"/><g clip-path="url(#cb)"><path fill="#ffffff" fill-rule="evenodd" d="M-2,-2H109.8V118.2H-2Z"/><path fill="#f7e400" fill-rule="evenodd" d="M-5.4,-5.8l118.6,0 -0,127.8 -118.6,0 0-127.8zM80.4,62l-2.8,2.9 -.6,2.7 .9,2.5 2.5,1.7 2.5-.4 1.2-1.1 .9-2.7 -.5-2.7 -1.6-1.6 -2.5-1.3z"/><path fill="#f5c300" fill-rule="evenodd" d="M-5.4,-5.8l118.6,0 -0,31.3 -5.1-1.4 -2.5,.3 -2.5,1.4 -4.4,6.5 -0,2.7 1.9,2.3 5,.8 2.5-.1 5.1-3.1 -0,87.1 -118.6,0 0-127.8zM50.1,56.4l-.6,.4 1,5.4 1.7,2.7 2.9,.1 1.4-2.8 -1.4-1.3 -2.5-.4 -1.8-1 -.7-3.1zM80.4,59.3l-2.5,.9 -1.9,2 -3.2,8.4 -2.5,2.3 -5-1.9 -2.6-.3 -2.3,2.3 3.5,2.8 3.9,5.8 5,1.4 5.1,.2 10.1-4.3 -0-14.3 -2.6-3.8 -2.5-1.3 -2.5-.2zM95.5,80.5l-2.5,1.8 -2.5,.3 -2.2,1.4 1,2.7 1.2,.5 5,.3 2.5-.6 3.5-5.7 -1-1.2 -2.5-.3 -2.5,.8z"/><path fill="#f2a500" fill-rule="evenodd" d="M-5.4,-5.8l118.6,0 -0,25.2 -2.5,-0 -5.1,.9 -5-1.4 -2.6,.6 -2.5,2.4 -7.5,4.1 -2.6,2.7 -10.1,5.2 -1.3,3.8 -.2,2.7 1.5,3 2.6,.4 2.5-.6 5-2.4 3.5-3.1 4.1-1.7 2.5,1.6 7.6,9 2.5,.1 2.5-2.2 2.6-1.1 2.5,-0 -0,26.4 -5.1,1 -7.5-3.7 -3.1,3.2 -2,1.4 -2.5-.3 -2.4-3.8 -1.1-5.4 -1.5-2.7 -2.6-2.6 -2.5-.9 -5,.5 -2.6,1.1 -5,8.1 -2.5,.8 -3.4-1.6 -1.7-1.9 -2.5-5.5 -2.5-2.2 -2.5-1.1 -5.1-5.8 -2.5-1 -2.5,.1 -2.6,.9 -1.8,2.9 .3,2.7 1.7,2.8 .2,5.4 .9,2.7 5.9,5.4 .4,1.1 5.1,2.2 .8,2.2 5.4,5.4 1.2,2.7 .2,5.5 2.4,5.6 5.1,.1 2.5-1.9 3.4-1.1 4.2-3.7 2.5-.4 2.5,1.4 5.1,4 2.5,.8 2.5,.2 2.5-.5 3.1-1.8 2-1.9 2.5,0 1.6,1.9 6,3.2 -0,26.7 -86.5,0 -4.4-5.4 -2.5-1.5 -5-.3 -2.5,.3 -2.9,1.5 3.5,2.7 2.3,2.7 -15.4,0 -.2-.5 -.3,.5 -4.7,0 0-73 2.5,.2 5.1-2 5,1.5 2.5-2.5 1.4-3 .1-2.8 -1.8-2.7 -4.7-4.4 -2.5,.2 -2.6,2 -5,0 0-41.3zM12.3,5l-2.5,.8 -1.1,2 1.1,1.7 3.3-1.7 -.8-2.8z"/><path fill="#ff8000" fill-rule="evenodd" d="M-5.4,-5.8l3.1,0 -.6,1.5 -2.5,2.5 0-4zM45.9,-5.8l29.7,0 -1.3,2.7 .5,8.2 -.4,2.7 -1.5,1.5 -5.1,.8 -10.1,4.1 -2.5-2.1 -2.5-1.2 -2.6,2.3 -2.5,3.5 -2.5,.1 -2.5,1.9 -5.1,5.7 -1.7,2.4 -.9,5.5 -1.1,2.7 -1.3,1.5 -2.5,1.2 -5.1,1.4 -5-.6 -2.6-1 -6.7-5.2 -2.3-2.7 .5-2.8 1.5-2.7 -1-5.4 .3-2.7 2.7-2.3 2.5-.9 5.1,.6 7.5-1.4 7.6-.5 2.5-1.3 2.6-2.5 1.4-2.6 2-5.5 1.8-2.7 .6-2.7zM102.5,10.5l.6-.9 2.5-.2 1,1.1 .3,2.7 -1.3,1.4 -2.4-1.4 -.7-2.7zM61.7,21.4l1-.6 .8,.6 1.2,2.7 .6,5.5 2.4,4.1 .6,6.7 -.6,.7 -10.1-5.6 -2.9-3.2 -.5-2.7 1.4-2.8 6.1-5.4zM91.4,43.1l1.6-1.3 2.6,3.1 2.4,9.1 1.5,2.7 .4,2.7 -1.6,2.7 -2.7,1.8 -2.6-.4 -4.9-9.5 -2.4-2.7 -.6-2.8 2.2-2.7 4.1-2.7zM67.6,54l2.7,.2 1,2.5 -1,3 -2.5,2.2 -2.5-2.4 -.4-2.8 2.7-2.7zM29.8,59.5l2.6-.9 .8,.9 -.8,2.2 -2.5,2.1 -1.8-1.6 1.7-2.7zM24.7,75.8l2.7-.7 .5,.7 -.5,.5 -2.5,.3 -.2-.8zM39.5,94.8l.7,0 -.2,.6 -.5-.6zM79.3,94.8l3.6-1.6 2,1.6 2.6,5.4 -.1,2.8 -2.9,2.7 -4.1,2 -2.6-.7 -4.5-4 .1-2.8 1.4-2.7 4.5-2.7zM67.5,111.1l.4,0 .4,5.4 -.6,1.9 -1-1.9 .8-5.4z"/></g><use href="#st" fill="none" stroke="#8c8c8c" stroke-width="0.45"/><use href="#bb" fill="#151515"/><use href="#rv" fill="none" stroke="#000" stroke-width="1.3" stroke-linejoin="round"/><use href="#mj" fill="none" stroke="#000" stroke-width="1.0"/><use href="#bd" fill="none" stroke="#000" stroke-width="0.85"/><use href="#cs" fill="none" stroke="#000" stroke-width="0.85"/><use href="#br" fill="none" stroke="#000" stroke-width="0.9"/></svg><rect x="0" y="0" width="107.3" height="115.10" fill="none" stroke="#6e6e6e" stroke-width="0.7"/></g>
<text x="354.90" y="512.80" font-size="6.4" font-weight="bold" stroke="#000" stroke-width="0.22" textLength="56.95" lengthAdjust="spacingAndGlyphs">M27 - INM-CM4-8</text>
<g transform="translate(465.00,516.40)"><svg width="107.3" height="115.10" overflow="hidden"><rect x="-1" y="-1" width="109.3" height="118.2" fill="#add8e6"/><use href="#land" fill="#fde4c6"/><g clip-path="url(#cb)"><path fill="#ffffff" fill-rule="evenodd" d="M-2,-2H109.8V118.2H-2Z"/><path fill="#f7e400" fill-rule="evenodd" d="M-5.4,-5.8l118.6,0 -0,127.8 -118.6,0 0-127.8zM80.4,61l-1.8,1.2 -.7,1.4 -.4,4 -2.5,5.5 .4,.7 2.5,1.3 2.5-.8 4-9.4 -1.5-3.4 -2.5-.5z"/><path fill="#f5c300" fill-rule="evenodd" d="M-5.4,-5.8l118.6,0 -0,31 -2.5-.5 -8-3.3 -4.7-.4 -5-2.5 -2.5,3.4 -2.5,1.8 -2.6-2 -2.5-.4 -2.1,2.8 4.6,13.8 15.2,.2 2.5-2 2.5-.5 2.5,.6 2.6,2.5 2.5,.6 -0,82.7 -118.6,0 0-127.8zM80.4,56.1l-2.5,.9 -5.1,10.6 -2.5,2.7 -2.5,1.9 -7.6,.8 -0,2.8 2.5,1.3 5.1,7.2 2.5,.4 5.1-.8 5-1.8 2.5,.1 1.7-1 -.2-5.4 2.8-10.9 -.3-2.7 -1.5-2.5 -2.5-2.4 -2.5-1.2z"/><path fill="#f2a500" fill-rule="evenodd" d="M-5.4,-5.8l118.6,0 -0,19.8 -5.1-2.3 -2.5,.9 -2.5,2.3 -2.5,.7 -7.6-3.1 -5-.7 -2.6-.9 -2.5,.4 -2.5,1.5 -5.1-.9 -1.5,1.3 .3,5.5 -.7,2.7 .7,2.7 4.5,5.5 .3,5.4 -1,4.1 -1,1.3 1,3.7 2.5,1.6 15.1-3.4 5.1,.8 5-.6 5.1,2.2 2.5,.1 -0,35.5 -2.5,.2 -2.6,2.1 -2.5-.1 -2.5-2.1 -2.5-.5 -7.6,.4 -3-1.8 -1.5-2.7 -0-2.7 1.3-5.5 -0-5.4 -1.8-3.5 -5.9-7.4 -1.5-2.7 -.2-1.6 -2.5,1.3 -2.6,2.4 -1.5,3.3 -.5,5.5 -2.4,5.4 -1.8,2.7 -3.9,1.8 -5-.5 -2.5-1 -1.5-3 -.6-5.4 -2.5-8.2 -.8-5.4 .9-2.7 2.4-2.8 .6-2.7 -1-4.1 -2.6,.2 -1.5,1.2 -3.5,.9 -2.5,1.4 -2.6,6.7 -2.5,2.2 -2.5,0 -2.5,1.1 -1.4,1.3 -1.4,2.7 -.4,2.7 .6,1.2 2.6,.4 2.5-1 2.5,1.1 2.6,3.8 .4,2.7 -.6,2.7 1.5,2.7 1.2,.7 5-.2 3.9,2.2 1.1,2.8 -.5,2.7 .6,2.7 7.5,4.9 2.5,4.6 2.6,1.6 5-.8 12.6,3.8 5.1,.5 5,2.4 5.1-.2 1.4,2.2 1.1,.6 3.5-.6 3.8-5.4 2.8-2.6 -0,32.5 -3.8,0 -2.5-8.1 -1.3-1.3 -2.5-.1 -1,1.4 2.1,2.7 1.2,2.7 .1,2.7 -94.8,0 .4-2.7 -1.4-1.5 -2.5,3 -2,1.2 -3-1 -1.6,1 -6,0 0-75.7 2.5,0 5.1-1.6 2.5,.7 5,2.5 .9-4.7 1.2-2.8 .1-2.7 -2.2-2.8 -5-.7 -5.1-2.6 -2.5,.3 -2.5-.8 0-36.9zM12.3,47.6l-2.1,1 .8,2.7 1.3,1.7 4.4-1.7 -4.4-3.7zM17.3,61.9l-.5,.3 3.1,-0 -2.6-.3zM29.9,29.4l-2.5,1 -1.2,1.9 1.2,1.6 2.5-.1 1.4-1.5 -1.4-2.9zM9.7,64.8l-.4,.1 .4,.7 1.7-.7 -1.7-.1zM111.5,86.7l1.7-1.5 -0,4 -1.7-2.5z"/><path fill="#ff8000" fill-rule="evenodd" d="M39,-5.8l35,0 1.7,2.7 0,5.5 -.4,.9 -5,2.8 -1.3,1.7 -3,10.9 -.8,1.2 -2.5,1.5 2.5,1.7 1.7,3.7 -1.7,3 -5-3.8 -1.1-1.9 -.1-2.7 -1.5-2.7 -9.9-9 -4-1.9 -.8-2.7 -.3-7.5 -3.5-3.4zM26.5,10.5l.9-2.2 7.6,0 2.8,2.2 3.4,5.4 .5,2.8 -1.1,2.7 -4.1,2.7 -1.5,1.7 -5.1-1.7 -2.5,.8 -1.4,1.9 -3.7,2.7 -2.5,.7 -4.9-3.4 5.6-5.4 1.5-5.5 2.8-2.7 1.7-2.7zM67.2,35l.5-1.4 0,4.6 -.6-.5 .1-2.7zM58.4,45.9l4.4-.7 1.1,.7 -0,2.7 -1.1,1.6 -2.6-.2 -2.4-1.4 .6-2.7zM89.2,48.6l1.3-.9 5.1-1.3 4.5,2.2 1.1,2.7 -0,2.7 -.6,1.9 -2.8,3.6 .9,5.4 -.6,1.9 -2.5-.1 -1-1.8 -.4-2.7 -4.4-5.4 -1.1-2.8 -.2-2.7 .7-2.7zM-2.5,54l2.9,0 4.7,2.7 -2.9,1.3 -2.5-.9 -2.2-3.1zM65.1,54l2.6,5.4 -.2,2.8 -1.6,2.7 -3.2,.7 -1.1-.7 -.4-2.7 1-5.5 .5-1.5 2.4-1.2zM42.4,83.9l.4,0 -.4,0zM59.4,94.8l3.3-2.2 5,1.9 2.6-.1 2.5-1.1 2.5,.4 1.2,1.1 .6,2.7 0,5.5 -1.8,2.2 -10.1,2 -1.7-4.2 -4.1-5.5 0-2.7zM-5.4,97.5l2.5-2.4 2.5,2.1 1,3 -1,.8 -2.5-.5 -2.5,.6 0-3.6zM111.9,105.7l1.3-1 0,3 -1.3-2zM61.9,111.1l.8-1.7 1.2,1.7 -1.2,.8 -.8-.8zM42.2,116.6l.4-.4 2.6,.4 -.1,1 -2.5,1.4 -.4-2.4z"/><path fill="#f56a00" fill-rule="evenodd" d="M57.6,5.1l1.6,2.7 -1.5,1.1 -.9-1.1 .8-2.7z"/></g><use href="#st" fill="none" stroke="#8c8c8c" stroke-width="0.45"/><use href="#bb" fill="#151515"/><use href="#rv" fill="none" stroke="#000" stroke-width="1.3" stroke-linejoin="round"/><use href="#mj" fill="none" stroke="#000" stroke-width="1.0"/><use href="#bd" fill="none" stroke="#000" stroke-width="0.85"/><use href="#cs" fill="none" stroke="#000" stroke-width="0.85"/><use href="#br" fill="none" stroke="#000" stroke-width="0.9"/></svg><rect x="0" y="0" width="107.3" height="115.10" fill="none" stroke="#6e6e6e" stroke-width="0.7"/></g>
<text x="465.30" y="512.80" font-size="6.4" font-weight="bold" stroke="#000" stroke-width="0.22" textLength="56.95" lengthAdjust="spacingAndGlyphs">M28 - INM-CM5-0</text>
<g transform="translate(575.40,516.40)"><svg width="107.3" height="115.10" overflow="hidden"><rect x="-1" y="-1" width="109.3" height="118.2" fill="#add8e6"/><use href="#land" fill="#fde4c6"/><g clip-path="url(#cb)"><path fill="#ffffff" fill-rule="evenodd" d="M-2,-2H109.8V118.2H-2Z"/><path fill="#f7e400" fill-rule="evenodd" d="M-5.4,-5.8l118.6,0 -0,22.2 -7.6-.8 -7.6,.1 -5-1.3 -2.5,.3 -5.1,8.3 -5.2,3.8 -2.5,2.8 -.7,2.7 .5,8.1 1.3,8.2 .3,10.9 -2.5,13.6 1.1,5.4 2.7,4.4 2.5,.4 5.1-2.4 1-2.4 -.3-2.7 -2.9-5.5 -.2-2.7 0-2.7 1.1-2.7 6.3-2.4 2.5-1.8 4.2-1.2 .9-9.5 2.5-4.5 2.5-.9 2.5,.4 2.6,1.7 2.5,.7 -0,12.1 -2.5,1.7 -2.6,.8 -7.5-1.1 -2.3,12.1 2.3,7.9 2.5,2.3 1.8,.7 -2.5,5.5 .7,.9 5,.2 5.1-3.2 -0,37.4 -118.6,0 0-127.8zM12.3,96.8l-1.6,.8 -1.5,2.7 .6,.4 5-1.5 .7-1.6 -.7-1.5 -2.5,.7zM17.3,102.5l0,1.8 1.3,1.4 1.2,.1 0-2 -.7-.8 -1.8-.5zM55.2,101.8l-1.6,1.2 .3,2.7 1.3,1.2 2.5-1.2 -.7-2.7 -1.8-1.2zM93,80.8l-1.5,.4 1.5,2 2-2 -2-.4z"/><path fill="#f5c300" fill-rule="evenodd" d="M-5.4,-5.8l118.6,0 -0,17.7 -2.5,.8 -2.6,-0 -7.5-.8 -2.6,.4 -7.5-.5 -2.5,1.7 -2.6,5.6 -9.2,7.7 -1.9,2.8 -.8,2.7 .4,5.4 -.8,2.7 -.5,5.5 -1,2.7 .3,2.7 1.8,5.5 -.7,5.4 -0,8.1 1.6,10.9 .2,5.5 1.8,2.7 -1.5,2.7 -7.3,2 -5.1-1.4 -2.5-.2 -5-2.7 -2.6,.9 -1.3,1.4 -1.2,2.8 -2.5-1.4 -5.1-4.5 -2.5-.2 -5,.8 -2.6-.2 -5-1.6 -3.3,1.6 .6,2.7 -.2,2.7 -2.1,3 -2.6-2.5 -.6-3.2 -1.9-2.4 -2.5-.1 -7.6,2.2 -5-1.5 -7.6,2.9 0-99zM2.2,32.7l-1.9,2.2 1.9,1.8 2.5,.3 1.4-2.1 -1.4-1.8 -2.5-.4zM55.2,42.8l-10.1,5.5 -3.3,3 -1.2,2.7 2,2.1 5,3 7.6,7.8 2.5,.4 2.5-.6 2-1.8 2.4-8.2 .1-2.7 -3.1-2.7 -1.4-5.5 -1.8-2.7 -.7-.7 -2.5,.4zM79.7,92.1l3.2-1 .6,1 -.6,.5 -3.2-.5zM112.5,111.1l.6-1.4 0,4.7 -.6-3.3zM50.2,113.9l2.4-.5 .3,.5 -.3,1 -2.4-1zM43.7,116.6l1.4-2.2 4.1,2.2 -4.1,1 -1.4-1z"/><path fill="#f2a500" fill-rule="evenodd" d="M-5.4,-5.8l118.6,0 -0,14 -7.6,.7 -5-.5 -7.6,.5 -5-.4 -2.1,2 -1.6,5.5 -1.4,2.3 -7.6,6 -2.3,2.5 -2.8,5.5 -2.4,6.7 -2.6,1.1 -.8-2.4 -3-2.7 -1.6-2.7 -.8-2.7 -1.3-1.4 -2.5,.2 -2.6,2.6 -5,2.8 -3.2,3.9 -.4,2.7 .6,2.8 -2,2.7 -6.8,5.4 -1.3,2.7 2.9,5.5 4.8,2.7 5.4,4.5 2.5,4.4 5.7,2 2.7,5.4 .5,5.4 -1.3,.4 -5.1-1 -3.1-2.1 -1.9-4 -3.4,4 -1.7,1 -2.5-.7 -2.5-5.1 -2.5,1.3 -2.6,2.8 -2.5,1.3 -2.5-.1 -5,1.1 -2.6-.7 -2.5,.9 -2.5-.2 -5.1-3.5 -5,3.2 -5.1,1.7 -.7-.3 -1.8-4.5 -2.5-1.7 -0-33.3 2.5,2.6 2.5,1.4 5.1-1.4 2.5,.3 6.6-4.1 .5-2.8 -1.5-2.7 -.7-5.4 -2.1-2.7 -.3-2.8 .9-2.7 -0-2.7 -.9-1.6 -2.5-.9 -5,3.8 -7.6-1.7 -0-26.8zM37.5,29.2l0,.7 2.8-.4 -.3-.6 -2.5,.3zM63.5,75.8l1.8-1.5 2.5,.1 2.5,1.4 0,3.7 -2.5,2.3 -2.5-.8 -1.8-2.5 0-2.7z"/><path fill="#ff8000" fill-rule="evenodd" d="M21.9,-3.1l5.6-1.6 1.2-1.1 48,-0 1.6,2.7 -1.2,5.4 .9,2.8 1.9,2.7 -.2,2.7 -3.3,8.2 -6.1,5.5 -2.5-.7 -2.5-1.7 -.9,2.3 -1.6,1.3 -7.6-2.6 -10.1-.3 -2.5-.7 -2.5,.2 -2.6,1 -2.5-.5 -1.7-3.8 -3.3-.9 -2.5-2.7 -5.1-2.5 -2.3-7.5 .2-2.8 1.6-5.4zM92.3,-.4l.7-.6 .4,.6 -.4,2.6 -.7-2.6zM110.9,2.3l2.2-1.6 0,3.9 -2.2-2.3zM66.8,26.8l1-1.5 -0,2.4 -1-.9zM-5.4,59.5l0-1 5-.3 1.2,1.3 -.5,2.7 -5.7,1.9 0-4.6zM28.2,67.6l1.7-1.4 2.5,.3 2.8,1.1 -2.8,2 -2.5-.3 -1.7-1.7z"/><path fill="#f56a00" fill-rule="evenodd" d="M45.6,-5.8l7.7,0 -3.2,2.3 -2.5-.9 -2-1.4zM59.6,-5.8l13.1,0 .3,5.4 -1.3,5.5 2.2,5.4 -1.2,2.7 -2.4,1.7 -2.5-.4 -7.5-3.3 -6.8-6.1 1.1-2.7 3.1-3.3 1.3-2.2 .6-2.7z"/><path fill="#fa3e00" fill-rule="evenodd" d="M62.3,-5.8l6.1,0 -.6,1.2 -2.6,2.1 -2.5-.9 -.4-2.4z"/><path fill="#00ccff" fill-rule="evenodd" d="M90.3,21.4l.2-.7 2.5-2 2.5,1.2 10.1-1 7.6,.8 -0,20.5 -10.1-2.1 -2.5,.3 -2.6,1.3 -1.4,3.5 0,5.4 -1.1,3.8 -1.1,1.6 -3.9,2.4 -2.5-.2 -1.5-2.2 -.8-5.4 -2.8-2.4 .4-3 -.8-2.8 0-2.7 -1.3-2.7 -.5-2.7 1.3-2.7 .9-.9 5.1-1.9 1.7-2.7 .6-2.7z"/><path fill="#0088ff" fill-rule="evenodd" d="M100.5,24.1l5.1-1.2 5,1.1 2.6,-0 -0,8.4 -2.6,2.3 -2.5,.7 -2.5-.8 -5.1-3.9 -5,.7 -2.8-1.9 2.8-3.3 5-2.1z"/></g><use href="#st" fill="none" stroke="#8c8c8c" stroke-width="0.45"/><use href="#bb" fill="#151515"/><use href="#rv" fill="none" stroke="#000" stroke-width="1.3" stroke-linejoin="round"/><use href="#mj" fill="none" stroke="#000" stroke-width="1.0"/><use href="#bd" fill="none" stroke="#000" stroke-width="0.85"/><use href="#cs" fill="none" stroke="#000" stroke-width="0.85"/><use href="#br" fill="none" stroke="#000" stroke-width="0.9"/></svg><rect x="0" y="0" width="107.3" height="115.10" fill="none" stroke="#6e6e6e" stroke-width="0.7"/></g>
<text x="575.70" y="512.80" font-size="6.4" font-weight="bold" stroke="#000" stroke-width="0.22" textLength="67.24" lengthAdjust="spacingAndGlyphs">M29 - IPSL-CM6A-LR</text>
<g transform="translate(23.40,643.60)"><svg width="107.3" height="114.90" overflow="hidden"><rect x="-1" y="-1" width="109.3" height="118.2" fill="#add8e6"/><use href="#land" fill="#fde4c6"/><g clip-path="url(#cb)"><path fill="#ffffff" fill-rule="evenodd" d="M-2,-2H109.8V118.2H-2Z"/><path fill="#f7e400" fill-rule="evenodd" d="M-5.4,-5.8l118.6,0 -0,127.8 -118.6,0 0-127.8zM80.4,50.5l-2.3,.8 -3.4,5.5 -.1,2.7 .8,.1 2,2.6 -2.3,2.7 -.8,2.7 -1.5,2.8 -.5,8.1 -2.1,5.5 1.6,2.7 1,.4 10.8-3.1 1.2-2.8 -.3-10.8 1.5-5.5 -1.6-5.4 .4-5.5 -1-2.7 -.9-.8 -2.5,-0zM95.5,37.5l2.5,3.1 2.2-2.9 -2.2-2.1 -2.5,1.9zM105.6,45.6l0,.8 2.5,.8 1.5-1.3 -1.5-1.3 -2.5,1z"/><path fill="#f5c300" fill-rule="evenodd" d="M-5.4,-5.8l118.6,0 -0,23.9 -5.1,4 -2.5,.3 -7.6-2.4 -2.5,.2 -7.5,3 -2.2,11.8 -2.4,8.2 -8.1,4.1 -5,7.7 -2.5,2.3 -7.6,.1 -2.5,1.4 -1.2,3.4 3.7,5.9 5,2.2 -1,5.5 1,1 1.9,4.4 .7,6.7 .8,1.5 1.7,1 5,.9 7.6-1 2.5,.2 10.1,4.5 2.5-.8 1.6-2.1 .2-2.7 .8-.8 2.5,1.9 7.6,2.6 2.5,1.4 -0,27.5 -118.6,0 0-127.8zM100.6,107.8l-.4,.6 .4,.4 2.5,.2 2.7-.6 -2.7-.8 -2.5,.2zM90.1,45.9l2.9-1.1 1.8,1.1 5.8,11 2.5,3 5.1-.4 2.5-1.3 2.5-3.2 -0,22.6 -5.1,2.4 -2.5,.5 -5-.4 -5.1,.9 -2.5-.9 -4.9-4.3 -.1-4.8 1.4-3.3 .4-2.8 -1.9-8.1 0-2.7 .8-5.5 1.4-2.7z"/><path fill="#f2a500" fill-rule="evenodd" d="M-5.4,-5.8l118.6,0 -0,19.9 -2.5,1.3 -2.6-1.2 -.8-1 -.1-2.7 -1.6-.6 -2.5,1.8 -2.5-.2 -2.6-1.1 -2.5,.4 -2.5,1.3 -5-3.6 -2.6,.3 -1.5,7.2 -2.6,5.4 .8,5.4 -.4,5.5 -4.7,8.1 -4.2,3.3 -2.9,4.9 -2.1,1.5 -2.6,.2 -7.5-.8 -2.5,1 -5.1,5.2 -5,2 -2.6-.2 -2.5-1.2 -2,3.2 1.5,2.7 3,1.8 4.3,3.6 .2,2.7 .6,.9 2.2,1.9 5.5,2.7 4.9,6 2.7,2.1 .9,2.8 .5,5.4 .9,1.3 2.6,.7 5,.2 2.5,.9 5.1-.9 2.5,.4 2.5,2.1 1.3,3.5 -.3,2.7 -1,2.4 -2.5,3.2 -2.5-.1 -2.5-2 -2.6-.3 -5,2.2 -5.1-.2 -2.5-.9 -5-4.8 -5.1-7 -5.5-6.1 -4.6-3.1 -2.5-.1 -1.9,3.2 .3,5.4 -.9,1.6 -2-1.6 -3.1-1.3 -7.5-.9 -12.6,.6 -5.1,2.7 -2.5,.2 -2.5,1.1 -.7-2.4 -1.9-1.7 -.3-1 -2.2-2 -2.5-1.1 -0-16.9 3.2-1.8 -1.5-2.7 -1.7-1.1 -0-72.3zM4.7,66.7l-1.4,1 1.4,2.7 2.5-.2 3.4-2.5 -.9-.9 -2.5-.7 -2.5,.6zM19.8,78.3l0,.4 2.7-.2 -.2-.7 -2.5,.5zM92.6,54l.6,0 1.4,2.7 -1.6,1.1 -.8-1.1 .4-2.7zM105.4,67.6l5.2-.6 2.6-1.6 -0,5.5 -5.1,.5 -2.5-.6 -.2-3.2zM-1.1,100.3l.7-2 2.3,2 -2.3,1.4 -.7-1.4zM7.1,113.9l.2,.5 -.2-.5z"/><path fill="#ff8000" fill-rule="evenodd" d="M-5.4,-5.8l83.1,0 1,2.7 .1,2.7 -1.4,5.5 .1,2.7 .9,2.7 .3,2.7 -2,8.2 .4,5.4 -.5,2.8 -1.3,1.6 -5,2.7 -2.5,3.8 -2.6,7.1 -2.5,1 -5-1.4 -5.1,.4 -2.5-.6 -2.5-2.8 -2.5-1.1 -2.6,1.7 -5,1.5 -4.8,5.1 -.2,2.7 .6,2.7 -.7,2.8 -7.5,7.1 -2.5-.3 -2.3-1.4 -2.8-3.7 -5-3.7 -2.6,2 -2.5,3.4 -2.5,1 -2.5-.5 -5.1,1.9 -1.1-.4 -1.4-.7 0-67.3zM-5.4,75.8l0-.4 1.2,.4 1.3,2.7 -.6,2.7 -1.9,2.4 0-7.8zM46.7,78.5l.9-.7 .8,.7 -.8,2.3 -.9-2.3zM50.9,83.9l1.8-1.3 2.5,.4 .7,.9 -.7,3.3 -2.5-.1 -1.8-3.2z"/><path fill="#f56a00" fill-rule="evenodd" d="M-5.4,-5.8l79.6,0 .8,5.4 -1.2,5.5 1.4,8.1 -1,5.5 -3,5.4 -4.3,2.7 -1.7,2.1 -.6,3.4 -1.9,2.3 -7.5,4.4 -2.6,.9 -2.5-1 -2.5-2.1 -2.5-.4 -10.1,1.3 -2.6-.3 -5-1.7 -5,.3 -2.6-1 -2.5-2.8 -2.5,-0 -2.5,1.4 -2.6-.1 -2.1-1.2 -2.9-.7 -2.5,.3 -5.1,3.9 -2.5,.7 0-42.3zM9.1,48.6l.7-.7 0,.7 -.7,0z"/><path fill="#fa3e00" fill-rule="evenodd" d="M-5.4,-5.8l1.4,0 -1.4,2.1 0-2.1zM14.3,-3.1l.5-1.7 2.7,4.4 -2.7,3 -1.4-3 .9-2.7zM22.3,-5.8l48.4,0 -.7,8.2 2.2,13.6 -1.1,2.7 -3.4,3.8 -4.1,1.6 -3.4,2.2 -5.1,0 -.5,.5 -.3,2.8 .9,2.7 -2.6,2.1 -1.3-2.1 -1.2-.9 -2.5-.4 -5.1,2.2 -5-1.2 -5.1,.1 -2.5-.8 -2.5-.2 -2.5,.6 -2.6-.3 -3.3-4.6 -6.6-2.7 -1.3-2.7 1.2-5.4 2.5-6.6 2.5,.1 2.5-.6 1.2-1.1 .8-2.7 -1.3-2.7 .4-2.8 2.5-2.7 -1.1-2.7zM42.5,3.2l-.5,1.9 .5,.5 2.5-.4 -2.5-2z"/><path fill="#e31a00" fill-rule="evenodd" d="M53.7,-3.1l2.5-2.7 9.5,-0 -1.1,8.1 2.6,5.5 1.9,8.1 -1.8,2.8 -7.1,2.4 -2.5-.2 -3-2.2 -2.5-8.2 -.1-2.7 2-5.5 -1.2-2.7 .8-2.7zM33.2,7.8l1.7-1.4 2.6,.9 .4,3.2 -.4,.6 -2.6,.3 -1.4-.9 -.3-2.7zM29.5,21.4l5.5-.7 2.5,.5 -0,1.8 -2.5,.6 -2.6-2.1 -2.5,.5 -.4-.6zM27.1,24.1l.3-.5 .7,.5 -1,0z"/></g><use href="#st" fill="none" stroke="#8c8c8c" stroke-width="0.45"/><use href="#bb" fill="#151515"/><use href="#rv" fill="none" stroke="#000" stroke-width="1.3" stroke-linejoin="round"/><use href="#mj" fill="none" stroke="#000" stroke-width="1.0"/><use href="#bd" fill="none" stroke="#000" stroke-width="0.85"/><use href="#cs" fill="none" stroke="#000" stroke-width="0.85"/><use href="#br" fill="none" stroke="#000" stroke-width="0.9"/></svg><rect x="0" y="0" width="107.3" height="114.90" fill="none" stroke="#6e6e6e" stroke-width="0.7"/></g>
<text x="23.70" y="640.00" font-size="6.4" font-weight="bold" stroke="#000" stroke-width="0.22" textLength="58.53" lengthAdjust="spacingAndGlyphs">M30 - KACE-1-0-G</text>
<g transform="translate(133.80,643.60)"><svg width="107.3" height="114.90" overflow="hidden"><rect x="-1" y="-1" width="109.3" height="118.2" fill="#add8e6"/><use href="#land" fill="#fde4c6"/><g clip-path="url(#cb)"><path fill="#ffffff" fill-rule="evenodd" d="M-2,-2H109.8V118.2H-2Z"/><path fill="#f7e400" fill-rule="evenodd" d="M-5.4,-5.8l98.7,0 2.2,3 2.5,2.3 .7-2.6 -.3-2.7 14.8,0 -0,17.5 -2.5,3.8 -5.1-.3 -5-3.7 -2.6-2.7 -2.5-.5 -5,2 -5.1,2.8 -2.5,2.4 -10.1,4 -2.5,.4 -2.3,1.5 .6,2.7 -.5,2.7 -2.9,4.8 -2.5,1.5 -2.5,.1 -2.5,1.1 -5.3,6.1 -4.8,4 -3.3,1.5 -.4,5.4 -1.6,2.7 .6,2.8 -.3,2.7 2.1,5.4 -2.2,2.4 -2.5,1.5 -2.5,.5 -2.5-.5 -2.6,.7 -2.5,1.7 -5-2.1 -1.3-1.5 -1.2-.4 -5.1,1.2 -2.5-.8 -2.5-2.1 -5.1,4.4 -12.6,.2 -0-75.9zM58.5,48.6l9.3-1.5 2.5,1.7 2.5,4.6 5.1,5.4 2.5-1 2.5-2.6 5.1-.7 7.6,-0 .7-.5 1.5-2.7 3.5-2.7 1.8-.5 2.5,1.2 5.1,.7 1.7,1.3 -.2,2.7 -1.5,1.6 -2.5,1.8 -5.1-1 -1.5,.4 -1,.4 -1.2,2.3 1.8,5.4 2.2,2.7 2.2,.8 7.6-1.8 0,19.8 -5-1.3 -10.1,.3 -3,1.3 -2,5.4 -2.6,3.1 -2.5,.5 -5.1-2.3 -4.1-4 -3.4-7.4 -2.6-2.2 -5.5-1.3 -4.5-5.3 -4.7-2.8 -2.6-2.8 -.3-2.7 .8-2.7 -.1-2.7 -1.6-5.5 .3-2.7 .6-1 3.3-1.7z"/><path fill="#f5c300" fill-rule="evenodd" d="M-5.4,-5.8l93.5,0 -.4,5.4 1.1,2.8 .2,2.7 -2.2,2.7 -3.9,3.2 -10.1,3.3 -5,.8 -2.6,1.8 -7.1,9.9 -1,2.8 -1.9,1.6 -5.1,2.7 -1.1,1.1 -1.2,2.7 -2.7,2.6 -5.1,2.2 -2.1,3.4 -.6,2.7 -2.3,2.1 -2.6,.2 -.8,3.1 1,5.5 -2.7,2.2 -2.5,.1 -2.5-3 -2.5-.1 -2.6,3.1 -3.4-2.3 -4.1-.9 -2.6,.4 -5,3.4 -2.5,.9 -5.1,.6 -2.5-.3 0-16.8 5,.2 2.6,2 2.5,.2 4.4-3.3 .6-2.7 -.8-2.8 -4-2.7 -10.3-.6 0-42.9zM60.4,54l3.5,0 -1.2,.8 -2.3-.8zM85.8,59.5l2.2-1.3 2.5-.5 2.5,.6 2.6,2.4 4.1,7 3.4,2.8 2.5,.7 7.6-1.9 0,13.8 -5-.7 -10.1,.1 -5.1,.3 -5,1.6 -2.5,0 -2.6-1.6 -.7-1.5 0-2.8 .9-2.7 .6-10.9 .4-2.7 1.7-2.7zM66.9,67.6l.8-.7 3.7,.7 -1.1,2.1 -2.6,.8 -.8-2.9z"/><path fill="#f2a500" fill-rule="evenodd" d="M-5.4,-5.8l59.8,0 .8,1.5 2.5,1.5 1.8-3 14.3,0 3,2.7 .8,2.7 -.6,5.5 -1.8,2.7 -4.9,3.2 -7.6,2.4 -7.5-1.6 -5.1,1.2 -2.6,3 -.9,2.7 .2,5.4 -1.2,2.7 -8.1,5.3 -6.8,11.1 -3.3,3.8 -2.5,.5 -2.5-1.8 -5.1-.4 -2.5-1.9 -.8-5.7 -1.7-2.6 -2.6-1.8 -2.5-1.1 -2.5-.3 -10.1,.9 0-38.6zM89.6,62.2l.9-.4 2.5,2.1 5.1,7.6 5,2.6 2.6,.4 5-2.2 2.5-.5 0,7.8 -17.6-.9 -5.1-2.6 -2.9-3 -.7-2.7 1.1-4.9 1.6-3.3z"/><path fill="#ff8000" fill-rule="evenodd" d="M43.7,2.3l1.4-.7 .4,.7 -1.8,0zM8,18.7l1.8-.7 -0,3.4 -1.8-2.7z"/><path fill="#00ccff" fill-rule="evenodd" d="M87.3,15.9l3.2-2 2.5-.5 2.5,.1 5.1,5.5 2.5,1.5 5,.9 5.1,.2 -0,23.6 -5.1,.7 -5-1.5 -2.5,.1 -7.6,4 -2.5,2.2 -2.6,.4 -2.5-.2 -4.1-2.4 -1.9-2.7 -8.6-8.1 -.3-5.5 1.7-5.4 1.6-2.7 9.1-4.4 4.4-3.8zM61.2,83.9l1.5-1.5 5.1,.4 2.5,1.4 2.6,2.4 1.7,5.5 -1.5,5.4 -.6,5.4 .3,2.8 2.6,.1 5-4.2 5-1 2.6,.5 2.5,1.8 2.5,.8 12.6,.4 4.2,1.6 3.4,.5 0,15.8 -118.6,-0 0-28.2 2.5-.7 2.6-2.4 2.5-1.1 10.1,.1 2.5,.9 2.5,-0 2.6-.9 15.1,.1 2.5,.3 7.6,2.9 2.5,.5 7.6-3.5 2.8-.7 2.2-2.6 1-2.8z"/><path fill="#0088ff" fill-rule="evenodd" d="M78.4,26.8l4.6-2.3 2.5,1 1.4,1.3 .6,2.7 -2,6.4 -2.5,.7 -2.6-.4 -2.5-1 -2.5-2.5 .4-3.2 2.6-2.7zM99.6,26.8l3.5-2.1 5,1.2 5.1-.1 -0,15.6 -5.1,.9 -10-2.8 -1.5-1.8 2-5.5 1-5.4zM65.1,89.4l1.1,0 1.1,2.7 -.9,5.5 -7.2,8.1 -4.3,2.7 -1.3,2.8 1.8,5.4 .2,5.4 -61,0 0-24.9 2.5,-0 5.1-2.7 2.5-.3 2.5,.4 5.1,2.5 2.5,0 5.1-.9 2.5-.7 2.5-1.6 2.5-.4 5.1,4 2.5,1.2 2.5,.1 5.1-1.7 5,1.1 2.5-.2 10.1-4.3 4.9-4.2zM77.5,113.9l.5,0 .8,2.7 -1,1.2 -1-1.2 .7-2.7z"/><path fill="#0055ff" fill-rule="evenodd" d="M104.4,32.3l1.3-.5 2.5,.3 2.5,1.7 .6,1.2 -1.1,2.7 -2,1.1 -2.5-.2 -1.9-.9 -1.6-2.7 .9-1.8 1.3-.9zM2.9,100.3l1.8-.9 2.6-.1 2.5,1.2 4.8,5.2 2.8,.3 2.5-.5 5-4.2 2.5-.1 10.1,3 2.6,-0 2.5-2.4 2.5-.6 2.5,.7 2.5,1.1 .4,2.7 -1.2,2.8 .2,2.7 3.2,7.7 .3,3.2 -58.4,-0 0-21.5 7.6,.2 .7-.5z"/><path fill="#0022e6" fill-rule="evenodd" d="M-5.4,105.7l0-.7 1.6,.7 -0,2.7 -1.6,3.2 0-5.9z"/></g><use href="#st" fill="none" stroke="#8c8c8c" stroke-width="0.45"/><use href="#bb" fill="#151515"/><use href="#rv" fill="none" stroke="#000" stroke-width="1.3" stroke-linejoin="round"/><use href="#mj" fill="none" stroke="#000" stroke-width="1.0"/><use href="#bd" fill="none" stroke="#000" stroke-width="0.85"/><use href="#cs" fill="none" stroke="#000" stroke-width="0.85"/><use href="#br" fill="none" stroke="#000" stroke-width="0.9"/></svg><rect x="0" y="0" width="107.3" height="114.90" fill="none" stroke="#6e6e6e" stroke-width="0.7"/></g>
<text x="134.10" y="640.00" font-size="6.4" font-weight="bold" stroke="#000" stroke-width="0.22" textLength="56.43" lengthAdjust="spacingAndGlyphs">M31 - KIOST-ESM</text>
<g transform="translate(244.20,643.60)"><svg width="107.3" height="114.90" overflow="hidden"><rect x="-1" y="-1" width="109.3" height="118.2" fill="#add8e6"/><use href="#land" fill="#fde4c6"/><g clip-path="url(#cb)"><path fill="#ffffff" fill-rule="evenodd" d="M-2,-2H109.8V118.2H-2Z"/><path fill="#f7e400" fill-rule="evenodd" d="M51,-5.8l26.8,0 -.4,5.4 .5,8.2 2.5,4 5,1.9 1.5,2.3 0,2.7 -1.5,3.3 -5,3 -3.2,4.6 -.8,2.7 0,10.9 -1.1,1.7 -5,.3 -5.1,2.7 -2.5-.5 -2.5-2.2 -7.6-1.4 -2.5,.6 -7.6,6 -.7,.9 -1,5.5 -0,2.7 .9,2.7 -.4,5.4 3.7,2.9 2.6,1.2 2.5-.9 2.5,.7 2.2,4.3 0,5.4 2.9,2.2 1.5,.5 6,.5 2.1,2.3 .2,2.7 2.2,2.7 -.6,2.7 3.2,2.7 3,1.1 2.5-.9 2.6-5 5,2.2 5.1-1.6 2.5,.4 7.5-1.1 5.1,.5 7.6-.7 -0,29.6 -118.6,0 -0-67.7 1.5-3 -1.5-1.7 -0-27 5-.9 7.6,.2 2.5-1.1 2.5-.1 5.1,3.9 1.6,2.2 1.4,5.5 2,3.8 2.6,.5 5.4-4.3 2-2.7 .3-2.8 -2.7-4 -2.5-2 -2.5,-0 -2.6,1.3 -1.6-.7 -1.6-2.7 1-2.7 9.8-10.6 2.5,.1 3.3,5 5.2,5.5 1.4,2.7 -.6,8.1 1.5,2.8 3.3,2.7 1.1,2 2.5,.5 2.5-1.6 5.1-.9 -1.4-2.7 -1.2-.7 -1.6-2.1 -2.3-8.1 -1.2-10.9 1-13.6zM17.3,77.6l-1.1,.9 -.4,2.7 .5,2.7 1,1.3 1.3-1.3 .8-2.7 -1.1-2.7 -1-.9zM94.2,45.9l1.4-.4 2.5,2.7 .8,3.1 -.9,2.8 -2.4,2.5 -2.6,.6 -2.5-1.4 -1-1.7 -.1-2.8 3.6-5.1 1.2-.3z"/><path fill="#f5c300" fill-rule="evenodd" d="M54.9,-5.8l20.8,0 -1.8,13.6 .4,5.4 -.4,2.8 -5.9,8.1 -1,2.7 1.1,2.8 -5.4-1.9 -5-2.5 -2.5-3.8 -1.6-5.4 -.2-2.8 2.1-10.8 .1-2.8 -.7-5.4zM31.6,15.9l.9-1.2 3,1.2 .1,2.7 -.6,.9 -2.5-2.1 -.9-1.5zM-5.4,32.3l0,2.6 0-2.6zM1.5,64.9l.6-.7 2.6,-0 .4,.7 -.4,.6 -3.2-.6zM38.9,75.8l1.1-2.6 2.5,1.6 .7,1 -.6,2.7 -2.6,.6 -1.1-3.3zM9.3,81.2l.5-.2 -0,.6 -.5-.4zM-5.4,103l12.6,3.6 2.5,.2 2.6-.5 5-2.8 5.1,2.3 7.5-.8 7.6-3.6 2.5-.3 2.5,1.3 2.6,2.8 5-1.3 2.5,1.4 2.6,3.2 2.5,1.2 2.5-.7 5-2.5 1.2-.8 1.8-2.7 2.1-1.2 2.5,.5 2.5,2.2 2.6,.5 2.7-2 7.4-2.7 2.5,1.8 2.5,3.7 5,.2 4.4-3 3.2-1.3 2.5-.4 5.1,.6 -0,20.1 -118.6,0 -0-19zM37.5,108.7l-2.3,2.4 2.3,2.8 2.6,-0 .7-2.8 -3.3-2.4z"/><path fill="#f2a500" fill-rule="evenodd" d="M57.8,-5.8l15.7,0 -2.2,10.9 -.3,5.4 -4.9,8.2 -3.3,3.2 -2.6,.1 -.7-.6 -1.8-1.8 -1.3-3.6 0-2.8 1.3-4.3 1-1.1 -.1-8.2 -.8-5.4zM36.5,122l1-.5 .8,.5 -1.8,0z"/><path fill="#00ccff" fill-rule="evenodd" d="M8.6,-3.1l1.2-.9 .7-1.8 11.2,-0 -.2,8.1 1.1,2.8 -.8,2.7 -4.5,3.2 -2.5,.6 -5,.2 -1.9-1.3 -.1-2.7 1.7-2.7 .5-2.8 -1.9-2.7 .5-2.7zM74.3,56.7l1-.4 3.1,.4 7,3.9 1.3,1.5 1.4,10.9 -2.7,3.7 -2.5,1 -5.1-.7 -2.5,1.4 -1.8-2.7 .8-2.7 .3-5.4 1.4-5.5 -1.4-2.7 -.3-2.7z"/></g><use href="#st" fill="none" stroke="#8c8c8c" stroke-width="0.45"/><use href="#bb" fill="#151515"/><use href="#rv" fill="none" stroke="#000" stroke-width="1.3" stroke-linejoin="round"/><use href="#mj" fill="none" stroke="#000" stroke-width="1.0"/><use href="#bd" fill="none" stroke="#000" stroke-width="0.85"/><use href="#cs" fill="none" stroke="#000" stroke-width="0.85"/><use href="#br" fill="none" stroke="#000" stroke-width="0.9"/></svg><rect x="0" y="0" width="107.3" height="114.90" fill="none" stroke="#6e6e6e" stroke-width="0.7"/></g>
<text x="244.50" y="640.00" font-size="6.4" font-weight="bold" stroke="#000" stroke-width="0.22" textLength="46.70" lengthAdjust="spacingAndGlyphs">M32 - MIROC6</text>
<g transform="translate(354.60,643.60)"><svg width="107.3" height="114.90" overflow="hidden"><rect x="-1" y="-1" width="109.3" height="118.2" fill="#add8e6"/><use href="#land" fill="#fde4c6"/><g clip-path="url(#cb)"><path fill="#ffffff" fill-rule="evenodd" d="M-2,-2H109.8V118.2H-2Z"/><path fill="#f7e400" fill-rule="evenodd" d="M-5.4,-5.8l118.6,0 -0,39.9 -2.5,.3 -2.6,1.7 -5,.4 -2.5-1.9 -1.9-2.3 -.5-2.7 -2.7-3.1 -2.5-1 -2.5,.5 -2.9,3.6 -.3,2.7 .8,5.4 -.4,2.7 -7.6,8.2 -.1,2.7 -2.7,8.2 -2,.9 -2.5-.4 -5-4.8 -5.1,4 -6.1,.3 -3.2,2.7 -.8,3.3 -10.1,5.6 -5-2.3 -2.5-.2 -5.1,1.1 -5-3.8 -5.1,1.2 -5-.5 -1.9,1 -.6,1.3 -2.6,.8 -5,.2 -2.5-.7 -2.6-2.7 -5-2.2 0-70.1z"/><path fill="#f5c300" fill-rule="evenodd" d="M-5.4,-5.8l118.6,0 -0,34.7 -2.5-.8 -2.6,1 -5-2.8 -5.1-5.1 -2.5-1.4 -2.5,.2 -6.2,4.1 -1.4,1.6 -1.1,3.9 -.6,5.4 -.8,1.6 -7.6,6 -3.1,.6 -4.4,2.3 -3,.4 -4.6,2.7 -5,2 -5.1,.3 -5,1.4 -2.6,.1 -2.5,2.1 -1.4,2.3 -3.6,3.6 -2.6,1.7 -10-1.3 -5.1,1.2 -5-.1 -5.1-1 -7.6,.9 -5-1.2 -0-66.4zM4.7,28l-2.5,3.1 -1.6,3.9 1.6,2.9 2.5-1.6 1.9-4 -.4-2.7 -1.5-1.6z"/><path fill="#f2a500" fill-rule="evenodd" d="M-5.4,-5.8l92.2,0 -.7,5.4 -2,5.5 1.3,2.4 4,3 -.3,2.7 -1.3,2.8 -4.9,4.2 -2.5,12.1 -2.5,3.1 -10.1,4.6 -5.1,1.7 -5,2.9 -2.5,.4 -5.1-1.7 -2.5,.7 -5.1-.2 -10.1,2 -.7,2.8 1.1,2.7 .1,2.7 -3,2.9 -7.5-1.6 -5.1,.9 -5-2.6 -2.6,.3 -5,3.8 -5.1,.7 -5-1.6 0-17.2 7,6.3 3.1,.5 9.7-11.4 -1.1-2.7 -5.1-8.2 -3.5-1.9 -2.5,.7 -5.1,5.6 -2.5,.2 0-34.5zM12.3,.3l-.5,2 .5,.9 .5-.9 -.5-2zM35,29.5l-2.5,2.3 -5.1-.5 -.6,1 3.2,.4 2.5,3.1 2.5-.6 4.5-2.9 2.1-2.8 -1.6-1.2 -2.5-.1 -2.5,1.3zM42.5,-1.8l-2.5,1.5 -.9,2.6 .9,1.5 2.5,.5 2.5-.3 1.9-1.7 -.3-2.7 -1.6-2.5 -2.5,1.1z"/><path fill="#ff8000" fill-rule="evenodd" d="M19.2,-3.1l1.9-2.7 11.9,-0 -.5,5.4 1.6,5.5 2.1,2.7 4.9,2.7 .1,5.4 2.5,2.8 -3.3,2.7 -5.4,2.5 -2.5-.4 -2.5-1.1 -6.9-6.5 -1.8-2.7 -.8-5.4 -.9-2.7 -.4-8.2zM52.2,-5.8l26.8,0 -.4,2.7 1.1,5.5 -.3,2.7 -1.9,5.4 -.4,5.5 .9,2.7 .5,5.4 -.1,2.7 -.6,1.4 -7.5,4.4 -5.1,1.2 -2.5,1.9 -7.6,2.6 -2.5,.1 -2.9-.7 3-2.7 2.4-1 1-1.7 -.7-8.2 -.9-2.7 0-5.4 -2.8-16.4 .5-5.4z"/><path fill="#f56a00" fill-rule="evenodd" d="M56,-5.8l17.5,0 -.4,2.7 .8,2.7 1.9,2.8 -.1,2.7 -2.9,4.8 -5,4.6 -2.5,.5 -2.6-.8 -2.5-1.3 -2.1-2.4 -2-8.1 -.1-8.2z"/><path fill="#00ccff" fill-rule="evenodd" d="M86,51.3l1.9-1.6 7.6,.6 2.4,1 .6,2.7 -0,5.5 1.6,5.4 -.3,5.4 -1.8,3.9 -7.1,7 -3,1.8 -2.5-.1 -5.1-2.8 -2.5,.6 -2.5-.3 -1.2-4.6 8.8-11.3 3.1-13.2zM65.9,83.9l1.9-1.5 7.5-.4 .6,4.6 -.9,2.7 -2.2,3.2 -2.5,1.3 -2.5,.4 -2.5-.1 -2.2-2 -0-2.8 -.8-2.7 3.6-2.7z"/><path fill="#0088ff" fill-rule="evenodd" d="M89.6,56.7l.8-1.4 2.6-1 .9,2.4 .4,8.2 -1.3,3.6 -5.1,4.5 -.7-2.7 -.4-5.4 1.1-4.6 1.7-3.6z"/></g><use href="#st" fill="none" stroke="#8c8c8c" stroke-width="0.45"/><use href="#bb" fill="#151515"/><use href="#rv" fill="none" stroke="#000" stroke-width="1.3" stroke-linejoin="round"/><use href="#mj" fill="none" stroke="#000" stroke-width="1.0"/><use href="#bd" fill="none" stroke="#000" stroke-width="0.85"/><use href="#cs" fill="none" stroke="#000" stroke-width="0.85"/><use href="#br" fill="none" stroke="#000" stroke-width="0.9"/></svg><rect x="0" y="0" width="107.3" height="114.90" fill="none" stroke="#6e6e6e" stroke-width="0.7"/></g>
<text x="354.90" y="640.00" font-size="6.4" font-weight="bold" stroke="#000" stroke-width="0.22" textLength="72.22" lengthAdjust="spacingAndGlyphs">M33 - MPI-ESM1-2-HR</text>
<g transform="translate(465.00,643.60)"><svg width="107.3" height="114.90" overflow="hidden"><rect x="-1" y="-1" width="109.3" height="118.2" fill="#add8e6"/><use href="#land" fill="#fde4c6"/><g clip-path="url(#cb)"><path fill="#ffffff" fill-rule="evenodd" d="M-2,-2H109.8V118.2H-2Z"/><path fill="#f7e400" fill-rule="evenodd" d="M-5.4,-5.8l118.6,0 -0,36.9 -7.6-1.9 -5,0 -2.6-.7 -2.3-1.7 .3-10.8 -.5-.3 -.2,3 -3.4,5.4 .3,2.7 -4.2,3.1 -2.2,2.4 -4.1,8.1 -1.1,8.2 -1.2,2.7 -2.1,2.7 -4.5,2.5 -2.5,2.7 -2.5,.1 -2.9-2.5 -4.7-1.8 -2.5-.5 -5.1,.4 -7.6,4.6 -2.5,3.3 -2.6,2.1 -.2,2.7 -2.2,2.1 -2.5-.4 -5.1-2.1 -2.5,3.6 -2.5,1 -2.5-.2 -5.1,1.1 -10.1-.2 -2.5-.3 -5.1-2.7 -2.5-.4 -2.5,2.8 0-77.7zM64.6,73.1l.6-1.3 2.5,1.3 -2.5,1.6 -.6-1.6zM92.5,89.4l3.4,0 .5,2.7 -.9,1.6 -2.5,.6 -1.7-2.2 1.2-2.7z"/><path fill="#f5c300" fill-rule="evenodd" d="M-5.4,-5.8l26.5,0 -1.4,2.7 -.1,2.7 2.7,5.5 2.6,3.5 2.5,1 2.5,0 2.5-.4 1.3-1.4 -0-5.4 .7-2.8 2-2.7 -.4-2.7 77.2,0 -0,14.8 -2.5-.5 -2.6,1 -.5,1 -2,1.1 -2.5,.7 -2.5-.6 -2.6-1.8 -2.5-.2 -7.5,2.4 -1.1,3.9 -3.4,5.4 .7,5.4 -.5,2.8 -4.1,8.1 -1.7,5.5 -2.6,4.4 -2.7-1.7 -2.3-.6 -2.5,1.4 -4.4,4.6 -3.2,.4 -1.2-.4 -3.5-2.7 -2.9-3.7 -2.5,.4 -3.9,3.3 -.7,2.7 -2.3,2.7 -5.7,3.4 -2.5,2.6 -2.6,1 -2.5-.5 -5-2.6 -5.1-4.3 -3.8,5.9 -1.2,.8 -2.5,.7 -2.6-.2 -5-2 -10.1-2.7 -0-61.9zM4.7,10.3l-2.4,.2 2.4,2.7 .5-2.7 -.5-.2zM47.6,-1l-1.2,.7 1.2,2.1 2.4-2.1 -2.4-.7zM85.4,4.1l-1.7,3.7 1.7,1.3 1.6-1.3 -1.6-3.7zM113,18.7l.2,7.7 -3.7-2.3 -.4-2.7 1.6-1.8 2.3-.9z"/><path fill="#f2a500" fill-rule="evenodd" d="M53.8,-5.8l23.5,0 .7,8.2 -3.3,10.8 -.8,10.9 -0,2.7 1.2,5.5 -.7,2.7 -6.5,2.7 -1,2.7 -1.6,2.5 -2.5,1.2 -5.1-.7 -3.7-3 -1.3-1.8 -2.5-1.4 -10.1,10.9 -5.1-.8 -1.7,1.3 -3.3,5.7 -2.6-.6 -5-5.2 -2.5-4.4 -2.5-.7 -2.6,.9 -1.4,1.6 .4,5.4 -1.5,2.7 -1.4-2.7 -0-2.7 -1.1-2.7 1.3-2.7 -1.3-1 -2.5-.4 -2.8,1.4 .7,2.7 -1,2.7 -2,1.8 -2.5,1.1 -2.5-1.3 -2.6-5.2 0-20.1 5.1,1.6 2.5-.3 2.5-1.5 2.6-2.6 2.5-4 2.5-1.6 5.1,.3 2.5-2.5 2.5-.9 7.6,.8 5.4-1 2.1-1 2.6-3.9 2.5-.3 2.5,.4 5.1,2.6 2.5-.5 1.3-2.7 1.2-8.2 -1.4-5.4zM67.8,22.9l-1.3,1.2 1.3,1 2.3-1 -2.3-1.2z"/><path fill="#ff8000" fill-rule="evenodd" d="M61,-5.8l12.5,0 .5,5.4 -2,2.8 .4,5.4 -2.1,4.9 -2.5,1.4 -1-.9 -3.8-8.1 -.7-2.7 0-5.5 -1.3-2.7zM10.6,24.1l1.6-2.2 2.6-.5 5,.2 5,2.5 .8,2.7 -1.4,2.7 -4.4,5.9 -2.5,.7 -7.6-2.2 -2.5,1.3 -2.5-.1 .6-2.8 1.9-.7 1.6-2.1 1.8-5.4zM26.3,24.1l1.2,0 -1.2,0z"/><path fill="#00ccff" fill-rule="evenodd" d="M91.8,32.3l3.8-.7 10.1,1.2 7.5,1.8 0,49.5 -7.5,.9 -7.6-.7 -5.1,.6 -2.5,1 -8.2,9 -1.9,1.2 -5-.5 -2.5-2 -2.6-.2 -2.2,1.5 -1.3,5.4 -1.5,2.3 -2.5,2 -7.6,-0 -4.7-4.3 .4-2.7 -.3-5.5 2.1-3.5 .4-4.6 2.1-2.3 2.5-1 5.1-.1 2.5,.9 2.5-.2 2.5-2.1 .7-3.4 0-8.1 .8-2.8 3.5-5.4 5.9-5.4 1.7-5 1.3-8.6 3.8-5.5 3.8-2.7z"/><path fill="#0088ff" fill-rule="evenodd" d="M92.2,35l3.3-.8 17.7,3.2 -0,43.5 -2.6,0 -5,1.1 -5.1-1.4 -2.5-.1 -7.5,1.7 -10.1,9.1 -2.6-.3 -1.3-1.6 -1.1-2.7 -1.3-5.5 .5-5.4 -1.3-5.4 .6-2.8 3.5-5.4 5.5-5.6 1.6-5.3 .9-8.4 2.5-4 4.3-3.9zM105.6,51.8l-1.5,2.2 1.5,2.9 1.1-2.9 -1.1-2.2z"/><path fill="#0055ff" fill-rule="evenodd" d="M92.5,37.7l3-1 2.5,.3 2.7,.7 2.4,1.7 2.5,.9 5.8,.1 1.8,.8 -0,11.7 -2.5-1.2 -2.6-5 -2.5-1.8 -2.5,1.2 -1.7,2.5 -1.2,2.7 -.1,2.7 .7,5.5 4.8,1.9 7.6,1.8 -0,13.1 -5.1-.9 -17.6,3.4 -2.5,1.1 -5.1,3.9 -2.5,.6 -2.4-3.2 -0-2.7 .8-2.7 -.1-2.7 -1.5-2.8 .2-2.7 3-4.5 5-4.5 1.1-4.6 .9-10.9 5.1-5.4z"/><path fill="#0022e6" fill-rule="evenodd" d="M94.6,40.4l1-.5 2.5,.3 1.6,2.9 -2.5,5.5 -.3,8.1 -1.3,2 -2.5,.6 -3.3-2.6 -.8-8.1 .3-2.8 1.2-2.1 4.1-3.3zM101.5,67.6l1.6-.9 3,.9 -.5,.9 -2.5,1.1 -1.6-2zM109,70.3l1.7-1 2.5,0 0,1.8 -4.2-.8z"/></g><use href="#st" fill="none" stroke="#8c8c8c" stroke-width="0.45"/><use href="#bb" fill="#151515"/><use href="#rv" fill="none" stroke="#000" stroke-width="1.3" stroke-linejoin="round"/><use href="#mj" fill="none" stroke="#000" stroke-width="1.0"/><use href="#bd" fill="none" stroke="#000" stroke-width="0.85"/><use href="#cs" fill="none" stroke="#000" stroke-width="0.85"/><use href="#br" fill="none" stroke="#000" stroke-width="0.9"/></svg><rect x="0" y="0" width="107.3" height="114.90" fill="none" stroke="#6e6e6e" stroke-width="0.7"/></g>
<text x="465.30" y="640.00" font-size="6.4" font-weight="bold" stroke="#000" stroke-width="0.22" textLength="71.04" lengthAdjust="spacingAndGlyphs">M34 - MPI-ESM1-2-LR</text>
<g transform="translate(575.40,643.60)"><svg width="107.3" height="114.90" overflow="hidden"><rect x="-1" y="-1" width="109.3" height="118.2" fill="#add8e6"/><use href="#land" fill="#fde4c6"/><g clip-path="url(#cb)"><path fill="#ffffff" fill-rule="evenodd" d="M-2,-2H109.8V118.2H-2Z"/><path fill="#f7e400" fill-rule="evenodd" d="M-5.4,-5.8l118.6,0 -0,127.8 -118.6,0 0-127.8z"/><path fill="#f5c300" fill-rule="evenodd" d="M-5.4,-5.8l118.6,0 -0,31.2 -2.5,.9 -10.1,-0 -1.2,.5 -1.9,2.8 1.7,2.7 3.1,2.7 .1,2.7 -2.2,2.7 -1.2,2.8 1.6,1.4 5,.3 3.4,1 4.2,2.8 -0,25.4 -.7,1.7 .7,.9 -0,45.3 -118.6,0 0-127.8zM75.3,82.7l-.5,1.2 .5,.3 0-1.5zM93,18.2l-.5,.5 0,2.7 .5,.7 2.5,.3 1-1 .7-2.7 -1.7-1.6 -2.5,1.1z"/><path fill="#f2a500" fill-rule="evenodd" d="M-5.3,-5.8l13.5,0 -1,6 5.1,9.1 5,5.8 2.6-.4 .5-1.5 1-10.8 1-1 3.7-1.8 -.5-2.7 -1.4-2.7 89,0 0,16 -1.1,3 -1.4,1.7 -7.6-2.5 -7.5-.5 -7.6,1.1 -2.5,2.4 1.2,8.7 -.2,5.5 .7,2.7 .8,1.1 3,1.6 1.5,2.7 -0,2.7 -2,2.2 -5,.6 -7.6,5.5 -1.7,2.6 -.8,4.4 -2,3.8 -.6,2.8 -.1,8 -2.4,2 -5.2,.8 -2.1,2.7 -.1,2.7 1.1,2.7 1.3,1.4 2.7,1.3 .8,5.5 4,4.8 2.6,1 2.5-.6 5-4.2 2.6-.2 1-.8 -.1-5.5 1.2-2.7 2.9-2.2 2.5-.8 2.6,1.1 5,.3 5,3.3 2.6-1.6 2.5-.1 2.5,1.9 0,38.9 -47.9,0 2.6-5.4 -2.6-1 -3.3,3.7 -1.2,2.7 -66.2,0 .1-127.8zM2.2,95.4l-2.3,2.2 -.2,3 2.5,.4 .7-.7 1.1-2.7 -1.8-2.2zM12.3,23.4l-.4,.7 .4,.5 1.1-.5 -1.1-.7zM24.9,70l-.4,.3 .4,2.2 2.5,1.8 .5-1.2 -.2-2.8 -2.8-.3zM40,8.5l-1.6,2 .4,2.7 1.2,.6 2.7-3.3 -.2-1.4 -2.5-.6zM70.3,24.5l-1.1,2.3 1.1,.7 1.1-.7 -1.1-2.3z"/><path fill="#ff8000" fill-rule="evenodd" d="M1,-5.8l2,0 -.8,.7 -1.2-.7zM108,-.4l.5,0 -.3,.6 -.2-.6zM85.1,2.3l.4-.9 2.7,.9 -2.7,.6 -.4-.6zM109.1,2.3l1.5-1.3 2.5,.4 0,2.2 -4-1.3zM47,15.9l.5-.6 1,.6 1.6,2.1 -0,1 -2.6,1.2 -1.7-1.6 1.2-2.7zM17.2,32.3l.9,0 -.9,0zM65.6,35l7.2-1.1 2.5,1.4 1.8,5.1 -.7,2.8 -4.8,5.4 -1.3,.9 -2.6,0 -5-3.8 -5-2.2 -2.6,1.1 -2.5,2.1 -.7-3.5 .7-1.9 7.6-4.8 2.5-1.1 2.9-.4zM34.1,45.9l.8-1.2 2.6-1 1.5,2.2 -1.5,2.7 -2.6-1.4 -.8-1.3zM-5.4,67.6l0-.8 4.3,3.5 .9,2.7 -2.7,1.6 -2.5-.6 0-6.4zM50.1,73.1l2.6-.4 .5,.4 -.5,1.3 -2.6-1.3zM62.6,94.8l.1,2.7 -.1-2.7zM89.4,111.1l1.1-1.1 5,1.8 2.5,.2 2.4,1.8 -.7,2.7 -1.7,.9 -5-.8 -2.5-1.2 -.8-1.6 -.3-2.7zM34.7,122l.2-.6 2.9,.6 -3.1,0z"/></g><use href="#st" fill="none" stroke="#8c8c8c" stroke-width="0.45"/><use href="#bb" fill="#151515"/><use href="#rv" fill="none" stroke="#000" stroke-width="1.3" stroke-linejoin="round"/><use href="#mj" fill="none" stroke="#000" stroke-width="1.0"/><use href="#bd" fill="none" stroke="#000" stroke-width="0.85"/><use href="#cs" fill="none" stroke="#000" stroke-width="0.85"/><use href="#br" fill="none" stroke="#000" stroke-width="0.9"/></svg><rect x="0" y="0" width="107.3" height="114.90" fill="none" stroke="#6e6e6e" stroke-width="0.7"/></g>
<text x="575.70" y="640.00" font-size="6.4" font-weight="bold" stroke="#000" stroke-width="0.22" textLength="60.51" lengthAdjust="spacingAndGlyphs">M35 - MRI-ESM2-0</text>
<g transform="translate(23.40,770.30)"><svg width="107.3" height="115.20" overflow="hidden"><rect x="-1" y="-1" width="109.3" height="118.2" fill="#add8e6"/><use href="#land" fill="#fde4c6"/><g clip-path="url(#cb)"><path fill="#ffffff" fill-rule="evenodd" d="M-2,-2H109.8V118.2H-2Z"/><path fill="#f7e400" fill-rule="evenodd" d="M-5.4,-5.8l118.6,0 -0,21.6 -5.1-.8 -7.5-.2 -5.1-3.1 -2.5,.2 -2.5,2.4 -1.2,1.7 -.5,2.7 .9,5.4 -.4,2.7 -2.2,5.5 -7.1,5.4 -1.3,2.7 -.1,8.2 -.6,2.7 -2.7,3.3 -1.7,4.9 -.6,5.4 1.2,10.9 -.3,2.7 -1.1,2.6 -5.8,2.8 -1.8,1.9 -5,8.4 -2.5,.4 -2.5,2 -2.6-1 -2.5,1.3 -.8,.6 -.2,2.8 3.5,3.9 2.6,.5 2.5-.3 5-2.5 5.1-6.6 2.5-.8 5-3.6 5.1-1.2 2.5,.8 .7,1.6 1.8,1.8 5.1,.1 10.1-.3 5-3.7 5.1,1.7 2.5-1.2 -0,26 -3.9,.1 -1.2,1.2 -.6,1.5 2.2,2.7 -115.1,0 -0-127.8zM12.3,100.9l-1,2 1,.8 .6-.8 -.6-2zM35,102.3l-.4,.6 .4,2.1 2.5,.9 1.5,2.5 1,4.6 2.6-.6 .4-4 -2.7-5.5 -2.8-1.7 -2.5,1.1zM50.1,56.2l-2.1,.5 2.1,1.9 .5-1.9 -.5-.5zM52.6,64.5l0,.7 1.7,2.5 .8,.6 1.1-.6 .1-2.8 -1.2-.8 -2.5,.4zM90.5,113.2l-2.1,.6 2.1,3 .5-.2 .5-2.8 -1-.6zM102.7,54l.4-.9 2.5-1.1 3.9,2 2.6,2.7 -.4,2.7 -1,.3 -5.1,4.6 -2.5-3.5 -.6-4.1 .2-2.7z"/><path fill="#f5c300" fill-rule="evenodd" d="M-5.4,-5.8l118.6,0 -0,19.1 -5.1-3.2 -2.5-.4 -2.5,.4 -7.6-2 -2.5,-0 -5,1.6 -5,6.3 1.2,10.8 -.6,2.8 -5.7,6 -5.1,9.8 -2.5,.8 -2.5-.2 -2.6,1.4 -2.5,5 -2.5,2.6 -2.5,.7 -1-1.7 -6.6-5 -2.5-.5 -2.5,.3 -2.6,1.8 -2.3,3.4 .5,2.8 2.3,2.7 1,5.4 1.5,2.7 4.6,3.3 1.5,2.2 1.3,5.4 5.2,2.7 1.2,2.7 -.8,2.8 -.8,1.2 -2.5,1.5 -2.6,.3 -5,2.4 -7.6,.9 -7.6-.9 -2.5,.6 -.8,2.1 -.1,2.7 -1.6,2.7 -3.4-2.7 -4.2-6.8 -5-.5 -2.5,.5 -5.1,2.9 -5,.9 -2.6-.3 -2.5-1.1 -2.5-2.3 -0-96.6zM9.7,60.9l0,2.2 2.5,1.6 .7-2.5 -.7-1.3 -2.5,0zM40,72.5l-.4,.6 .5,-0 -.1-.6zM62.7,67.6l2.6-1.5 2.5,.3 2.5,1.8 1.6,4.8 -.1,2.8 -1.5,2.3 -5,1.4 -1.9-1 .5-5.5 -1.2-5.4zM37.1,122l2.9-.8 1.6,.8 -4.5,0z"/><path fill="#f2a500" fill-rule="evenodd" d="M-5.4,-5.8l82.7,0 -2,4.2 -5,5.5 -.8,3.9 .8,2 2.5,3.4 2.5,.6 2.6,2.2 .6,8.1 -4.5,10.9 -1.2,1.9 -2.5,.6 -2.5-.4 -5.1,6 -2.5,2.2 -2.5,.6 -7.6-2.6 -5,.5 -5.1-.8 -2.1,2.9 -.9,2.7 -2,3.4 -1.7,2 -.9,3.9 -2.5,1.7 -2.5-2.6 -2.5,.9 -2,1.6 -.5,1.2 -2.6-1.1 -3.1-2.8 -1.9-.9 -5.1-1.1 -5-.1 -2.5,.7 -6,4.1 -1.6,.4 0-65.7zM70.3,16.4l-.6,2.3 .6,1.2 2-1.2 -2-2.3zM91.8,-3.1l3.7-1 2.6,3.1 2.3,.6 .2,2.7 -2.5,.9 -6.7-.9 -2.2-2.7 2.6-2.7z"/><path fill="#ff8000" fill-rule="evenodd" d="M-5.4,-5.8l67.9,0 2.1,8.2 1.9,10.8 -2.4,5.5 -.4,2.7 -5,5.4 .1,5.5 .7,2.7 1.9,2.7 -1.2,1.6 -2.5,1.2 -2.5-1.8 -2.6-.6 -5,1 -2.5-.4 -1.9-1 -.8-2.7 -.5-5.4 .6-5.5 -2.5-3.5 -2.5,.8 -2.5,1.7 -4,3.7 -1.2,2.8 2.2,5.4 1.4,5.4 -.3,2.8 -1.7,2.7 -4,1.1 -2.5,.1 -7.6-3 -2.5-.2 -2.5,3.3 -2.6,1.6 -10.1,.8 -5-1.7 -0-31.8 .8-2.9 -.8-2.7 -0-16.3z"/><path fill="#f56a00" fill-rule="evenodd" d="M43.3,-5.8l9.9,0 2.4,8.2 -1.6,5.4 -1.3,1.6 -2,1.1 -1.3,0 -2.7-2.7 .6-2.7 -2.2-1.3 -.6-1.4 -1.2-5.5 0-2.7zM23.7,7.8l1.4,0 2.4,5.4 2.4,2 2.1,.8 .6,2.7 -1.7,2.7 -3.5,3.4 -5,2.7 -5.1,6.8 -2.5,1.2 -2.5,.3 -2.3,1.9 -1.6,5.5 -1.2,1 -2.5,1.4 -2.5,.4 -2.5-.4 -4.8-2.4 -.3-18.5 1.7-.6 3.4-2.4 4.1,2.4 3.4-.4 2.5-2.2 4.3-5.5 .1-2.8 2.5-2.7 7.1-2.7z"/><path fill="#00ccff" fill-rule="evenodd" d="M104,21.4l6.6-.5 2.5,.5 0,27.7 -2.5,.3 -5-1 -2.5,.5 -2.2,2.4 -.8,2.7 -.1,10.9 -1.2,2.7 -5.8,4.1 -3.6,4.1 -1,2.7 -.5,4 -2.5,.2 -7.6-2.2 -1.3-2 -.5-2.7 .2-13.6 1-2.7 3.1-3.3 1.3-2.2 .9-8.1 -.2-5.5 .6-.9 7.6-4.5 4-5.4 1.6-5.5 1.9-1.7 2.5-.9 3.5-.1z"/><path fill="#0088ff" fill-rule="evenodd" d="M102.2,26.8l3.4-1.5 5.1,1.2 2.5-.2 0,18.7 -5,.5 -2.6-.3 -2.5,.6 -2.5,1.7 -1.9,3.8 -.5,2.7 .1,8.2 -.7,2.7 -2.1,2 -5.6,3.4 -4.4,7 -1.4,1.2 -1.2,.5 -2.5-.2 -2.5-2.9 -0-3.8 1.7-9.9 4.3-5.5 .8-8.1 1.3-5.5 1.2-2.7 5.8-2.8 5.7-8.1 3.5-2.7z"/><path fill="#0055ff" fill-rule="evenodd" d="M100.6,32.3l2.5-1.6 2.5-.1 2.5,.7 5.1-.6 -0,10.8 -5.1,.3 -2.5-.7 -2.5,.1 -3,2 -2.1,2.7 -1.5,5.4 -.5,2.8 .2,8.1 -.7,1.5 -2.5,2.1 -6.3,1.9 -2.4,2.7 -1.4,4 -1.9-1.3 1.4-8.2 1.2-2.7 2.1-2.7 .8-2.7 .3-5.5 1.1-6.1 1.1-2 1.4-1.2 5.6-1.5 4.6-8.2z"/><path fill="#0022e6" fill-rule="evenodd" d="M91.7,45.9l1.3-.4 .4,.4 .6,2.7 -.7,5.5 .6,5.4 -.9,3 -2.5,.5 -1.2-.8 .2-8.1 1-6 1.2-2.2z"/></g><use href="#st" fill="none" stroke="#8c8c8c" stroke-width="0.45"/><use href="#bb" fill="#151515"/><use href="#rv" fill="none" stroke="#000" stroke-width="1.3" stroke-linejoin="round"/><use href="#mj" fill="none" stroke="#000" stroke-width="1.0"/><use href="#bd" fill="none" stroke="#000" stroke-width="0.85"/><use href="#cs" fill="none" stroke="#000" stroke-width="0.85"/><use href="#br" fill="none" stroke="#000" stroke-width="0.9"/></svg><rect x="0" y="0" width="107.3" height="115.20" fill="none" stroke="#6e6e6e" stroke-width="0.7"/></g>
<text x="23.70" y="766.70" font-size="6.4" font-weight="bold" stroke="#000" stroke-width="0.22" textLength="43.83" lengthAdjust="spacingAndGlyphs">M36 - NESM3</text>
<g transform="translate(133.80,770.30)"><svg width="107.3" height="115.20" overflow="hidden"><rect x="-1" y="-1" width="109.3" height="118.2" fill="#add8e6"/><use href="#land" fill="#fde4c6"/><g clip-path="url(#cb)"><path fill="#ffffff" fill-rule="evenodd" d="M-2,-2H109.8V118.2H-2Z"/><path fill="#f7e400" fill-rule="evenodd" d="M-5.4,-5.8l14.7,0 .4,.8 2.6-.3 .3-.5 100.6,0 -0,19.5 -1-3.2 -4.1-3.9 -5.4,3.9 -7,2.7 -.8,5.5 -2.3,5.4 -2.1,2.3 -5.1,1.2 -5,2.6 -1.3,2.1 -.1,5.4 -1.1,2.3 -2.6,2.7 -2.5,1.7 -2.5,.6 -5.1,3.4 -7.5,1.1 -5.1,1.7 -1.9,2.8 -1.3,5.5 .7,4.4 2.5,2.5 5.1-.8 7.5,.5 2.6,2.2 1.4,7.5 -.2,2.7 -1.4,2.7 -.2,8.2 2.9,2.5 5,.4 7.6-3.8 2.5-.6 2.6,.3 5,4.7 2.5,.3 6.1-1.1 4-2.2 7.6-.3 -0,32.4 -118.6,0 -0-127.8zM29.9,3.9l-2.2,1.2 2.2,1 1.7-1 -1.7-1.2zM100.9,48.6l2.2-2.4 5.1-.1 5,2 -0,8.1 -1.2,3.3 -3.8,1.8 -2.6-.2 -2.5-1.1 -2.2-3.2 -.8-2.8 .8-5.4z"/><path fill="#f5c300" fill-rule="evenodd" d="M41.9,-3.1l1-2.7 31.9,-0 .3,5.4 .7,2.7 2.8,2.8 1,2.7 -.4,2.7 1.2,.6 5-.9 2.5,1.1 2.6,7.4 -2.6,3.6 -12.4,4.5 -1.4,2.7 -1.1,5.5 -5.2,3.6 -5.1,4.9 -2.5,.2 -2.5-.7 -2.6,.4 -5,1.5 -2.5,1.9 -2.6,4.3 -5,5.6 -0,2.8 5,3.3 .7,2.1 -.1,5.4 .9,2.7 1.1,1.7 .6-1.7 1.9-.8 5-1.5 2.6,-0 7.2,2.3 .3,2.8 -1,2.7 -1.1,10.9 .3,2.7 3.2,2.7 8.7,3.6 2.5-.9 2.6-2.7 2.5-.9 2.5,.4 5.1,2.8 5-.2 7.6,.9 2.5-1.1 2.5-2.9 2.5-.2 .9,1.2 1.7,4.6 -0,22.6 -102.2,0 -1.3-2.8 -2.1,2.8 -13,0 -0-50.2 5-.6 1.2-.9 .9-2.7 -2.1-1.9 -2.5-.6 -2.5-1.3 -0-43 5,.6 7.6-2 2.5,-0 5.1,2 2.5,.6 2.5-.5 1.8-5.6 3.3-2.9 10.1-2.1 4.8-.4 3.1-2.7 2.2-2.7 -3-5.5 -.2-2.7zM72.8,12.3l-1.3,.9 -.7,2.8 2,1.1 3.1-3.9 -3.1-.9zM45.1,77.3l-.4,1.2 .4,3 .9-3 -.9-1.2zM32.5,72.4l-.5,.6 .5,1 2.5,.3 2.8-1.3 -2.8-1.5 -2.5,.9z"/><path fill="#f2a500" fill-rule="evenodd" d="M57,13.2l.7-1.2 2.5-.6 5.1,1 .4,.8 .2,8.2 2.3,5.4 -.4,1.5 -2.5,1.1 -2.5,3.7 -5.1,2.4 -2.5,1.8 -2.5,.5 -7.6-2.9 -2.5,1.4 -2.6-.3 -5-4.1 -4.9-10.5 .4-2.8 1.8-2.7 2.7-1.5 5,.3 2.4,1.2 5.2,4.6 2.5,.4 2.6-.4 2.5-1.9 1.6-2.7 .2-2.7zM-5.4,26.8l0-1.3 7.6-.4 5,.5 5.1-.9 2.5,.1 4.3,2 1.8,2.7 .1,2.7 -1.2,6.4 -2.5,1 -2.5-.4 -1.8,1.2 -.2,2.7 2,1.9 2.5-1.1 2.5,0 2.2,1.9 5.4-.4 2.5,.7 2.5,1.5 1.4,3.7 -1.2,5.4 -2.7,2.5 -2.5,.6 -5-1.7 -2.6-.1 -2.5,.7 -2.5,2.6 -2.5,.4 -7.6-.8 -10.1-4 0-13.2 2.5-.8 2.5-1.9 2.1-6 -4.6-2.5 -2.5-.6 0-5.1zM53.6,78.5l1.5-1.7 2.3,7.1 -2.3,.5 -1.5-5.9zM39.4,89.4l1,0 -.4,1.1 -.6-1.1zM82.7,108.4l.2-.6 -0,1.1 -.2-.5zM22,111.1l.7,0 2.1,2.7 -2.4,1.2 -3.3-1.2 2.9-2.7zM85.1,111.1l.4-.3 -.4,.3zM1.1,122l1-.7 .6,.7 -1.6,0zM57.3,122l.5,0 -.5,0z"/><path fill="#ff8000" fill-rule="evenodd" d="M49,29.5l1.1-2.3 2.5-.3 1.7,2.6 -1.7,2.9 -2.5-.5 -1.1-2.4zM6.6,45.9l.6-.5 .5,.5 -.5,.9 -.6-.9z"/><path fill="#00ccff" fill-rule="evenodd" d="M98.4,21.4l2.2-1.8 2.5-.6 5-.1 5.1,1.4 -0,21.5 -2.5,.3 -5.1-.6 -2.5,.3 -3.3,1.4 -1.9,2.7 -.5,8.1 .8,5.5 1.8,5.4 -2.7,2.7 -4.3,3.2 -2,2.3 -3.4,8.1 -2.2,1.2 -7.5,2 -2.6,.2 -1.4-.6 -1.1-2.5 .7-3 -.3-2.7 -1.2-2.7 -.4-2.7 .8-10.9 -.4-2.7 -1.1-2.8 2.4-2.7 4.6-2.9 2.6-2.5 2.1-2.7 1.2-2.8 6.7-6.1 7.9-12.9z"/><path fill="#0088ff" fill-rule="evenodd" d="M105.8,24.1l2.4-.6 5,.8 0,11.7 -5,1.5 -10.1,.4 1.7-8.4 1.3-2.7 4.7-2.7zM90.3,45.9l2.7-.8 2,3.5 .3,13.6 -.9,2.7 -4.9,5.5 -4,5.9 -2.6,1.3 -2.5,.6 -2.5-1.8 -3.2-6 0-5.5 1.8-5.4 .6-5.4 6.8-5.5 6.4-2.7z"/><path fill="#0055ff" fill-rule="evenodd" d="M82.6,54l2.8,.4 5.1,2.4 1.2,2.6 .1,2.8 -1.6,2.7 -4.8,5.2 -2.5,1.7 -2.5-.3 -1.4-1.2 -1.5-2.7 -.1-2.7 2.2-5.5 .1-2.7 .7-1.5 2.2-1.2z"/></g><use href="#st" fill="none" stroke="#8c8c8c" stroke-width="0.45"/><use href="#bb" fill="#151515"/><use href="#rv" fill="none" stroke="#000" stroke-width="1.3" stroke-linejoin="round"/><use href="#mj" fill="none" stroke="#000" stroke-width="1.0"/><use href="#bd" fill="none" stroke="#000" stroke-width="0.85"/><use href="#cs" fill="none" stroke="#000" stroke-width="0.85"/><use href="#br" fill="none" stroke="#000" stroke-width="0.9"/></svg><rect x="0" y="0" width="107.3" height="115.20" fill="none" stroke="#6e6e6e" stroke-width="0.7"/></g>
<text x="134.10" y="766.70" font-size="6.4" font-weight="bold" stroke="#000" stroke-width="0.22" textLength="62.87" lengthAdjust="spacingAndGlyphs">M37 - NorESM2-LM</text>
<g transform="translate(244.20,770.30)"><svg width="107.3" height="115.20" overflow="hidden"><rect x="-1" y="-1" width="109.3" height="118.2" fill="#add8e6"/><use href="#land" fill="#fde4c6"/><g clip-path="url(#cb)"><path fill="#ffffff" fill-rule="evenodd" d="M-2,-2H109.8V118.2H-2Z"/><path fill="#f7e400" fill-rule="evenodd" d="M-5.4,-5.8l19.8,0 -.5,10.9 -2.7,5.4 -.4,2.7 1.5,4.2 2.5,3.6 2.5,.3 2.5-1.4 .9-1.2 -.4-8.2 3.1-5.4 -.4-2.7 -2.7-2.8 -.2-5.4 13.7,-0 3.7,6 2.6-.6 .7-2.7 -.7-2.7 73.1,-0 -0,32.9 -5.1,7 -2.5,.7 -7.6-2.1 -7.5,.3 -5.1,9.8 -2.5,2.7 -2.5,1.1 -2.5,2.7 -1.6,7.5 -2,5.4 -.2,8.1 -.6,2.8 1.1,5.4 -.3,5.4 .6,2.8 3,3.5 5,2.7 7.6-.5 10.1,3 5-.4 2.5,3 5.1,2.1 -0,21.9 -118.6,0 -0-127.8zM80.4,96.4l0,1.6 2.5,.9 .4-1.3 -.4-.6 -2.5-.6zM101,45.9l2.1-1.4 5-.3 2.5,.6 2.6,1.5 -0,18.6 -.5,2.8 .5,.4 -0,14.5 -5.1-2.2 -2.5,.9 -2.5,0 -2.6-1.6 -2.5-.3 -5,2.7 -1.6-.8 -1.6-2.8 -3.7-2.7 -.8-2.7 2.5-8.2 2.6-6.1 1.9-2 3.2-.9 2.5-2.5 1.4-2.1 1.6-5.4z"/><path fill="#f5c300" fill-rule="evenodd" d="M-5.4,-5.8l14.1,0 .7,5.4 -1.9,8.2 -.7,8.2 .4,2.1 2.6,6 2.5,2.2 2.5,.1 5-2.1 3.7-2.9 1.1-2.7 -.3-5.5 .6-1.3 2.5-2.7 2.1-1.4 .4-.2 2.4,2.9 2.7,1 5-2.1 2.5,2.1 2.6,-0 .7-1 .5-2.7 -.8-5.4 1.3-8.2 66.4,-0 -0,15.1 -2.5-.3 -2.6,.7 -2.5,2.7 -2.5,1.3 -2.5-2.7 -10.1-.8 -5.1-1.4 -1.5-1 .1-2.7 -1.1-2.3 -.7,2.3 .7,8.1 1.8,5.5 -1.5,5.4 2.7,8.2 -.2,2.7 -2.8,3.1 -5,1.8 -2.6,1.8 -3.5,12.3 -1.5,1.5 -7.5,4 3.3,8.1 -.5,2.7 -1.6,2.8 .3,2.7 .9,1.9 2.6,-0 1.5,.8 -1.5,2.6 -2.6-.9 -1,3.7 3.6,2.8 2.2,2.7 -.8,5.4 1.2,2.7 4.2,2.8 .7,.7 .6,2 2,1.8 5,.3 5.1,2.9 2.5,.6 7.1-2.9 3-3.8 5,2.6 5.1,.5 2.5,1.1 -0,15.9 -61,0 -2.1-1.9 -2.5,.1 -2.5,1.2 -.3,.6 -26.7,0 -.8-.4 -.4,.4 -22.3,0 -0-4.3 2.5,.2 4.2-1.3 -1.7-.8 -5-.5 -0-16.8 .5-1 -.5-.6 -0-9.3 1.2-3.7 -1.2-3 -0-86.7zM-2.9,75.5l0,.5 0-.5zM24.9,111l-2.4,2.9 2.4,1.5 2.5-.8 2-3.4 -2-1 -2.5,.8zM47.6,47.5l-.9,1.1 -4.1,1.3 -1.4,1.4 -1.8,2.7 .5,2.8 2.7,5.6 2.5,1.8 2.5,.6 5,6 2.6,.8 3.3-4 1-2.7 .3-5.4 -.9-2.7 -3.7-6.1 -5.1-3.3 -2.5,.1zM105.2,51.3l.4-.6 1.5,.6 .7,2.7 -2.2,.4 -.4-3.1zM110.8,59.5l2.4-1.6 -0,2.5 -2.4-.9zM90.8,67.6l2.2-1.9 1.8,1.9 1.5,2.7 -.8,1.1 -2.5,1.3 -2.1-2.4 -.1-2.7z"/><path fill="#f2a500" fill-rule="evenodd" d="M-5.4,-5.8l.6,0 -.6,0zM53.4,-5.8l21.2,0 2.4,2.7 -1.2,5.5 .5,2.7 -.3,2.7 -1.9,2.7 -.6,2.7 .8,5.5 1.8,5.4 -3.3,7.4 -5,1.9 -1.2,1.6 -.9,2.7 .3,2.7 3.6,2.8 0,2.7 -1.8,4.4 -2.5,1.4 -9.7-5.8 -6.1-8.2 -1.9-3.9 -4.4-4.2 -2.5-8.2 .3-2.7 1.6-1.5 5-2 1.6-2 1-2.7 4.7-5.4 -.1-2.7 -1.1-2.8 -.3-5.4zM24,26.8l.9-.9 2.5,-0 .6,.9 -.6,1.8 -2.5,.1 -.9-1.9zM3.5,43.1l3.8-.6 2.5,.3 2.5,4.2 2.5-.9 7.6-.6 2.5,1 2.5,2.1 5.1-1.9 2.4,1.8 .2,2.8 -7.7,7.9 -2.5-.3 -2.5-1.2 -2.5,1.9 -2.5,.8 -3.3-1 -1.8-2 -2.5-.6 -2.5,1.8 -5.1,.8 -2.5,1.3 -2.5-1 -2.6-2 0-13.9 5.1,.4 2.5,1.4 1.3-2.5zM7.5,97.5l2.2-1.7 .8,1.7 -.8,.7 -2.2-.7zM.5,103l1.7-2.1 1.8,4.8 -1.7,2.7 -2.5-2.7 .7-2.7zM82.1,116.6l.8-.7 2.5-.3 1,1 -1,.9 -2.5,.2 -.8-1.1z"/><path fill="#ff8000" fill-rule="evenodd" d="M60,7.8l4.5,2.7 .2,2.7 2,5.5 -4,6.2 -2.5,.5 -5.1-1.3 -5,.4 -.5-.4 .5-.8 2.5-2.2 1.5-2.4 2.3-8.2 1.3-1.9 2.3-.8z"/></g><use href="#st" fill="none" stroke="#8c8c8c" stroke-width="0.45"/><use href="#bb" fill="#151515"/><use href="#rv" fill="none" stroke="#000" stroke-width="1.3" stroke-linejoin="round"/><use href="#mj" fill="none" stroke="#000" stroke-width="1.0"/><use href="#bd" fill="none" stroke="#000" stroke-width="0.85"/><use href="#cs" fill="none" stroke="#000" stroke-width="0.85"/><use href="#br" fill="none" stroke="#000" stroke-width="0.9"/></svg><rect x="0" y="0" width="107.3" height="115.20" fill="none" stroke="#6e6e6e" stroke-width="0.7"/></g>
<text x="244.50" y="766.70" font-size="6.4" font-weight="bold" stroke="#000" stroke-width="0.22" textLength="64.99" lengthAdjust="spacingAndGlyphs">M38 - NorESM2-MM</text>
<g transform="translate(354.60,770.30)"><svg width="107.3" height="115.20" overflow="hidden"><rect x="-1" y="-1" width="109.3" height="118.2" fill="#add8e6"/><use href="#land" fill="#fde4c6"/><g clip-path="url(#cb)"><path fill="#ffffff" fill-rule="evenodd" d="M-2,-2H109.8V118.2H-2Z"/><path fill="#f7e400" fill-rule="evenodd" d="M22,-5.8l45.1,0 -2.2,5.4 .3,2.9 1.3,2.6 -.1,2.7 -3.7,8 -.4,2.9 .4,4.4 2.5,1.3 1.9,2.4 .2,8.2 -2.1,3 -3,7.9 -9.6,10.3 -7.6,5.6 -5,7.5 -2.5,.2 -5.1-1.9 -2.5,.2 -5.1-2.6 -2.5,2.9 -2.5-.6 -5,.6 -5.1,2.4 -10.1-.6 -5-5.6 -0-43.7 2.5,.8 10.1-2.1 5,2.3 2.6-.8 2.7-2.1 2-2.7 .9-2.8 1.6-19zM60.2,27.9l0,1.6 2.5,.8 .7-.8 -.7-2.3 -2.5,.7zM81,43.1l1.9-2 2.6-.4 2.5,.3 6.4,2.1 3.3,2.7 2.5,8.2 .1,8.1 -1.4,5.5 .5,5.4 -.3,2.7 -1,4 -2.5,3.2 -7.6,.7 -2.3-2.4 -.7-2.7 .2-2.8 -1.6-2.7 -.1-2.7 2.6-2.7 1.3-2.7 -3.2-5.5 -.9-2.7 -.9-8.2 -1.1-2.7 -.3-2.7z"/><path fill="#f5c300" fill-rule="evenodd" d="M27.2,-5.8l8.2,0 -1.8,2.7 .1,2.7 1.4,2.8 .3,2.7 -2.4,5.4 -2,8.2 1.1,2.7 2.8,4.1 2.6,1.2 2.5-1.2 2.5-5.6 2-1.2 1.4-2.7 -.9-5.5 1-2.7 .1-2.7 -.8-2.7 1.8-8.2 13.9,0 1.2,13.6 -.9,2.7 -2.9,5.5 -1.5,5.4 -4.6,10.9 1.9,5.4 -1.6,1.2 -2.5-.6 -2.6-2.4 -2.5-.6 -2.5,1.1 -2.5,1.8 -5,5 -5.1,8.8 -2.5,2.7 -3.7,2.1 -3.9,3.3 -2.5,.5 -2.6-1.4 -2.5,.5 -2.5,1.6 -2.5-.6 -1.6-1.2 -3.5-1.4 -2.5-2.8 -2.5,.5 -2.5,2.2 -0-20.1 .5-.2 1.6-2.7 -2.1-2.9 -0-5.3 12.6-1.1 2.5,1.3 2.5,.5 8.9-6.1 2-5.4 .8-10.9 .9-3.3 2.4-4.9 0-2.7zM87.1,48.6l.8-2.3 2.6,.1 2.6,2.2 .5,2.7 1.9,2.7 .4,2.8 -2.9,3.9 -2.5-2 -1.2-1.9 -1.4-3.2 -.8-5zM39.7,54l.3-1.1 .4,1.1 -.4,.6 -.3-.6z"/><path fill="#f2a500" fill-rule="evenodd" d="M-5.4,43.1l-0-.6 1.5,.6 .6,2.7 -.7,2.7 -1.4,2.3 -0-7.7z"/><path fill="#00ccff" fill-rule="evenodd" d="M12.2,-5.8l5.8,0 .8,8.2 -.3,5.4 -1.1,4.4 -2.6,4 -2.5,.6 -3.8-3.6 -.5-2.7 .6-5.4 .9-2.7 1.8-2.8 .9-5.4zM78.7,15.9l1.7-1.4 2.5-.8 2.5-.5 5.1,.4 2.5,.9 7.3,6.8 2.8,5.7 5-.1 5.1,.8 -0,20.6 -2.6,2.3 -2.5,.2 -2.5-.7 -2.5-4.3 -7.6-6.5 -2.5-.9 -10.1-1.9 -5.1-2.4 -1.8-1.9 -1.5-2.7 -2.8-8.2 1.9-2.7 5.1-2.7zM63.9,83.9l1.3-1 5.1-1.4 2.5,1 2.6,4.1 .9,2.7 -2.6,8.2 -.2,2.7 3.1,2.7 -1.3,1.5 -2.5,.7 -5.1,.1 -.7,.5 -.9,2.7 1.3,5.4 -.2,8.2 -37.3,-0 -2.5-.7 -1.9,.7 -30.9,-0 -0-16.6 2.5-1.4 12.6-.8 5.1,1.1 7.5,.3 2.5-1 5.1,3.1 5-3.4 5.1,.2 2.5,1.2 2.5-1.5 7.6,1.1 2.5-1 2.5-.1 5.4-5.7 -0-2.7 -1.8-2.7 -.8-2.8 .6-2.7 2.9-2.7z"/><path fill="#0088ff" fill-rule="evenodd" d="M82.1,18.7l3.3-1.4 5.1,1.4 2.7,2.7 3.9,2.7 2,5.5 1.5,2.2 5.3,3.2 0,2.7 -2.8,1.2 -2.5-3.2 -2.3-.7 -7.8,.7 -2.6-.3 -7.8-3.1 -2.1-2.7 -.9-2.7 .4-2.8 4.6-5.4zM-5.4,111.1l-0-.4 .5,.4 -.5,3 0-3zM8.3,122l1.5-1.4 3,1.4 -4.5,0z"/><path fill="#0055ff" fill-rule="evenodd" d="M82.8,24.1l2.6-2.6 2.5,.8 6.2,4.5 1,2.7 -2.1,3 -2.5,.6 -2.6-.5 -5.5-3.1 -.8-2.7 1.2-2.7z"/></g><use href="#st" fill="none" stroke="#8c8c8c" stroke-width="0.45"/><use href="#bb" fill="#151515"/><use href="#rv" fill="none" stroke="#000" stroke-width="1.3" stroke-linejoin="round"/><use href="#mj" fill="none" stroke="#000" stroke-width="1.0"/><use href="#bd" fill="none" stroke="#000" stroke-width="0.85"/><use href="#cs" fill="none" stroke="#000" stroke-width="0.85"/><use href="#br" fill="none" stroke="#000" stroke-width="0.9"/></svg><rect x="0" y="0" width="107.3" height="115.20" fill="none" stroke="#6e6e6e" stroke-width="0.7"/></g>
<text x="354.90" y="766.70" font-size="6.4" font-weight="bold" stroke="#000" stroke-width="0.22" textLength="48.16" lengthAdjust="spacingAndGlyphs">M39 - TaiESM1</text>
<g transform="translate(465.00,770.30)"><svg width="107.3" height="115.20" overflow="hidden"><rect x="-1" y="-1" width="109.3" height="118.2" fill="#add8e6"/><use href="#land" fill="#fde4c6"/><g clip-path="url(#cb)"><path fill="#ffffff" fill-rule="evenodd" d="M-2,-2H109.8V118.2H-2Z"/><path fill="#f7e400" fill-rule="evenodd" d="M-5.4,-5.8l118.6,0 -0,21.6 -5.1-1.3 -5,1.3 -2.5,0 -5.1,1.8 -4.6,3.8 -1.4,2.7 .1,2.7 -.3,2.8 -1.3,2.7 -.3,8.1 -.8,2.8 -4,3.6 -4.4,1.8 -2.3,2.7 -.7,2.7 0,2.8 1.3,2.7 -1.5,1.7 -2.5,.9 -1.4,5.5 .3,2.7 1.1,2 1.2,.8 .1,2.7 -1.3,1.7 0,2.2 5.1,7.5 2.3-3.3 .7-2.7 2-1.7 2.5-.3 .9-.7 1.2-2.7 -.5-2.7 -3.1-2.8 -.7-2.7 0-2.7 .6-2.7 4.4-2.7 -1.1-8.2 .9-1.5 2.5-2.1 2.5,.1 2.5,1.9 2.5,6.1 2.6,-0 .6-4.5 -1-2.7 -3.3-2.7 -.3-2.7 2.5-5.5 -.7-5.4 .2-2.7 4.5-6.1 2.5-.6 5.1,3.1 2.5,.9 -0,34.8 -2.5-2.7 -5.1-1.5 -2.5,.1 -2.3,1.9 -1,5.4 .3,5.4 -1.2,5.5 1.7,3.5 2.5,1.5 5,.8 2.6-.3 2.5-1.1 -0,41.8 -1.6,0 -.9-1.9 -2.6-2.7 -2.5,.7 -1.6,3.9 -109.4,0 0-2.4 1.4-3 -1.4-3.4 0-119zM4.7,100.2l-2.1,2.8 2.1,2.9 2.5,.7 2.3-3.6 .9-2.8 -5.7,-0zM55.2,116.2l-.4,.4 .4,2.6 1.1-2.6 -1.1-.4zM80.4,102l-2,1 2,1.1 .6-1.1 -.6-1z"/><path fill="#f5c300" fill-rule="evenodd" d="M-5.4,-5.8l118.6,0 -0,18.6 -5.1-1.2 -7.5,1.5 -5.1-.7 -2.5,1.7 -6.4,7.3 -2.1,13.6 -1.6,5.7 -2.1,2.5 -2.9,1 -2.6,2 -1.9,2.4 -1.8,5.4 -1.3,2.3 -2.5,1.3 -5.1,.7 -2.5-.6 -5-3.5 -7.6,.7 -2,1.9 -1.1,5.4 -2,4.6 -7.5,6.4 -2.6-.5 -2.5-1.2 -7.5,.1 -5.1-.9 -10.1,3 -5-1.6 -7.6-.2 -0-77.7zM104.8,29.5l.8-.4 1.2,.4 -1.2,1.7 -.8-1.7zM58.3,70.3l1.9-1.7 2.5-.5 2.6,1.1 2.1,3.8 .9,2.7 -.1,5.5 .9,5.4 -.2,2.7 -1.6,5.5 -2,3.5 -5.1-2.2 -2.5,.8 -7.6-4.3 -5-1.7 -5.1,.2 -1.4,1 -2,2.7 -1.6,.8 -2.5,0 -4.9-.8 -2.7-2.3 -2.5-.7 -2.6-.2 -5,.7 -2.5-1.4 -5.1,1.5 -2.5,1.7 -2.5,.2 -7.6-3.5 .3-6.9 2.2-1 7.6-.4 2.5-1 2.5-.3 2.6-2.6 2.5-.9 2.5,1 11.6,2.5 1,.5 2.6,3.8 2.5,1.4 5-4.2 12.6-6.6 2.6-1.9 3.1-3.9zM88.9,89.4l1.6-1.1 .6,1.1 .4,2.7 -1,.5 -1.1-.5 -.5-2.7zM4.6,122l2.7-1.2 2.6,1.2 -5.3,0z"/><path fill="#f2a500" fill-rule="evenodd" d="M-5.4,-5.8l118.6,0 -0,15.5 -5.1-1.3 -5,1 -7.6-2.2 -2.5-.2 -5,1.6 -2.2,1.9 -.8,5.5 -1.7,5.4 -1.5,10.9 -1.4,3 -5.1,3.9 -2.6,1.2 -3.4,5.5 -1.5,5.7 -2.6,0 -2.5-1.4 -12.6-.2 -2.5,.4 -2.5,1.5 -2.2,2.1 -1.8,8.2 -1.1,1.8 -2.5,2.5 -2.5,1 -7.6-.6 -2.5,.3 -2.5-.3 -2.6-1.1 -5-.5 -7.6,1.1 -5,1.9 -7.6,.1 -0-74.2z"/><path fill="#ff8000" fill-rule="evenodd" d="M-5.4,-5.8l81.3,0 2.1,2.7 .9,2.7 -1.8,2.8 -.9,2.7 -.3,2.7 3.4,8.2 .2,5.4 -1.6,7.9 -2.6,2 -2.5-1.7 -2.7,2.7 -.4,2.7 -1.2,2.7 -3.3,3.2 -7.2,2.3 -2.8,1.4 -2.6,0 -5-2.3 -2.5-.4 -2.4,1.3 -.2,1 -1.7,1.7 1.7,2.7 -2.5,.5 -.4-.5 0-2.7 -7.2-1.1 -5,4.6 -2.5-1.1 -2.5-.3 -2.6,.6 -6.1,-0 .5-5.4 -4-5.5 -1.9-5.4 -1.1-1.5 -2.5,.4 -2.5,3 -2.6,1 -5-.8 -0-40.2zM2.2,12.9l-.7,.3 -.3,2.8 1,1.1 2.5-1.1 -1.2-2.8 -1.3-.3zM109.5,2.3l3.7-1.4 0,4.5 -2.2-.4 -1.5-2.7zM32.6,59.5l2.4-1.3 2.7,1.3 -2.7,2.9 -2.6-.2 .2-2.7z"/><path fill="#f56a00" fill-rule="evenodd" d="M23,-5.8l50,0 1,5.4 -1.6,8.2 1.5,13.6 -1.9,2.7 -6.3,5.5 -3.3,5.4 -7.2,3.8 -2.5,.1 -2.5-2.5 -2.6-.9 -5,.4 -5.1-2.3 -2.5,.1 -7.5,2.3 -2.6,.2 -1.5-1.2 2.7-2.7 -3.7-2 -.9-3.5 1.1-2.7 3-2.7 -.7-2.3 -2.5-1.3 -2-1.8 2-.8 2.2-2 .7-2.7 -5.4-2 -.8-3.4 .8-3.4 4.3-4.8 -1.2-2.7zM-1,-.4l1.7,0 .6,2.7 -1.6,.9 -2.5-.9 1.8-2.7z"/><path fill="#fa3e00" fill-rule="evenodd" d="M56.8,-5.8l10.4,0 1.2,2.7 .4,2.7 -1.4,2.8 -.5,2.7 .1,10.9 -.8,5.4 -1,.9 -2.5,.4 -2.5-.5 -2.5,.8 -2.6,2.3 -2.5-1.2 2.8-5.4 .8-2.7 -.3-5.5 -3.3-3.8 -.7-1.6 .1-2.7 4.1-5.5 .7-2.7zM32.3,10.5l2.6,0 4.4,2.7 2.8,2.7 .8,5.5 -.4,.6 -5,2.3 -2.6,.2 -.7-.4 -1.8-3.6 -.7-7.3 .6-2.7z"/></g><use href="#st" fill="none" stroke="#8c8c8c" stroke-width="0.45"/><use href="#bb" fill="#151515"/><use href="#rv" fill="none" stroke="#000" stroke-width="1.3" stroke-linejoin="round"/><use href="#mj" fill="none" stroke="#000" stroke-width="1.0"/><use href="#bd" fill="none" stroke="#000" stroke-width="0.85"/><use href="#cs" fill="none" stroke="#000" stroke-width="0.85"/><use href="#br" fill="none" stroke="#000" stroke-width="0.9"/></svg><rect x="0" y="0" width="107.3" height="115.20" fill="none" stroke="#6e6e6e" stroke-width="0.7"/></g>
<text x="465.30" y="766.70" font-size="6.4" font-weight="bold" stroke="#000" stroke-width="0.22" textLength="64.78" lengthAdjust="spacingAndGlyphs">M40 - UKESM1-0-LL</text>
<rect x="31.50" y="897.1" width="31.39" height="22.70" fill="#6a0060"/><rect x="62.59" y="897.1" width="31.39" height="22.70" fill="#7d0088"/><rect x="93.67" y="897.1" width="31.39" height="22.70" fill="#4a28a8"/><rect x="124.75" y="897.1" width="31.39" height="22.70" fill="#5a48c0"/><rect x="155.84" y="897.1" width="31.39" height="22.70" fill="#0a0ab4"/><rect x="186.93" y="897.1" width="31.39" height="22.70" fill="#0022e6"/><rect x="218.01" y="897.1" width="31.39" height="22.70" fill="#0055ff"/><rect x="249.09" y="897.1" width="31.39" height="22.70" fill="#0088ff"/><rect x="280.18" y="897.1" width="31.39" height="22.70" fill="#00ccff"/><rect x="311.26" y="897.1" width="31.39" height="22.70" fill="#ffffff"/><rect x="342.35" y="897.1" width="31.39" height="22.70" fill="#ffffff"/><rect x="373.44" y="897.1" width="31.39" height="22.70" fill="#f7e400"/><rect x="404.52" y="897.1" width="31.39" height="22.70" fill="#f5c300"/><rect x="435.61" y="897.1" width="31.39" height="22.70" fill="#f2a500"/><rect x="466.69" y="897.1" width="31.39" height="22.70" fill="#ff8000"/><rect x="497.78" y="897.1" width="31.39" height="22.70" fill="#f56a00"/><rect x="528.86" y="897.1" width="31.39" height="22.70" fill="#fa3e00"/><rect x="559.95" y="897.1" width="31.39" height="22.70" fill="#e31a00"/><rect x="591.03" y="897.1" width="31.39" height="22.70" fill="#b01e00"/><rect x="622.12" y="897.1" width="31.39" height="22.70" fill="#860a00"/><path d="M31.7,897.1 L0.8,908.45 L31.7,919.8Z" fill="#2a0010"/><path d="M653.0,897.1 L684.7,908.45 L653.0,919.8Z" fill="#3a0000"/><path d="M31.5,897.1 L0.8,908.45 L31.5,919.8 L653.2,919.8 L684.7,908.45 L653.2,897.1Z" fill="none" stroke="#111" stroke-width="0.5"/><line x1="31.50" y1="919.8" x2="31.50" y2="922.3" stroke="#000" stroke-width="0.7"/><text x="31.50" y="931.70" font-size="9" text-anchor="middle" textLength="24.72" lengthAdjust="spacingAndGlyphs">−100</text><line x1="62.59" y1="919.8" x2="62.59" y2="922.3" stroke="#000" stroke-width="0.7"/><text x="62.59" y="931.70" font-size="9" text-anchor="middle" textLength="18.99" lengthAdjust="spacingAndGlyphs">−90</text><line x1="93.67" y1="919.8" x2="93.67" y2="922.3" stroke="#000" stroke-width="0.7"/><text x="93.67" y="931.70" font-size="9" text-anchor="middle" textLength="18.99" lengthAdjust="spacingAndGlyphs">−80</text><line x1="124.75" y1="919.8" x2="124.75" y2="922.3" stroke="#000" stroke-width="0.7"/><text x="124.75" y="931.70" font-size="9" text-anchor="middle" textLength="18.99" lengthAdjust="spacingAndGlyphs">−70</text><line x1="155.84" y1="919.8" x2="155.84" y2="922.3" stroke="#000" stroke-width="0.7"/><text x="155.84" y="931.70" font-size="9" text-anchor="middle" textLength="18.99" lengthAdjust="spacingAndGlyphs">−60</text><line x1="186.93" y1="919.8" x2="186.93" y2="922.3" stroke="#000" stroke-width="0.7"/><text x="186.93" y="931.70" font-size="9" text-anchor="middle" textLength="18.99" lengthAdjust="spacingAndGlyphs">−50</text><line x1="218.01" y1="919.8" x2="218.01" y2="922.3" stroke="#000" stroke-width="0.7"/><text x="218.01" y="931.70" font-size="9" text-anchor="middle" textLength="18.99" lengthAdjust="spacingAndGlyphs">−40</text><line x1="249.09" y1="919.8" x2="249.09" y2="922.3" stroke="#000" stroke-width="0.7"/><text x="249.09" y="931.70" font-size="9" text-anchor="middle" textLength="18.99" lengthAdjust="spacingAndGlyphs">−30</text><line x1="280.18" y1="919.8" x2="280.18" y2="922.3" stroke="#000" stroke-width="0.7"/><text x="280.18" y="931.70" font-size="9" text-anchor="middle" textLength="18.99" lengthAdjust="spacingAndGlyphs">−20</text><line x1="311.26" y1="919.8" x2="311.26" y2="922.3" stroke="#000" stroke-width="0.7"/><text x="311.26" y="931.70" font-size="9" text-anchor="middle" textLength="18.99" lengthAdjust="spacingAndGlyphs">−10</text><line x1="342.35" y1="919.8" x2="342.35" y2="922.3" stroke="#000" stroke-width="0.7"/><text x="342.35" y="931.70" font-size="9" text-anchor="middle" textLength="5.73" lengthAdjust="spacingAndGlyphs">0</text><line x1="373.44" y1="919.8" x2="373.44" y2="922.3" stroke="#000" stroke-width="0.7"/><text x="373.44" y="931.70" font-size="9" text-anchor="middle" textLength="11.45" lengthAdjust="spacingAndGlyphs">10</text><line x1="404.52" y1="919.8" x2="404.52" y2="922.3" stroke="#000" stroke-width="0.7"/><text x="404.52" y="931.70" font-size="9" text-anchor="middle" textLength="11.45" lengthAdjust="spacingAndGlyphs">20</text><line x1="435.61" y1="919.8" x2="435.61" y2="922.3" stroke="#000" stroke-width="0.7"/><text x="435.61" y="931.70" font-size="9" text-anchor="middle" textLength="11.45" lengthAdjust="spacingAndGlyphs">30</text><line x1="466.69" y1="919.8" x2="466.69" y2="922.3" stroke="#000" stroke-width="0.7"/><text x="466.69" y="931.70" font-size="9" text-anchor="middle" textLength="11.45" lengthAdjust="spacingAndGlyphs">40</text><line x1="497.78" y1="919.8" x2="497.78" y2="922.3" stroke="#000" stroke-width="0.7"/><text x="497.78" y="931.70" font-size="9" text-anchor="middle" textLength="11.45" lengthAdjust="spacingAndGlyphs">50</text><line x1="528.86" y1="919.8" x2="528.86" y2="922.3" stroke="#000" stroke-width="0.7"/><text x="528.86" y="931.70" font-size="9" text-anchor="middle" textLength="11.45" lengthAdjust="spacingAndGlyphs">60</text><line x1="559.95" y1="919.8" x2="559.95" y2="922.3" stroke="#000" stroke-width="0.7"/><text x="559.95" y="931.70" font-size="9" text-anchor="middle" textLength="11.45" lengthAdjust="spacingAndGlyphs">70</text><line x1="591.03" y1="919.8" x2="591.03" y2="922.3" stroke="#000" stroke-width="0.7"/><text x="591.03" y="931.70" font-size="9" text-anchor="middle" textLength="11.45" lengthAdjust="spacingAndGlyphs">80</text><line x1="622.12" y1="919.8" x2="622.12" y2="922.3" stroke="#000" stroke-width="0.7"/><text x="622.12" y="931.70" font-size="9" text-anchor="middle" textLength="11.45" lengthAdjust="spacingAndGlyphs">90</text><line x1="653.20" y1="919.8" x2="653.20" y2="922.3" stroke="#000" stroke-width="0.7"/><text x="653.20" y="931.70" font-size="9" text-anchor="middle" textLength="17.18" lengthAdjust="spacingAndGlyphs">100</text><text x="342.35" y="942" font-size="9" font-weight="bold" text-anchor="middle" textLength="57.38" lengthAdjust="spacingAndGlyphs">SSR [W/m²]</text>
</svg></body></html>
